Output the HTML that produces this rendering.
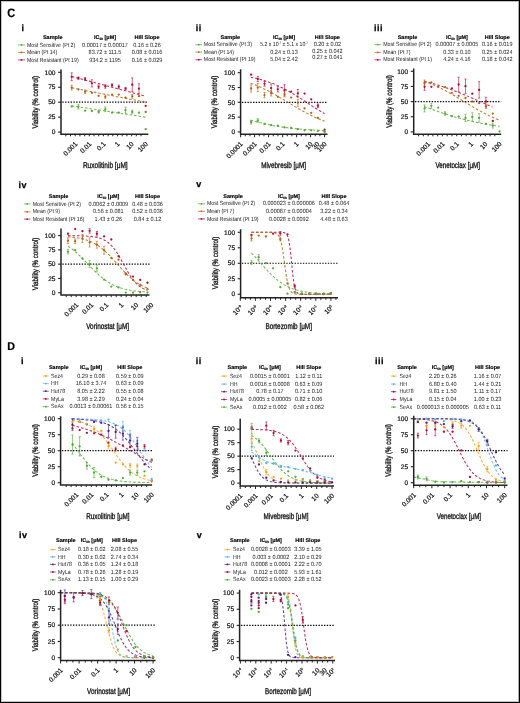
<!DOCTYPE html>
<html><head><meta charset="utf-8"><style>
html,body{margin:0;padding:0;background:#fff;}
svg{display:block;will-change:transform;}
text{font-family:"Liberation Sans",sans-serif;text-rendering:geometricPrecision;}
</style></head><body>
<svg width="520" height="703" viewBox="0 0 520 703">
<rect x="0" y="0" width="520" height="703" fill="#fff"/>
<text transform="translate(7.3,17) scale(0.9,1)" font-size="12.2" font-weight="bold" fill="#000" stroke="#000" stroke-width="0.2">C</text>
<text transform="translate(7.3,350.3) scale(0.95,1)" font-size="11.3" font-weight="bold" fill="#000" stroke="#000" stroke-width="0.2">D</text>
<text x="21.4" y="30.9" font-size="9" text-anchor="start" font-weight="bold" fill="#000" stroke="#000" stroke-width="0.25" letter-spacing="0.5">i</text>
<text x="52.7" y="39" font-size="5.5" text-anchor="middle" font-weight="bold" fill="#000" stroke="#000" stroke-width="0.15" >Sample</text>
<text x="105" y="39" font-size="5.5" text-anchor="middle" font-weight="bold" fill="#000" stroke="#000" stroke-width="0.15" textLength="22" lengthAdjust="spacingAndGlyphs">IC<tspan font-size="3.3" dy="1">50</tspan><tspan dy="-1"> [μM]</tspan></text>
<text x="147" y="39" font-size="5.5" text-anchor="middle" font-weight="bold" fill="#000" stroke="#000" stroke-width="0.15" >Hill Slope</text>
<line x1="18" y1="44.9" x2="25" y2="44.9" stroke="#58a636" stroke-width="0.7" />
<circle cx="21.5" cy="44.9" r="0.9" fill="#58a636"/>
<text x="27" y="46.5" font-size="6" text-anchor="start" textLength="48.2" lengthAdjust="spacingAndGlyphs" fill="#222" >Most Sensitive (Pt 2)</text>
<text x="105" y="46.5" font-size="6" text-anchor="middle" textLength="45.83" lengthAdjust="spacingAndGlyphs" fill="#222" >0.00017 ± 0.00017</text>
<text x="147" y="46.5" font-size="6" text-anchor="middle" textLength="27.48" lengthAdjust="spacingAndGlyphs" fill="#222" >0.16 ± 0.26</text>
<line x1="18" y1="52.4" x2="25" y2="52.4" stroke="#b06414" stroke-width="0.7" />
<circle cx="21.5" cy="52.4" r="0.9" fill="#b06414"/>
<text x="27" y="54" font-size="6" text-anchor="start" textLength="30.2" lengthAdjust="spacingAndGlyphs" fill="#222" >Mean (Pt 14)</text>
<text x="105" y="54" font-size="6" text-anchor="middle" textLength="32.78" lengthAdjust="spacingAndGlyphs" fill="#222" >83.72 ± 111.5</text>
<text x="147" y="54" font-size="6" text-anchor="middle" textLength="30.54" lengthAdjust="spacingAndGlyphs" fill="#222" >0.08 ± 0.016</text>
<line x1="18" y1="59.9" x2="25" y2="59.9" stroke="#ac0c3a" stroke-width="0.7" />
<circle cx="21.5" cy="59.9" r="0.9" fill="#ac0c3a"/>
<text x="27" y="61.5" font-size="6" text-anchor="start" textLength="51.68" lengthAdjust="spacingAndGlyphs" fill="#222" >Most Resistant (Pt 19)</text>
<text x="105" y="61.5" font-size="6" text-anchor="middle" textLength="31.66" lengthAdjust="spacingAndGlyphs" fill="#222" >934.2 ± 1195</text>
<text x="147" y="61.5" font-size="6" text-anchor="middle" textLength="30.54" lengthAdjust="spacingAndGlyphs" fill="#222" >0.16 ± 0.029</text>
<line x1="62.35" y1="102.2" x2="148.3" y2="102.2" stroke="#000" stroke-width="1.2" stroke-dasharray="1.35 1.42"/>
<polyline points="71.7,76.49 145.7,96.22" fill="none" stroke="#ac0c3a" stroke-width="1.05" stroke-dasharray="2.6 1.9" opacity="0.85"/>
<polyline points="71.7,87.85 145.7,102.2" fill="none" stroke="#b06414" stroke-width="1.05" stroke-dasharray="2.6 1.9" opacity="0.85"/>
<polyline points="71.7,105.79 145.7,117.15" fill="none" stroke="#58a636" stroke-width="1.05" stroke-dasharray="2.6 1.9" opacity="0.85"/>
<line x1="71.7" y1="72.9" x2="71.7" y2="80.67" stroke="#ac0c3a" stroke-width="0.6" />
<line x1="70.6" y1="72.9" x2="72.8" y2="72.9" stroke="#ac0c3a" stroke-width="0.6" />
<line x1="70.6" y1="80.67" x2="72.8" y2="80.67" stroke="#ac0c3a" stroke-width="0.6" />
<circle cx="71.7" cy="76.78" r="1.15" fill="#ac0c3a"/>
<line x1="78.43" y1="76.96" x2="78.43" y2="79.36" stroke="#ac0c3a" stroke-width="0.6" />
<line x1="77.33" y1="76.96" x2="79.53" y2="76.96" stroke="#ac0c3a" stroke-width="0.6" />
<line x1="77.33" y1="79.36" x2="79.53" y2="79.36" stroke="#ac0c3a" stroke-width="0.6" />
<circle cx="78.43" cy="78.16" r="1.15" fill="#ac0c3a"/>
<line x1="85.15" y1="77.56" x2="85.15" y2="80.55" stroke="#ac0c3a" stroke-width="0.6" />
<line x1="84.05" y1="77.56" x2="86.25" y2="77.56" stroke="#ac0c3a" stroke-width="0.6" />
<line x1="84.05" y1="80.55" x2="86.25" y2="80.55" stroke="#ac0c3a" stroke-width="0.6" />
<circle cx="85.15" cy="79.06" r="1.15" fill="#ac0c3a"/>
<line x1="91.88" y1="79.78" x2="91.88" y2="86.95" stroke="#ac0c3a" stroke-width="0.6" />
<line x1="90.78" y1="79.78" x2="92.98" y2="79.78" stroke="#ac0c3a" stroke-width="0.6" />
<line x1="90.78" y1="86.95" x2="92.98" y2="86.95" stroke="#ac0c3a" stroke-width="0.6" />
<circle cx="91.88" cy="83.36" r="1.15" fill="#ac0c3a"/>
<line x1="98.61" y1="85.04" x2="98.61" y2="88.63" stroke="#ac0c3a" stroke-width="0.6" />
<line x1="97.51" y1="85.04" x2="99.71" y2="85.04" stroke="#ac0c3a" stroke-width="0.6" />
<line x1="97.51" y1="88.63" x2="99.71" y2="88.63" stroke="#ac0c3a" stroke-width="0.6" />
<circle cx="98.61" cy="86.83" r="1.15" fill="#ac0c3a"/>
<line x1="105.34" y1="84.68" x2="105.34" y2="88.27" stroke="#ac0c3a" stroke-width="0.6" />
<line x1="104.24" y1="84.68" x2="106.44" y2="84.68" stroke="#ac0c3a" stroke-width="0.6" />
<line x1="104.24" y1="88.27" x2="106.44" y2="88.27" stroke="#ac0c3a" stroke-width="0.6" />
<circle cx="105.34" cy="86.47" r="1.15" fill="#ac0c3a"/>
<line x1="112.06" y1="83.9" x2="112.06" y2="86.29" stroke="#ac0c3a" stroke-width="0.6" />
<line x1="110.96" y1="83.9" x2="113.16" y2="83.9" stroke="#ac0c3a" stroke-width="0.6" />
<line x1="110.96" y1="86.29" x2="113.16" y2="86.29" stroke="#ac0c3a" stroke-width="0.6" />
<circle cx="112.06" cy="85.1" r="1.15" fill="#ac0c3a"/>
<line x1="118.79" y1="85.04" x2="118.79" y2="88.63" stroke="#ac0c3a" stroke-width="0.6" />
<line x1="117.69" y1="85.04" x2="119.89" y2="85.04" stroke="#ac0c3a" stroke-width="0.6" />
<line x1="117.69" y1="88.63" x2="119.89" y2="88.63" stroke="#ac0c3a" stroke-width="0.6" />
<circle cx="118.79" cy="86.83" r="1.15" fill="#ac0c3a"/>
<line x1="125.52" y1="87.37" x2="125.52" y2="89.76" stroke="#ac0c3a" stroke-width="0.6" />
<line x1="124.42" y1="87.37" x2="126.62" y2="87.37" stroke="#ac0c3a" stroke-width="0.6" />
<line x1="124.42" y1="89.76" x2="126.62" y2="89.76" stroke="#ac0c3a" stroke-width="0.6" />
<circle cx="125.52" cy="88.57" r="1.15" fill="#ac0c3a"/>
<line x1="132.25" y1="77.86" x2="132.25" y2="91.62" stroke="#ac0c3a" stroke-width="0.6" />
<line x1="131.15" y1="77.86" x2="133.35" y2="77.86" stroke="#ac0c3a" stroke-width="0.6" />
<line x1="131.15" y1="91.62" x2="133.35" y2="91.62" stroke="#ac0c3a" stroke-width="0.6" />
<circle cx="132.25" cy="84.74" r="1.15" fill="#ac0c3a"/>
<line x1="138.97" y1="83.78" x2="138.97" y2="93.35" stroke="#ac0c3a" stroke-width="0.6" />
<line x1="137.87" y1="83.78" x2="140.07" y2="83.78" stroke="#ac0c3a" stroke-width="0.6" />
<line x1="137.87" y1="93.35" x2="140.07" y2="93.35" stroke="#ac0c3a" stroke-width="0.6" />
<circle cx="138.97" cy="88.57" r="1.15" fill="#ac0c3a"/>
<circle cx="145.7" cy="105.85" r="1.15" fill="#ac0c3a"/>
<line x1="71.7" y1="85.28" x2="71.7" y2="90.06" stroke="#b06414" stroke-width="0.6" />
<line x1="70.6" y1="85.28" x2="72.8" y2="85.28" stroke="#b06414" stroke-width="0.6" />
<line x1="70.6" y1="90.06" x2="72.8" y2="90.06" stroke="#b06414" stroke-width="0.6" />
<circle cx="71.7" cy="87.67" r="1.15" fill="#b06414"/>
<circle cx="78.43" cy="89.4" r="1.15" fill="#b06414"/>
<line x1="85.15" y1="89.88" x2="85.15" y2="93.47" stroke="#b06414" stroke-width="0.6" />
<line x1="84.05" y1="89.88" x2="86.25" y2="89.88" stroke="#b06414" stroke-width="0.6" />
<line x1="84.05" y1="93.47" x2="86.25" y2="93.47" stroke="#b06414" stroke-width="0.6" />
<circle cx="85.15" cy="91.68" r="1.15" fill="#b06414"/>
<circle cx="91.88" cy="92.87" r="1.15" fill="#b06414"/>
<circle cx="98.61" cy="95.8" r="1.15" fill="#b06414"/>
<line x1="105.34" y1="95.02" x2="105.34" y2="98.61" stroke="#b06414" stroke-width="0.6" />
<line x1="104.24" y1="95.02" x2="106.44" y2="95.02" stroke="#b06414" stroke-width="0.6" />
<line x1="104.24" y1="98.61" x2="106.44" y2="98.61" stroke="#b06414" stroke-width="0.6" />
<circle cx="105.34" cy="96.82" r="1.15" fill="#b06414"/>
<circle cx="112.06" cy="94.61" r="1.15" fill="#b06414"/>
<circle cx="118.79" cy="94.61" r="1.15" fill="#b06414"/>
<circle cx="125.52" cy="97.54" r="1.15" fill="#b06414"/>
<line x1="132.25" y1="94.55" x2="132.25" y2="98.13" stroke="#b06414" stroke-width="0.6" />
<line x1="131.15" y1="94.55" x2="133.35" y2="94.55" stroke="#b06414" stroke-width="0.6" />
<line x1="131.15" y1="98.13" x2="133.35" y2="98.13" stroke="#b06414" stroke-width="0.6" />
<circle cx="132.25" cy="96.34" r="1.15" fill="#b06414"/>
<circle cx="138.97" cy="96.22" r="1.15" fill="#b06414"/>
<circle cx="145.7" cy="111.89" r="1.15" fill="#b06414"/>
<circle cx="71.7" cy="106.39" r="1.15" fill="#58a636"/>
<line x1="78.43" y1="104.29" x2="78.43" y2="109.08" stroke="#58a636" stroke-width="0.6" />
<line x1="77.33" y1="104.29" x2="79.53" y2="104.29" stroke="#58a636" stroke-width="0.6" />
<line x1="77.33" y1="109.08" x2="79.53" y2="109.08" stroke="#58a636" stroke-width="0.6" />
<circle cx="78.43" cy="106.69" r="1.15" fill="#58a636"/>
<circle cx="85.15" cy="110.69" r="1.15" fill="#58a636"/>
<circle cx="91.88" cy="110.99" r="1.15" fill="#58a636"/>
<line x1="98.61" y1="110.69" x2="98.61" y2="113.08" stroke="#58a636" stroke-width="0.6" />
<line x1="97.51" y1="110.69" x2="99.71" y2="110.69" stroke="#58a636" stroke-width="0.6" />
<line x1="97.51" y1="113.08" x2="99.71" y2="113.08" stroke="#58a636" stroke-width="0.6" />
<circle cx="98.61" cy="111.89" r="1.15" fill="#58a636"/>
<line x1="105.34" y1="106.86" x2="105.34" y2="111.65" stroke="#58a636" stroke-width="0.6" />
<line x1="104.24" y1="106.86" x2="106.44" y2="106.86" stroke="#58a636" stroke-width="0.6" />
<line x1="104.24" y1="111.65" x2="106.44" y2="111.65" stroke="#58a636" stroke-width="0.6" />
<circle cx="105.34" cy="109.26" r="1.15" fill="#58a636"/>
<circle cx="112.06" cy="112.72" r="1.15" fill="#58a636"/>
<circle cx="118.79" cy="112.72" r="1.15" fill="#58a636"/>
<line x1="125.52" y1="107.16" x2="125.52" y2="113.14" stroke="#58a636" stroke-width="0.6" />
<line x1="124.42" y1="107.16" x2="126.62" y2="107.16" stroke="#58a636" stroke-width="0.6" />
<line x1="124.42" y1="113.14" x2="126.62" y2="113.14" stroke="#58a636" stroke-width="0.6" />
<circle cx="125.52" cy="110.15" r="1.15" fill="#58a636"/>
<line x1="132.25" y1="110.09" x2="132.25" y2="113.68" stroke="#58a636" stroke-width="0.6" />
<line x1="131.15" y1="110.09" x2="133.35" y2="110.09" stroke="#58a636" stroke-width="0.6" />
<line x1="131.15" y1="113.68" x2="133.35" y2="113.68" stroke="#58a636" stroke-width="0.6" />
<circle cx="132.25" cy="111.89" r="1.15" fill="#58a636"/>
<circle cx="138.97" cy="112.72" r="1.15" fill="#58a636"/>
<circle cx="145.7" cy="129.17" r="1.15" fill="#58a636"/>
<path d="M61,69.5 V134.3 H148.3" fill="none" stroke="#222" stroke-width="1.5"/>
<line x1="58.1" y1="132.1" x2="61" y2="132.1" stroke="#222" stroke-width="1.1" />
<text x="55.5" y="134.3" font-size="6.6" text-anchor="end" fill="#111" stroke="#111" stroke-width="0.2" >0</text>
<line x1="58.1" y1="117.15" x2="61" y2="117.15" stroke="#222" stroke-width="1.1" />
<text x="55.5" y="119.35" font-size="6.6" text-anchor="end" fill="#111" stroke="#111" stroke-width="0.2" >25</text>
<line x1="58.1" y1="102.2" x2="61" y2="102.2" stroke="#222" stroke-width="1.1" />
<text x="55.5" y="104.4" font-size="6.6" text-anchor="end" fill="#111" stroke="#111" stroke-width="0.2" >50</text>
<line x1="58.1" y1="87.25" x2="61" y2="87.25" stroke="#222" stroke-width="1.1" />
<text x="55.5" y="89.45" font-size="6.6" text-anchor="end" fill="#111" stroke="#111" stroke-width="0.2" >75</text>
<line x1="58.1" y1="72.3" x2="61" y2="72.3" stroke="#222" stroke-width="1.1" />
<text x="55.5" y="74.5" font-size="6.6" text-anchor="end" fill="#111" stroke="#111" stroke-width="0.2" >100</text>
<line x1="65.81" y1="134.3" x2="65.81" y2="136.3" stroke="#222" stroke-width="1" />
<line x1="70.51" y1="134.3" x2="70.51" y2="136.3" stroke="#222" stroke-width="1" />
<line x1="75.21" y1="134.3" x2="75.21" y2="136.3" stroke="#222" stroke-width="1" />
<line x1="79.91" y1="134.3" x2="79.91" y2="136.3" stroke="#222" stroke-width="1" />
<line x1="84.61" y1="134.3" x2="84.61" y2="136.3" stroke="#222" stroke-width="1" />
<line x1="89.31" y1="134.3" x2="89.31" y2="136.3" stroke="#222" stroke-width="1" />
<line x1="94.01" y1="134.3" x2="94.01" y2="136.3" stroke="#222" stroke-width="1" />
<line x1="98.71" y1="134.3" x2="98.71" y2="136.3" stroke="#222" stroke-width="1" />
<line x1="103.41" y1="134.3" x2="103.41" y2="136.3" stroke="#222" stroke-width="1" />
<line x1="108.11" y1="134.3" x2="108.11" y2="136.3" stroke="#222" stroke-width="1" />
<line x1="112.81" y1="134.3" x2="112.81" y2="136.3" stroke="#222" stroke-width="1" />
<line x1="117.51" y1="134.3" x2="117.51" y2="136.3" stroke="#222" stroke-width="1" />
<line x1="122.21" y1="134.3" x2="122.21" y2="136.3" stroke="#222" stroke-width="1" />
<line x1="126.91" y1="134.3" x2="126.91" y2="136.3" stroke="#222" stroke-width="1" />
<line x1="131.61" y1="134.3" x2="131.61" y2="136.3" stroke="#222" stroke-width="1" />
<line x1="136.31" y1="134.3" x2="136.31" y2="136.3" stroke="#222" stroke-width="1" />
<line x1="141.01" y1="134.3" x2="141.01" y2="136.3" stroke="#222" stroke-width="1" />
<text transform="translate(77.8,144.5) rotate(-45)" font-size="6.6" text-anchor="end" fill="#111" stroke="#111" stroke-width="0.2">0.001</text>
<text transform="translate(91.9,144.5) rotate(-45)" font-size="6.6" text-anchor="end" fill="#111" stroke="#111" stroke-width="0.2">0.01</text>
<text transform="translate(106,144.5) rotate(-45)" font-size="6.6" text-anchor="end" fill="#111" stroke="#111" stroke-width="0.2">0.1</text>
<text transform="translate(120.1,144.5) rotate(-45)" font-size="6.6" text-anchor="end" fill="#111" stroke="#111" stroke-width="0.2">1</text>
<text transform="translate(134.2,144.5) rotate(-45)" font-size="6.6" text-anchor="end" fill="#111" stroke="#111" stroke-width="0.2">10</text>
<text transform="translate(148.3,144.5) rotate(-45)" font-size="6.6" text-anchor="end" fill="#111" stroke="#111" stroke-width="0.2">100</text>
<text x="105.3" y="168" font-size="8.3" text-anchor="middle" textLength="44.8" lengthAdjust="spacingAndGlyphs" fill="#111" stroke="#111" stroke-width="0.32" >Ruxolitinib [μM]</text>
<text transform="translate(37.9,102.3) rotate(-90)" font-size="8" text-anchor="middle" fill="#111" stroke="#111" stroke-width="0.32" textLength="52.6" lengthAdjust="spacingAndGlyphs">Viability (% control)</text>
<text x="195.7" y="30.9" font-size="9" text-anchor="start" font-weight="bold" fill="#000" stroke="#000" stroke-width="0.25" letter-spacing="0.5">ii</text>
<text x="230.4" y="38.6" font-size="5.5" text-anchor="middle" font-weight="bold" fill="#000" stroke="#000" stroke-width="0.15" >Sample</text>
<text x="284" y="38.6" font-size="5.5" text-anchor="middle" font-weight="bold" fill="#000" stroke="#000" stroke-width="0.15" textLength="22" lengthAdjust="spacingAndGlyphs">IC<tspan font-size="3.3" dy="1">50</tspan><tspan dy="-1"> [μM]</tspan></text>
<text x="327.4" y="38.6" font-size="5.5" text-anchor="middle" font-weight="bold" fill="#000" stroke="#000" stroke-width="0.15" >Hill Slope</text>
<line x1="195.4" y1="44.7" x2="202" y2="44.7" stroke="#58a636" stroke-width="0.7" />
<circle cx="198.7" cy="44.7" r="0.9" fill="#58a636"/>
<text x="203.8" y="46.3" font-size="6" text-anchor="start" textLength="48.2" lengthAdjust="spacingAndGlyphs" fill="#222" >Most Sensitive (Pt 3)</text>
<text x="284" y="46.3" font-size="6" text-anchor="middle" textLength="47.6" lengthAdjust="spacingAndGlyphs" fill="#222" >5.2 x 10<tspan font-size="3.3" dy="-2">-7</tspan><tspan dy="2"> ± 5.1 x 10</tspan><tspan font-size="3.3" dy="-2">-7</tspan></text>
<text x="327.4" y="45.9" font-size="6" text-anchor="middle" textLength="27.48" lengthAdjust="spacingAndGlyphs" fill="#222" >0.20 ± 0.02</text>
<line x1="195.4" y1="52.1" x2="202" y2="52.1" stroke="#b06414" stroke-width="0.7" />
<circle cx="198.7" cy="52.1" r="0.9" fill="#b06414"/>
<text x="203.8" y="53.7" font-size="6" text-anchor="start" textLength="30.2" lengthAdjust="spacingAndGlyphs" fill="#222" >Mean (Pt 14)</text>
<text x="284" y="53.7" font-size="6" text-anchor="middle" textLength="27.48" lengthAdjust="spacingAndGlyphs" fill="#222" >0.24 ± 0.13</text>
<text x="327.4" y="52.5" font-size="6" text-anchor="middle" textLength="30.54" lengthAdjust="spacingAndGlyphs" fill="#222" >0.25 ± 0.042</text>
<line x1="195.4" y1="59.7" x2="202" y2="59.7" stroke="#ac0c3a" stroke-width="0.7" />
<circle cx="198.7" cy="59.7" r="0.9" fill="#ac0c3a"/>
<text x="203.8" y="61.3" font-size="6" text-anchor="start" textLength="51.68" lengthAdjust="spacingAndGlyphs" fill="#222" >Most Resistant (Pt 19)</text>
<text x="284" y="61.3" font-size="6" text-anchor="middle" textLength="27.48" lengthAdjust="spacingAndGlyphs" fill="#222" >5.04 ± 2.42</text>
<text x="327.4" y="59" font-size="6" text-anchor="middle" textLength="30.54" lengthAdjust="spacingAndGlyphs" fill="#222" >0.27 ± 0.041</text>
<line x1="241.95" y1="102.3" x2="327.5" y2="102.3" stroke="#000" stroke-width="1.2" stroke-dasharray="1.35 1.42"/>
<polyline points="250.68,77.3 251.91,77.54 253.14,77.78 254.38,78.04 255.61,78.32 256.84,78.6 258.07,78.9 259.3,79.21 260.54,79.53 261.77,79.87 263,80.22 264.23,80.59 265.46,80.97 266.7,81.37 267.93,81.78 269.16,82.21 270.39,82.65 271.62,83.11 272.86,83.59 274.09,84.09 275.32,84.6 276.55,85.13 277.78,85.67 279.02,86.24 280.25,86.81 281.48,87.41 282.71,88.02 283.94,88.65 285.18,89.3 286.41,89.96 287.64,90.64 288.87,91.33 290.1,92.03 291.34,92.75 292.57,93.48 293.8,94.23 295.03,94.98 296.26,95.75 297.5,96.52 298.73,97.31 299.96,98.1 301.19,98.89 302.42,99.69 303.66,100.5 304.89,101.31 306.12,102.12 307.35,102.93 308.58,103.73 309.82,104.54 311.05,105.34 312.28,106.14 313.51,106.94 314.74,107.72 315.98,108.5 317.21,109.27 318.44,110.03 319.67,110.78 320.9,111.52 322.14,112.24 323.37,112.95 324.6,113.65" fill="none" stroke="#ac0c3a" stroke-width="1.05" stroke-dasharray="2.6 1.9" opacity="0.85"/>
<polyline points="250.68,83.23 251.91,83.67 253.14,84.13 254.38,84.61 255.61,85.1 256.84,85.6 258.07,86.12 259.3,86.65 260.54,87.2 261.77,87.76 263,88.34 264.23,88.93 265.46,89.53 266.7,90.15 267.93,90.78 269.16,91.42 270.39,92.07 271.62,92.74 272.86,93.42 274.09,94.1 275.32,94.8 276.55,95.51 277.78,96.22 279.02,96.94 280.25,97.67 281.48,98.4 282.71,99.14 283.94,99.89 285.18,100.63 286.41,101.38 287.64,102.13 288.87,102.88 290.1,103.63 291.34,104.38 292.57,105.12 293.8,105.86 295.03,106.6 296.26,107.33 297.5,108.05 298.73,108.77 299.96,109.48 301.19,110.18 302.42,110.87 303.66,111.56 304.89,112.23 306.12,112.89 307.35,113.53 308.58,114.17 309.82,114.79 311.05,115.4 312.28,116 313.51,116.58 314.74,117.15 315.98,117.7 317.21,118.24 318.44,118.77 319.67,119.28 320.9,119.77 322.14,120.25 323.37,120.72 324.6,121.17" fill="none" stroke="#b06414" stroke-width="1.05" stroke-dasharray="2.6 1.9" opacity="0.85"/>
<polyline points="250.68,120.02 251.91,120.4 253.14,120.77 254.38,121.13 255.61,121.48 256.84,121.82 258.07,122.16 259.3,122.48 260.54,122.8 261.77,123.11 263,123.41 264.23,123.7 265.46,123.98 266.7,124.25 267.93,124.52 269.16,124.78 270.39,125.03 271.62,125.27 272.86,125.5 274.09,125.73 275.32,125.95 276.55,126.17 277.78,126.37 279.02,126.57 280.25,126.77 281.48,126.95 282.71,127.13 283.94,127.31 285.18,127.48 286.41,127.64 287.64,127.8 288.87,127.95 290.1,128.1 291.34,128.24 292.57,128.37 293.8,128.51 295.03,128.63 296.26,128.76 297.5,128.87 298.73,128.99 299.96,129.1 301.19,129.21 302.42,129.31 303.66,129.41 304.89,129.5 306.12,129.59 307.35,129.68 308.58,129.77 309.82,129.85 311.05,129.93 312.28,130 313.51,130.08 314.74,130.15 315.98,130.21 317.21,130.28 318.44,130.34 319.67,130.4 320.9,130.46 322.14,130.52 323.37,130.57 324.6,130.62" fill="none" stroke="#58a636" stroke-width="1.05" stroke-dasharray="2.6 1.9" opacity="0.85"/>
<circle cx="251.12" cy="74.65" r="1.15" fill="#ac0c3a"/>
<line x1="257.8" y1="76.37" x2="257.8" y2="81.58" stroke="#ac0c3a" stroke-width="0.6" />
<line x1="256.7" y1="76.37" x2="258.9" y2="76.37" stroke="#ac0c3a" stroke-width="0.6" />
<line x1="256.7" y1="81.58" x2="258.9" y2="81.58" stroke="#ac0c3a" stroke-width="0.6" />
<circle cx="257.8" cy="78.98" r="1.15" fill="#ac0c3a"/>
<line x1="264.48" y1="81.46" x2="264.48" y2="86.2" stroke="#ac0c3a" stroke-width="0.6" />
<line x1="263.38" y1="81.46" x2="265.58" y2="81.46" stroke="#ac0c3a" stroke-width="0.6" />
<line x1="263.38" y1="86.2" x2="265.58" y2="86.2" stroke="#ac0c3a" stroke-width="0.6" />
<circle cx="264.48" cy="83.83" r="1.15" fill="#ac0c3a"/>
<line x1="271.16" y1="83.95" x2="271.16" y2="92.24" stroke="#ac0c3a" stroke-width="0.6" />
<line x1="270.06" y1="83.95" x2="272.26" y2="83.95" stroke="#ac0c3a" stroke-width="0.6" />
<line x1="270.06" y1="92.24" x2="272.26" y2="92.24" stroke="#ac0c3a" stroke-width="0.6" />
<circle cx="271.16" cy="88.09" r="1.15" fill="#ac0c3a"/>
<line x1="277.84" y1="86.73" x2="277.84" y2="91.94" stroke="#ac0c3a" stroke-width="0.6" />
<line x1="276.74" y1="86.73" x2="278.94" y2="86.73" stroke="#ac0c3a" stroke-width="0.6" />
<line x1="276.74" y1="91.94" x2="278.94" y2="91.94" stroke="#ac0c3a" stroke-width="0.6" />
<circle cx="277.84" cy="89.34" r="1.15" fill="#ac0c3a"/>
<line x1="284.52" y1="84.6" x2="284.52" y2="95.85" stroke="#ac0c3a" stroke-width="0.6" />
<line x1="283.42" y1="84.6" x2="285.62" y2="84.6" stroke="#ac0c3a" stroke-width="0.6" />
<line x1="283.42" y1="95.85" x2="285.62" y2="95.85" stroke="#ac0c3a" stroke-width="0.6" />
<circle cx="284.52" cy="90.22" r="1.15" fill="#ac0c3a"/>
<circle cx="291.2" cy="91.53" r="1.15" fill="#ac0c3a"/>
<line x1="297.88" y1="89.45" x2="297.88" y2="97.15" stroke="#ac0c3a" stroke-width="0.6" />
<line x1="296.78" y1="89.45" x2="298.98" y2="89.45" stroke="#ac0c3a" stroke-width="0.6" />
<line x1="296.78" y1="97.15" x2="298.98" y2="97.15" stroke="#ac0c3a" stroke-width="0.6" />
<circle cx="297.88" cy="93.3" r="1.15" fill="#ac0c3a"/>
<circle cx="304.56" cy="93.6" r="1.15" fill="#ac0c3a"/>
<circle cx="311.24" cy="99.34" r="1.15" fill="#ac0c3a"/>
<line x1="317.92" y1="103.96" x2="317.92" y2="107.51" stroke="#ac0c3a" stroke-width="0.6" />
<line x1="316.82" y1="103.96" x2="319.02" y2="103.96" stroke="#ac0c3a" stroke-width="0.6" />
<line x1="316.82" y1="107.51" x2="319.02" y2="107.51" stroke="#ac0c3a" stroke-width="0.6" />
<circle cx="317.92" cy="105.73" r="1.15" fill="#ac0c3a"/>
<circle cx="324.6" cy="129.65" r="1.15" fill="#ac0c3a"/>
<line x1="251.12" y1="84.95" x2="251.12" y2="92.06" stroke="#b06414" stroke-width="0.6" />
<line x1="250.02" y1="84.95" x2="252.22" y2="84.95" stroke="#b06414" stroke-width="0.6" />
<line x1="250.02" y1="92.06" x2="252.22" y2="92.06" stroke="#b06414" stroke-width="0.6" />
<circle cx="251.12" cy="88.51" r="1.15" fill="#b06414"/>
<line x1="257.8" y1="83.47" x2="257.8" y2="91.76" stroke="#b06414" stroke-width="0.6" />
<line x1="256.7" y1="83.47" x2="258.9" y2="83.47" stroke="#b06414" stroke-width="0.6" />
<line x1="256.7" y1="91.76" x2="258.9" y2="91.76" stroke="#b06414" stroke-width="0.6" />
<circle cx="257.8" cy="87.62" r="1.15" fill="#b06414"/>
<line x1="264.48" y1="92.41" x2="264.48" y2="97.74" stroke="#b06414" stroke-width="0.6" />
<line x1="263.38" y1="92.41" x2="265.58" y2="92.41" stroke="#b06414" stroke-width="0.6" />
<line x1="263.38" y1="97.74" x2="265.58" y2="97.74" stroke="#b06414" stroke-width="0.6" />
<circle cx="264.48" cy="95.08" r="1.15" fill="#b06414"/>
<line x1="271.16" y1="90.7" x2="271.16" y2="95.91" stroke="#b06414" stroke-width="0.6" />
<line x1="270.06" y1="90.7" x2="272.26" y2="90.7" stroke="#b06414" stroke-width="0.6" />
<line x1="270.06" y1="95.91" x2="272.26" y2="95.91" stroke="#b06414" stroke-width="0.6" />
<circle cx="271.16" cy="93.3" r="1.15" fill="#b06414"/>
<circle cx="277.84" cy="96.79" r="1.15" fill="#b06414"/>
<line x1="284.52" y1="91.64" x2="284.52" y2="96.85" stroke="#b06414" stroke-width="0.6" />
<line x1="283.42" y1="91.64" x2="285.62" y2="91.64" stroke="#b06414" stroke-width="0.6" />
<line x1="283.42" y1="96.85" x2="285.62" y2="96.85" stroke="#b06414" stroke-width="0.6" />
<circle cx="284.52" cy="94.25" r="1.15" fill="#b06414"/>
<circle cx="291.2" cy="97.56" r="1.15" fill="#b06414"/>
<line x1="297.88" y1="99.16" x2="297.88" y2="106.27" stroke="#b06414" stroke-width="0.6" />
<line x1="296.78" y1="99.16" x2="298.98" y2="99.16" stroke="#b06414" stroke-width="0.6" />
<line x1="296.78" y1="106.27" x2="298.98" y2="106.27" stroke="#b06414" stroke-width="0.6" />
<circle cx="297.88" cy="102.71" r="1.15" fill="#b06414"/>
<circle cx="304.56" cy="108.46" r="1.15" fill="#b06414"/>
<circle cx="311.24" cy="112.78" r="1.15" fill="#b06414"/>
<circle cx="317.92" cy="117.93" r="1.15" fill="#b06414"/>
<circle cx="324.6" cy="131.9" r="1.15" fill="#b06414"/>
<line x1="251.12" y1="120.47" x2="251.12" y2="124.03" stroke="#58a636" stroke-width="0.6" />
<line x1="250.02" y1="120.47" x2="252.22" y2="120.47" stroke="#58a636" stroke-width="0.6" />
<line x1="250.02" y1="124.03" x2="252.22" y2="124.03" stroke="#58a636" stroke-width="0.6" />
<circle cx="251.12" cy="122.25" r="1.15" fill="#58a636"/>
<line x1="257.8" y1="118.7" x2="257.8" y2="122.25" stroke="#58a636" stroke-width="0.6" />
<line x1="256.7" y1="118.7" x2="258.9" y2="118.7" stroke="#58a636" stroke-width="0.6" />
<line x1="256.7" y1="122.25" x2="258.9" y2="122.25" stroke="#58a636" stroke-width="0.6" />
<circle cx="257.8" cy="120.47" r="1.15" fill="#58a636"/>
<circle cx="264.48" cy="123.97" r="1.15" fill="#58a636"/>
<circle cx="271.16" cy="125.15" r="1.15" fill="#58a636"/>
<circle cx="277.84" cy="125.68" r="1.15" fill="#58a636"/>
<circle cx="284.52" cy="127.4" r="1.15" fill="#58a636"/>
<circle cx="291.2" cy="127.93" r="1.15" fill="#58a636"/>
<circle cx="297.88" cy="129.18" r="1.15" fill="#58a636"/>
<circle cx="304.56" cy="130.36" r="1.15" fill="#58a636"/>
<circle cx="311.24" cy="130.36" r="1.15" fill="#58a636"/>
<circle cx="317.92" cy="130.89" r="1.15" fill="#58a636"/>
<circle cx="324.6" cy="131.37" r="1.15" fill="#58a636"/>
<path d="M240.6,69.2 V134.3 H327.5" fill="none" stroke="#222" stroke-width="1.5"/>
<line x1="237.7" y1="131.9" x2="240.6" y2="131.9" stroke="#222" stroke-width="1.1" />
<text x="235.1" y="134.1" font-size="6.6" text-anchor="end" fill="#111" stroke="#111" stroke-width="0.2" >0</text>
<line x1="237.7" y1="117.1" x2="240.6" y2="117.1" stroke="#222" stroke-width="1.1" />
<text x="235.1" y="119.3" font-size="6.6" text-anchor="end" fill="#111" stroke="#111" stroke-width="0.2" >25</text>
<line x1="237.7" y1="102.3" x2="240.6" y2="102.3" stroke="#222" stroke-width="1.1" />
<text x="235.1" y="104.5" font-size="6.6" text-anchor="end" fill="#111" stroke="#111" stroke-width="0.2" >50</text>
<line x1="237.7" y1="87.5" x2="240.6" y2="87.5" stroke="#222" stroke-width="1.1" />
<text x="235.1" y="89.7" font-size="6.6" text-anchor="end" fill="#111" stroke="#111" stroke-width="0.2" >75</text>
<line x1="237.7" y1="72.7" x2="240.6" y2="72.7" stroke="#222" stroke-width="1.1" />
<text x="235.1" y="74.9" font-size="6.6" text-anchor="end" fill="#111" stroke="#111" stroke-width="0.2" >100</text>
<line x1="240.6" y1="134.3" x2="240.6" y2="137.3" stroke="#222" stroke-width="1" />
<line x1="245.27" y1="134.3" x2="245.27" y2="136.3" stroke="#222" stroke-width="1" />
<line x1="249.93" y1="134.3" x2="249.93" y2="136.3" stroke="#222" stroke-width="1" />
<line x1="254.6" y1="134.3" x2="254.6" y2="137.3" stroke="#222" stroke-width="1" />
<line x1="259.27" y1="134.3" x2="259.27" y2="136.3" stroke="#222" stroke-width="1" />
<line x1="263.93" y1="134.3" x2="263.93" y2="136.3" stroke="#222" stroke-width="1" />
<line x1="268.6" y1="134.3" x2="268.6" y2="137.3" stroke="#222" stroke-width="1" />
<line x1="273.27" y1="134.3" x2="273.27" y2="136.3" stroke="#222" stroke-width="1" />
<line x1="277.93" y1="134.3" x2="277.93" y2="136.3" stroke="#222" stroke-width="1" />
<line x1="282.6" y1="134.3" x2="282.6" y2="137.3" stroke="#222" stroke-width="1" />
<line x1="287.27" y1="134.3" x2="287.27" y2="136.3" stroke="#222" stroke-width="1" />
<line x1="291.93" y1="134.3" x2="291.93" y2="136.3" stroke="#222" stroke-width="1" />
<line x1="296.6" y1="134.3" x2="296.6" y2="137.3" stroke="#222" stroke-width="1" />
<line x1="301.27" y1="134.3" x2="301.27" y2="136.3" stroke="#222" stroke-width="1" />
<line x1="305.93" y1="134.3" x2="305.93" y2="136.3" stroke="#222" stroke-width="1" />
<line x1="310.6" y1="134.3" x2="310.6" y2="137.3" stroke="#222" stroke-width="1" />
<line x1="315.27" y1="134.3" x2="315.27" y2="136.3" stroke="#222" stroke-width="1" />
<line x1="319.93" y1="134.3" x2="319.93" y2="136.3" stroke="#222" stroke-width="1" />
<line x1="324.6" y1="134.3" x2="324.6" y2="137.3" stroke="#222" stroke-width="1" />
<text transform="translate(243.2,144.5) rotate(-45)" font-size="6.6" text-anchor="end" fill="#111" stroke="#111" stroke-width="0.2">0.0001</text>
<text transform="translate(257.2,144.5) rotate(-45)" font-size="6.6" text-anchor="end" fill="#111" stroke="#111" stroke-width="0.2">0.001</text>
<text transform="translate(271.2,144.5) rotate(-45)" font-size="6.6" text-anchor="end" fill="#111" stroke="#111" stroke-width="0.2">0.01</text>
<text transform="translate(285.2,144.5) rotate(-45)" font-size="6.6" text-anchor="end" fill="#111" stroke="#111" stroke-width="0.2">0.1</text>
<text transform="translate(299.2,144.5) rotate(-45)" font-size="6.6" text-anchor="end" fill="#111" stroke="#111" stroke-width="0.2">1</text>
<text transform="translate(313.2,144.5) rotate(-45)" font-size="6.6" text-anchor="end" fill="#111" stroke="#111" stroke-width="0.2">10</text>
<text transform="translate(319.88,144.5) rotate(-45)" font-size="6.6" text-anchor="end" fill="#111" stroke="#111" stroke-width="0.2">30</text>
<text transform="translate(327.2,144.5) rotate(-45)" font-size="6.6" text-anchor="end" fill="#111" stroke="#111" stroke-width="0.2">100</text>
<text x="283.6" y="168.2" font-size="8.3" text-anchor="middle" textLength="44.8" lengthAdjust="spacingAndGlyphs" fill="#111" stroke="#111" stroke-width="0.32" >Mivebresib [μM]</text>
<text transform="translate(217.4,102) rotate(-90)" font-size="8" text-anchor="middle" fill="#111" stroke="#111" stroke-width="0.32" textLength="52.6" lengthAdjust="spacingAndGlyphs">Viability (% control)</text>
<text x="374" y="31" font-size="9" text-anchor="start" font-weight="bold" fill="#000" stroke="#000" stroke-width="0.25" letter-spacing="0.5">iii</text>
<text x="407.5" y="38.8" font-size="5.5" text-anchor="middle" font-weight="bold" fill="#000" stroke="#000" stroke-width="0.15" >Sample</text>
<text x="456.9" y="38.8" font-size="5.5" text-anchor="middle" font-weight="bold" fill="#000" stroke="#000" stroke-width="0.15" textLength="22" lengthAdjust="spacingAndGlyphs">IC<tspan font-size="3.3" dy="1">50</tspan><tspan dy="-1"> [μM]</tspan></text>
<text x="497.2" y="38.8" font-size="5.5" text-anchor="middle" font-weight="bold" fill="#000" stroke="#000" stroke-width="0.15" >Hill Slope</text>
<line x1="374.5" y1="44.6" x2="380.9" y2="44.6" stroke="#58a636" stroke-width="0.7" />
<circle cx="377.7" cy="44.6" r="0.9" fill="#58a636"/>
<text x="383.2" y="46.2" font-size="6" text-anchor="start" textLength="48.2" lengthAdjust="spacingAndGlyphs" fill="#222" >Most Sensitive (Pt 2)</text>
<text x="456.9" y="46.2" font-size="6" text-anchor="middle" textLength="42.77" lengthAdjust="spacingAndGlyphs" fill="#222" >0.00007 ± 0.0005</text>
<text x="497.2" y="46.2" font-size="6" text-anchor="middle" textLength="30.54" lengthAdjust="spacingAndGlyphs" fill="#222" >0.16 ± 0.019</text>
<line x1="374.5" y1="52.4" x2="380.9" y2="52.4" stroke="#b06414" stroke-width="0.7" />
<circle cx="377.7" cy="52.4" r="0.9" fill="#b06414"/>
<text x="383.2" y="54" font-size="6" text-anchor="start" textLength="27.29" lengthAdjust="spacingAndGlyphs" fill="#222" >Mean (Pt 7)</text>
<text x="456.9" y="54" font-size="6" text-anchor="middle" textLength="27.48" lengthAdjust="spacingAndGlyphs" fill="#222" >0.33 ± 0.10</text>
<text x="497.2" y="54" font-size="6" text-anchor="middle" textLength="30.54" lengthAdjust="spacingAndGlyphs" fill="#222" >0.25 ± 0.024</text>
<line x1="374.5" y1="59.8" x2="380.9" y2="59.8" stroke="#ac0c3a" stroke-width="0.7" />
<circle cx="377.7" cy="59.8" r="0.9" fill="#ac0c3a"/>
<text x="383.2" y="61.4" font-size="6" text-anchor="start" textLength="48.78" lengthAdjust="spacingAndGlyphs" fill="#222" >Most Resistant (Pt 1)</text>
<text x="456.9" y="61.4" font-size="6" text-anchor="middle" textLength="27.48" lengthAdjust="spacingAndGlyphs" fill="#222" >4.24 ± 4.16</text>
<text x="497.2" y="61.4" font-size="6" text-anchor="middle" textLength="30.54" lengthAdjust="spacingAndGlyphs" fill="#222" >0.18 ± 0.042</text>
<line x1="415.05" y1="101.6" x2="501.2" y2="101.6" stroke="#000" stroke-width="1.2" stroke-dasharray="1.35 1.42"/>
<polyline points="424.24,81.34 425.38,81.62 426.51,81.91 427.65,82.2 428.79,82.49 429.92,82.8 431.06,83.11 432.2,83.43 433.33,83.75 434.47,84.08 435.61,84.41 436.74,84.75 437.88,85.1 439.02,85.46 440.15,85.82 441.29,86.18 442.43,86.56 443.57,86.94 444.7,87.32 445.84,87.71 446.98,88.11 448.11,88.51 449.25,88.92 450.39,89.34 451.52,89.76 452.66,90.18 453.8,90.61 454.93,91.05 456.07,91.49 457.21,91.94 458.34,92.39 459.48,92.84 460.62,93.3 461.76,93.77 462.89,94.23 464.03,94.71 465.17,95.18 466.3,95.66 467.44,96.14 468.58,96.63 469.71,97.11 470.85,97.6 471.99,98.09 473.12,98.59 474.26,99.08 475.4,99.58 476.53,100.08 477.67,100.57 478.81,101.07 479.94,101.57 481.08,102.07 482.22,102.57 483.36,103.07 484.49,103.57 485.63,104.06 486.77,104.56 487.9,105.05 489.04,105.54 490.18,106.03 491.31,106.52 492.45,107" fill="none" stroke="#ac0c3a" stroke-width="1.05" stroke-dasharray="2.6 1.9" opacity="0.85"/>
<polyline points="424.24,81.43 425.5,81.86 426.75,82.31 428.01,82.77 429.26,83.25 430.52,83.74 431.78,84.25 433.03,84.77 434.29,85.31 435.54,85.86 436.8,86.43 438.06,87.01 439.31,87.61 440.57,88.22 441.82,88.84 443.08,89.48 444.34,90.13 445.59,90.79 446.85,91.46 448.1,92.15 449.36,92.84 450.62,93.55 451.87,94.27 453.13,94.99 454.38,95.73 455.64,96.47 456.9,97.22 458.15,97.97 459.41,98.72 460.66,99.49 461.92,100.25 463.18,101.01 464.43,101.78 465.69,102.55 466.94,103.31 468.2,104.07 469.46,104.83 470.71,105.59 471.97,106.34 473.22,107.08 474.48,107.82 475.74,108.55 476.99,109.27 478.25,109.98 479.5,110.68 480.76,111.38 482.02,112.06 483.27,112.73 484.53,113.38 485.78,114.03 487.04,114.66 488.3,115.27 489.55,115.88 490.81,116.46 492.06,117.04 493.32,117.6 494.58,118.14 495.83,118.67 497.09,119.19 498.34,119.69 499.6,120.18" fill="none" stroke="#b06414" stroke-width="1.05" stroke-dasharray="2.6 1.9" opacity="0.85"/>
<polyline points="424.24,106.47 425.5,106.95 426.75,107.42 428.01,107.89 429.26,108.36 430.52,108.82 431.78,109.28 433.03,109.74 434.29,110.19 435.54,110.64 436.8,111.08 438.06,111.52 439.31,111.96 440.57,112.39 441.82,112.82 443.08,113.24 444.34,113.65 445.59,114.06 446.85,114.47 448.1,114.87 449.36,115.26 450.62,115.65 451.87,116.03 453.13,116.4 454.38,116.78 455.64,117.14 456.9,117.5 458.15,117.85 459.41,118.2 460.66,118.54 461.92,118.87 463.18,119.2 464.43,119.52 465.69,119.84 466.94,120.15 468.2,120.45 469.46,120.75 470.71,121.04 471.97,121.32 473.22,121.6 474.48,121.88 475.74,122.14 476.99,122.41 478.25,122.66 479.5,122.91 480.76,123.16 482.02,123.4 483.27,123.63 484.53,123.86 485.78,124.08 487.04,124.3 488.3,124.51 489.55,124.72 490.81,124.92 492.06,125.12 493.32,125.31 494.58,125.5 495.83,125.68 497.09,125.86 498.34,126.03 499.6,126.2" fill="none" stroke="#58a636" stroke-width="1.05" stroke-dasharray="2.6 1.9" opacity="0.85"/>
<line x1="424.55" y1="83.36" x2="424.55" y2="90.27" stroke="#ac0c3a" stroke-width="0.6" />
<line x1="423.45" y1="83.36" x2="425.65" y2="83.36" stroke="#ac0c3a" stroke-width="0.6" />
<line x1="423.45" y1="90.27" x2="425.65" y2="90.27" stroke="#ac0c3a" stroke-width="0.6" />
<circle cx="424.55" cy="86.81" r="1.15" fill="#ac0c3a"/>
<circle cx="431.37" cy="86.81" r="1.15" fill="#ac0c3a"/>
<circle cx="451.84" cy="88.33" r="1.15" fill="#ac0c3a"/>
<line x1="458.66" y1="77.24" x2="458.66" y2="91.78" stroke="#ac0c3a" stroke-width="0.6" />
<line x1="457.56" y1="77.24" x2="459.76" y2="77.24" stroke="#ac0c3a" stroke-width="0.6" />
<line x1="457.56" y1="91.78" x2="459.76" y2="91.78" stroke="#ac0c3a" stroke-width="0.6" />
<circle cx="458.66" cy="84.51" r="1.15" fill="#ac0c3a"/>
<line x1="465.49" y1="79" x2="465.49" y2="93.54" stroke="#ac0c3a" stroke-width="0.6" />
<line x1="464.39" y1="79" x2="466.59" y2="79" stroke="#ac0c3a" stroke-width="0.6" />
<line x1="464.39" y1="93.54" x2="466.59" y2="93.54" stroke="#ac0c3a" stroke-width="0.6" />
<circle cx="465.49" cy="86.27" r="1.15" fill="#ac0c3a"/>
<circle cx="472.31" cy="93.66" r="1.15" fill="#ac0c3a"/>
<line x1="479.13" y1="81.66" x2="479.13" y2="98.15" stroke="#ac0c3a" stroke-width="0.6" />
<line x1="478.03" y1="81.66" x2="480.23" y2="81.66" stroke="#ac0c3a" stroke-width="0.6" />
<line x1="478.03" y1="98.15" x2="480.23" y2="98.15" stroke="#ac0c3a" stroke-width="0.6" />
<circle cx="479.13" cy="89.9" r="1.15" fill="#ac0c3a"/>
<line x1="485.95" y1="97.24" x2="485.95" y2="105.72" stroke="#ac0c3a" stroke-width="0.6" />
<line x1="484.85" y1="97.24" x2="487.05" y2="97.24" stroke="#ac0c3a" stroke-width="0.6" />
<line x1="484.85" y1="105.72" x2="487.05" y2="105.72" stroke="#ac0c3a" stroke-width="0.6" />
<circle cx="485.95" cy="101.48" r="1.15" fill="#ac0c3a"/>
<circle cx="492.78" cy="120.99" r="1.15" fill="#ac0c3a"/>
<line x1="424.55" y1="80.03" x2="424.55" y2="84.87" stroke="#b06414" stroke-width="0.6" />
<line x1="423.45" y1="80.03" x2="425.65" y2="80.03" stroke="#b06414" stroke-width="0.6" />
<line x1="423.45" y1="84.87" x2="425.65" y2="84.87" stroke="#b06414" stroke-width="0.6" />
<circle cx="424.55" cy="82.45" r="1.15" fill="#b06414"/>
<circle cx="431.37" cy="82.45" r="1.15" fill="#b06414"/>
<circle cx="438.19" cy="86.81" r="1.15" fill="#b06414"/>
<circle cx="445.02" cy="87.12" r="1.15" fill="#b06414"/>
<circle cx="451.84" cy="92.81" r="1.15" fill="#b06414"/>
<circle cx="458.66" cy="95.78" r="1.15" fill="#b06414"/>
<circle cx="465.49" cy="98.02" r="1.15" fill="#b06414"/>
<circle cx="472.31" cy="101.48" r="1.15" fill="#b06414"/>
<circle cx="479.13" cy="103.18" r="1.15" fill="#b06414"/>
<line x1="485.95" y1="104.81" x2="485.95" y2="108.45" stroke="#b06414" stroke-width="0.6" />
<line x1="484.85" y1="104.81" x2="487.05" y2="104.81" stroke="#b06414" stroke-width="0.6" />
<line x1="484.85" y1="108.45" x2="487.05" y2="108.45" stroke="#b06414" stroke-width="0.6" />
<circle cx="485.95" cy="106.63" r="1.15" fill="#b06414"/>
<circle cx="492.78" cy="113.54" r="1.15" fill="#b06414"/>
<line x1="424.55" y1="104.99" x2="424.55" y2="111.9" stroke="#58a636" stroke-width="0.6" />
<line x1="423.45" y1="104.99" x2="425.65" y2="104.99" stroke="#58a636" stroke-width="0.6" />
<line x1="423.45" y1="111.9" x2="425.65" y2="111.9" stroke="#58a636" stroke-width="0.6" />
<circle cx="424.55" cy="108.45" r="1.15" fill="#58a636"/>
<line x1="431.37" y1="103.42" x2="431.37" y2="108.27" stroke="#58a636" stroke-width="0.6" />
<line x1="430.27" y1="103.42" x2="432.47" y2="103.42" stroke="#58a636" stroke-width="0.6" />
<line x1="430.27" y1="108.27" x2="432.47" y2="108.27" stroke="#58a636" stroke-width="0.6" />
<circle cx="431.37" cy="105.84" r="1.15" fill="#58a636"/>
<circle cx="438.19" cy="107.54" r="1.15" fill="#58a636"/>
<line x1="445.02" y1="111.72" x2="445.02" y2="115.36" stroke="#58a636" stroke-width="0.6" />
<line x1="443.92" y1="111.72" x2="446.12" y2="111.72" stroke="#58a636" stroke-width="0.6" />
<line x1="443.92" y1="115.36" x2="446.12" y2="115.36" stroke="#58a636" stroke-width="0.6" />
<circle cx="445.02" cy="113.54" r="1.15" fill="#58a636"/>
<circle cx="451.84" cy="116.14" r="1.15" fill="#58a636"/>
<circle cx="458.66" cy="116.51" r="1.15" fill="#58a636"/>
<line x1="465.49" y1="114.27" x2="465.49" y2="121.54" stroke="#58a636" stroke-width="0.6" />
<line x1="464.39" y1="114.27" x2="466.59" y2="114.27" stroke="#58a636" stroke-width="0.6" />
<line x1="464.39" y1="121.54" x2="466.59" y2="121.54" stroke="#58a636" stroke-width="0.6" />
<circle cx="465.49" cy="117.9" r="1.15" fill="#58a636"/>
<line x1="472.31" y1="112.75" x2="472.31" y2="121.23" stroke="#58a636" stroke-width="0.6" />
<line x1="471.21" y1="112.75" x2="473.41" y2="112.75" stroke="#58a636" stroke-width="0.6" />
<line x1="471.21" y1="121.23" x2="473.41" y2="121.23" stroke="#58a636" stroke-width="0.6" />
<circle cx="472.31" cy="116.99" r="1.15" fill="#58a636"/>
<line x1="479.13" y1="113.66" x2="479.13" y2="122.14" stroke="#58a636" stroke-width="0.6" />
<line x1="478.03" y1="113.66" x2="480.23" y2="113.66" stroke="#58a636" stroke-width="0.6" />
<line x1="478.03" y1="122.14" x2="480.23" y2="122.14" stroke="#58a636" stroke-width="0.6" />
<circle cx="479.13" cy="117.9" r="1.15" fill="#58a636"/>
<circle cx="485.95" cy="123.96" r="1.15" fill="#58a636"/>
<line x1="492.78" y1="123.23" x2="492.78" y2="128.08" stroke="#58a636" stroke-width="0.6" />
<line x1="491.68" y1="123.23" x2="493.88" y2="123.23" stroke="#58a636" stroke-width="0.6" />
<line x1="491.68" y1="128.08" x2="493.88" y2="128.08" stroke="#58a636" stroke-width="0.6" />
<circle cx="492.78" cy="125.66" r="1.15" fill="#58a636"/>
<circle cx="499.6" cy="131.42" r="1.15" fill="#58a636"/>
<path d="M413.7,68.5 V134.3 H501.2" fill="none" stroke="#222" stroke-width="1.5"/>
<line x1="410.8" y1="131.9" x2="413.7" y2="131.9" stroke="#222" stroke-width="1.1" />
<text x="408.2" y="134.1" font-size="6.6" text-anchor="end" fill="#111" stroke="#111" stroke-width="0.2" >0</text>
<line x1="410.8" y1="116.75" x2="413.7" y2="116.75" stroke="#222" stroke-width="1.1" />
<text x="408.2" y="118.95" font-size="6.6" text-anchor="end" fill="#111" stroke="#111" stroke-width="0.2" >25</text>
<line x1="410.8" y1="101.6" x2="413.7" y2="101.6" stroke="#222" stroke-width="1.1" />
<text x="408.2" y="103.8" font-size="6.6" text-anchor="end" fill="#111" stroke="#111" stroke-width="0.2" >50</text>
<line x1="410.8" y1="86.45" x2="413.7" y2="86.45" stroke="#222" stroke-width="1.1" />
<text x="408.2" y="88.65" font-size="6.6" text-anchor="end" fill="#111" stroke="#111" stroke-width="0.2" >75</text>
<line x1="410.8" y1="71.3" x2="413.7" y2="71.3" stroke="#222" stroke-width="1.1" />
<text x="408.2" y="73.5" font-size="6.6" text-anchor="end" fill="#111" stroke="#111" stroke-width="0.2" >100</text>
<line x1="418.58" y1="134.3" x2="418.58" y2="136.3" stroke="#222" stroke-width="1" />
<line x1="423.34" y1="134.3" x2="423.34" y2="136.3" stroke="#222" stroke-width="1" />
<line x1="428.11" y1="134.3" x2="428.11" y2="136.3" stroke="#222" stroke-width="1" />
<line x1="432.88" y1="134.3" x2="432.88" y2="136.3" stroke="#222" stroke-width="1" />
<line x1="437.64" y1="134.3" x2="437.64" y2="136.3" stroke="#222" stroke-width="1" />
<line x1="442.41" y1="134.3" x2="442.41" y2="136.3" stroke="#222" stroke-width="1" />
<line x1="447.18" y1="134.3" x2="447.18" y2="136.3" stroke="#222" stroke-width="1" />
<line x1="451.94" y1="134.3" x2="451.94" y2="136.3" stroke="#222" stroke-width="1" />
<line x1="456.71" y1="134.3" x2="456.71" y2="136.3" stroke="#222" stroke-width="1" />
<line x1="461.48" y1="134.3" x2="461.48" y2="136.3" stroke="#222" stroke-width="1" />
<line x1="466.24" y1="134.3" x2="466.24" y2="136.3" stroke="#222" stroke-width="1" />
<line x1="471.01" y1="134.3" x2="471.01" y2="136.3" stroke="#222" stroke-width="1" />
<line x1="475.78" y1="134.3" x2="475.78" y2="136.3" stroke="#222" stroke-width="1" />
<line x1="480.54" y1="134.3" x2="480.54" y2="136.3" stroke="#222" stroke-width="1" />
<line x1="485.31" y1="134.3" x2="485.31" y2="136.3" stroke="#222" stroke-width="1" />
<line x1="490.08" y1="134.3" x2="490.08" y2="136.3" stroke="#222" stroke-width="1" />
<line x1="494.84" y1="134.3" x2="494.84" y2="136.3" stroke="#222" stroke-width="1" />
<text transform="translate(430.7,144.5) rotate(-45)" font-size="6.6" text-anchor="end" fill="#111" stroke="#111" stroke-width="0.2">0.001</text>
<text transform="translate(445,144.5) rotate(-45)" font-size="6.6" text-anchor="end" fill="#111" stroke="#111" stroke-width="0.2">0.01</text>
<text transform="translate(459.3,144.5) rotate(-45)" font-size="6.6" text-anchor="end" fill="#111" stroke="#111" stroke-width="0.2">0.1</text>
<text transform="translate(473.6,144.5) rotate(-45)" font-size="6.6" text-anchor="end" fill="#111" stroke="#111" stroke-width="0.2">1</text>
<text transform="translate(487.9,144.5) rotate(-45)" font-size="6.6" text-anchor="end" fill="#111" stroke="#111" stroke-width="0.2">10</text>
<text transform="translate(502.2,144.5) rotate(-45)" font-size="6.6" text-anchor="end" fill="#111" stroke="#111" stroke-width="0.2">100</text>
<text x="457.7" y="168.2" font-size="8.3" text-anchor="middle" textLength="44.6" lengthAdjust="spacingAndGlyphs" fill="#111" stroke="#111" stroke-width="0.32" >Venetoclax [μM]</text>
<text transform="translate(391.5,101.5) rotate(-90)" font-size="8" text-anchor="middle" fill="#111" stroke="#111" stroke-width="0.32" textLength="52.6" lengthAdjust="spacingAndGlyphs">Viability (% control)</text>
<text x="18.6" y="187.6" font-size="9" text-anchor="start" font-weight="bold" fill="#000" stroke="#000" stroke-width="0.25" letter-spacing="0.5">iv</text>
<text x="58.6" y="197.7" font-size="5.5" text-anchor="middle" font-weight="bold" fill="#000" stroke="#000" stroke-width="0.15" >Sample</text>
<text x="108.3" y="197.7" font-size="5.5" text-anchor="middle" font-weight="bold" fill="#000" stroke="#000" stroke-width="0.15" textLength="22" lengthAdjust="spacingAndGlyphs">IC<tspan font-size="3.3" dy="1">50</tspan><tspan dy="-1"> [μM]</tspan></text>
<text x="147.5" y="197.7" font-size="5.5" text-anchor="middle" font-weight="bold" fill="#000" stroke="#000" stroke-width="0.15" >Hill Slope</text>
<line x1="23.9" y1="203.9" x2="30.4" y2="203.9" stroke="#58a636" stroke-width="0.7" />
<circle cx="27.15" cy="203.9" r="0.9" fill="#58a636"/>
<text x="32.7" y="205.5" font-size="6" text-anchor="start" textLength="48.2" lengthAdjust="spacingAndGlyphs" fill="#222" >Most Sensitive (Pt 2)</text>
<text x="108.3" y="205.5" font-size="6" text-anchor="middle" textLength="39.72" lengthAdjust="spacingAndGlyphs" fill="#222" >0.0062 ± 0.0009</text>
<text x="147.5" y="205.5" font-size="6" text-anchor="middle" textLength="30.54" lengthAdjust="spacingAndGlyphs" fill="#222" >0.48 ± 0.036</text>
<line x1="23.9" y1="211.8" x2="30.4" y2="211.8" stroke="#b06414" stroke-width="0.7" />
<circle cx="27.15" cy="211.8" r="0.9" fill="#b06414"/>
<text x="32.7" y="213.4" font-size="6" text-anchor="start" textLength="27.29" lengthAdjust="spacingAndGlyphs" fill="#222" >Mean (Pt 9)</text>
<text x="108.3" y="213.4" font-size="6" text-anchor="middle" textLength="30.54" lengthAdjust="spacingAndGlyphs" fill="#222" >0.56 ± 0.081</text>
<text x="147.5" y="213.4" font-size="6" text-anchor="middle" textLength="30.54" lengthAdjust="spacingAndGlyphs" fill="#222" >0.52 ± 0.036</text>
<line x1="23.9" y1="219.1" x2="30.4" y2="219.1" stroke="#ac0c3a" stroke-width="0.7" />
<circle cx="27.15" cy="219.1" r="0.9" fill="#ac0c3a"/>
<text x="32.7" y="220.7" font-size="6" text-anchor="start" textLength="51.68" lengthAdjust="spacingAndGlyphs" fill="#222" >Most Resistant (Pt 16)</text>
<text x="108.3" y="220.7" font-size="6" text-anchor="middle" textLength="27.48" lengthAdjust="spacingAndGlyphs" fill="#222" >1.43 ± 0.26</text>
<text x="147.5" y="220.7" font-size="6" text-anchor="middle" textLength="27.48" lengthAdjust="spacingAndGlyphs" fill="#222" >0.84 ± 0.12</text>
<line x1="62.35" y1="264.15" x2="149.5" y2="264.15" stroke="#000" stroke-width="1.2" stroke-dasharray="1.35 1.42"/>
<polyline points="67.95,235.64 69.28,235.65 70.6,235.66 71.93,235.67 73.25,235.69 74.58,235.7 75.9,235.72 77.23,235.75 78.55,235.77 79.88,235.8 81.2,235.84 82.53,235.89 83.85,235.94 85.18,236 86.5,236.08 87.83,236.17 89.15,236.27 90.48,236.39 91.8,236.54 93.12,236.71 94.45,236.91 95.78,237.15 97.1,237.43 98.43,237.76 99.75,238.14 101.08,238.59 102.4,239.12 103.72,239.72 105.05,240.43 106.38,241.24 107.7,242.17 109.03,243.23 110.35,244.43 111.68,245.78 113,247.29 114.33,248.96 115.65,250.78 116.97,252.76 118.3,254.88 119.62,257.12 120.95,259.45 122.28,261.85 123.6,264.29 124.93,266.72 126.25,269.11 127.58,271.44 128.9,273.67 130.22,275.77 131.55,277.73 132.88,279.54 134.2,281.19 135.53,282.68 136.85,284.01 138.18,285.2 139.5,286.24 140.82,287.16 142.15,287.96 143.47,288.65 144.8,289.25 146.12,289.76 147.45,290.2" fill="none" stroke="#ac0c3a" stroke-width="1.05" stroke-dasharray="2.6 1.9" opacity="0.85"/>
<polyline points="67.95,236.68 69.28,236.8 70.6,236.93 71.93,237.07 73.25,237.23 74.58,237.4 75.9,237.6 77.23,237.81 78.55,238.05 79.88,238.31 81.2,238.6 82.53,238.91 83.85,239.26 85.18,239.64 86.5,240.05 87.83,240.5 89.15,241 90.48,241.54 91.8,242.13 93.12,242.76 94.45,243.45 95.78,244.2 97.1,245 98.43,245.86 99.75,246.78 101.08,247.76 102.4,248.8 103.72,249.91 105.05,251.07 106.38,252.29 107.7,253.57 109.03,254.9 110.35,256.27 111.68,257.68 113,259.13 114.33,260.61 115.65,262.1 116.97,263.61 118.3,265.12 119.62,266.62 120.95,268.11 122.28,269.58 123.6,271.02 124.93,272.42 126.25,273.78 127.58,275.1 128.9,276.36 130.22,277.56 131.55,278.71 132.88,279.8 134.2,280.82 135.53,281.79 136.85,282.69 138.18,283.53 139.5,284.32 140.82,285.05 142.15,285.72 143.47,286.34 144.8,286.92 146.12,287.44 147.45,287.93" fill="none" stroke="#b06414" stroke-width="1.05" stroke-dasharray="2.6 1.9" opacity="0.85"/>
<polyline points="67.95,246.18 69.28,247.05 70.6,247.97 71.93,248.94 73.25,249.96 74.58,251.04 75.9,252.16 77.23,253.33 78.55,254.55 79.88,255.8 81.2,257.09 82.53,258.42 83.85,259.77 85.18,261.14 86.5,262.52 87.83,263.91 89.15,265.31 90.48,266.69 91.8,268.07 93.12,269.43 94.45,270.76 95.78,272.06 97.1,273.33 98.43,274.56 99.75,275.75 101.08,276.89 102.4,277.98 103.72,279.02 105.05,280.01 106.38,280.95 107.7,281.83 109.03,282.67 110.35,283.45 111.68,284.18 113,284.86 114.33,285.5 115.65,286.09 116.97,286.64 118.3,287.15 119.62,287.62 120.95,288.05 122.28,288.45 123.6,288.82 124.93,289.16 126.25,289.47 127.58,289.76 128.9,290.02 130.22,290.26 131.55,290.47 132.88,290.67 134.2,290.86 135.53,291.02 136.85,291.17 138.18,291.31 139.5,291.44 140.82,291.55 142.15,291.66 143.47,291.75 144.8,291.84 146.12,291.92 147.45,291.99" fill="none" stroke="#58a636" stroke-width="1.05" stroke-dasharray="2.6 1.9" opacity="0.85"/>
<circle cx="67.95" cy="233.77" r="1.15" fill="#ac0c3a"/>
<circle cx="75.18" cy="229.09" r="1.15" fill="#ac0c3a"/>
<circle cx="82.4" cy="231.2" r="1.15" fill="#ac0c3a"/>
<line x1="89.63" y1="228.58" x2="89.63" y2="233.14" stroke="#ac0c3a" stroke-width="0.6" />
<line x1="88.53" y1="228.58" x2="90.73" y2="228.58" stroke="#ac0c3a" stroke-width="0.6" />
<line x1="88.53" y1="233.14" x2="90.73" y2="233.14" stroke="#ac0c3a" stroke-width="0.6" />
<circle cx="89.63" cy="230.86" r="1.15" fill="#ac0c3a"/>
<line x1="96.86" y1="231.49" x2="96.86" y2="236.06" stroke="#ac0c3a" stroke-width="0.6" />
<line x1="95.76" y1="231.49" x2="97.96" y2="231.49" stroke="#ac0c3a" stroke-width="0.6" />
<line x1="95.76" y1="236.06" x2="97.96" y2="236.06" stroke="#ac0c3a" stroke-width="0.6" />
<circle cx="96.86" cy="233.77" r="1.15" fill="#ac0c3a"/>
<circle cx="104.09" cy="236.4" r="1.15" fill="#ac0c3a"/>
<circle cx="111.31" cy="239.48" r="1.15" fill="#ac0c3a"/>
<circle cx="118.54" cy="256.27" r="1.15" fill="#ac0c3a"/>
<circle cx="125.77" cy="273.57" r="1.15" fill="#ac0c3a"/>
<circle cx="133" cy="276.54" r="1.15" fill="#ac0c3a"/>
<circle cx="140.22" cy="279.97" r="1.15" fill="#ac0c3a"/>
<circle cx="147.45" cy="282.76" r="1.15" fill="#ac0c3a"/>
<line x1="67.95" y1="237.83" x2="67.95" y2="243.54" stroke="#b06414" stroke-width="0.6" />
<line x1="66.85" y1="237.83" x2="69.05" y2="237.83" stroke="#b06414" stroke-width="0.6" />
<line x1="66.85" y1="243.54" x2="69.05" y2="243.54" stroke="#b06414" stroke-width="0.6" />
<circle cx="67.95" cy="240.68" r="1.15" fill="#b06414"/>
<line x1="75.18" y1="238.91" x2="75.18" y2="243.48" stroke="#b06414" stroke-width="0.6" />
<line x1="74.08" y1="238.91" x2="76.28" y2="238.91" stroke="#b06414" stroke-width="0.6" />
<line x1="74.08" y1="243.48" x2="76.28" y2="243.48" stroke="#b06414" stroke-width="0.6" />
<circle cx="75.18" cy="241.2" r="1.15" fill="#b06414"/>
<line x1="82.4" y1="234.46" x2="82.4" y2="242.45" stroke="#b06414" stroke-width="0.6" />
<line x1="81.3" y1="234.46" x2="83.5" y2="234.46" stroke="#b06414" stroke-width="0.6" />
<line x1="81.3" y1="242.45" x2="83.5" y2="242.45" stroke="#b06414" stroke-width="0.6" />
<circle cx="82.4" cy="238.45" r="1.15" fill="#b06414"/>
<line x1="89.63" y1="237.88" x2="89.63" y2="247.02" stroke="#b06414" stroke-width="0.6" />
<line x1="88.53" y1="237.88" x2="90.73" y2="237.88" stroke="#b06414" stroke-width="0.6" />
<line x1="88.53" y1="247.02" x2="90.73" y2="247.02" stroke="#b06414" stroke-width="0.6" />
<circle cx="89.63" cy="242.45" r="1.15" fill="#b06414"/>
<line x1="96.86" y1="241.31" x2="96.86" y2="248.16" stroke="#b06414" stroke-width="0.6" />
<line x1="95.76" y1="241.31" x2="97.96" y2="241.31" stroke="#b06414" stroke-width="0.6" />
<line x1="95.76" y1="248.16" x2="97.96" y2="248.16" stroke="#b06414" stroke-width="0.6" />
<circle cx="96.86" cy="244.74" r="1.15" fill="#b06414"/>
<line x1="104.09" y1="246.22" x2="104.09" y2="254.21" stroke="#b06414" stroke-width="0.6" />
<line x1="102.99" y1="246.22" x2="105.19" y2="246.22" stroke="#b06414" stroke-width="0.6" />
<line x1="102.99" y1="254.21" x2="105.19" y2="254.21" stroke="#b06414" stroke-width="0.6" />
<circle cx="104.09" cy="250.22" r="1.15" fill="#b06414"/>
<circle cx="111.31" cy="257.98" r="1.15" fill="#b06414"/>
<circle cx="118.54" cy="259.7" r="1.15" fill="#b06414"/>
<circle cx="125.77" cy="274.43" r="1.15" fill="#b06414"/>
<circle cx="133" cy="279.97" r="1.15" fill="#b06414"/>
<circle cx="140.22" cy="284.82" r="1.15" fill="#b06414"/>
<circle cx="147.45" cy="289.16" r="1.15" fill="#b06414"/>
<line x1="67.95" y1="249.36" x2="67.95" y2="253.93" stroke="#58a636" stroke-width="0.6" />
<line x1="66.85" y1="249.36" x2="69.05" y2="249.36" stroke="#58a636" stroke-width="0.6" />
<line x1="66.85" y1="253.93" x2="69.05" y2="253.93" stroke="#58a636" stroke-width="0.6" />
<circle cx="67.95" cy="251.65" r="1.15" fill="#58a636"/>
<circle cx="75.18" cy="250.22" r="1.15" fill="#58a636"/>
<circle cx="82.4" cy="258.5" r="1.15" fill="#58a636"/>
<line x1="89.63" y1="260.61" x2="89.63" y2="267.46" stroke="#58a636" stroke-width="0.6" />
<line x1="88.53" y1="260.61" x2="90.73" y2="260.61" stroke="#58a636" stroke-width="0.6" />
<line x1="88.53" y1="267.46" x2="90.73" y2="267.46" stroke="#58a636" stroke-width="0.6" />
<circle cx="89.63" cy="264.04" r="1.15" fill="#58a636"/>
<line x1="96.86" y1="264.95" x2="96.86" y2="271.8" stroke="#58a636" stroke-width="0.6" />
<line x1="95.76" y1="264.95" x2="97.96" y2="264.95" stroke="#58a636" stroke-width="0.6" />
<line x1="95.76" y1="271.8" x2="97.96" y2="271.8" stroke="#58a636" stroke-width="0.6" />
<circle cx="96.86" cy="268.38" r="1.15" fill="#58a636"/>
<circle cx="104.09" cy="279.62" r="1.15" fill="#58a636"/>
<circle cx="111.31" cy="286.53" r="1.15" fill="#58a636"/>
<circle cx="118.54" cy="287.45" r="1.15" fill="#58a636"/>
<circle cx="125.77" cy="292.59" r="1.15" fill="#58a636"/>
<circle cx="133" cy="292.59" r="1.15" fill="#58a636"/>
<circle cx="140.22" cy="292.24" r="1.15" fill="#58a636"/>
<circle cx="147.45" cy="292.59" r="1.15" fill="#58a636"/>
<path d="M61,228.5 V295.1 H149.5" fill="none" stroke="#222" stroke-width="1.5"/>
<line x1="58.1" y1="292.7" x2="61" y2="292.7" stroke="#222" stroke-width="1.1" />
<text x="55.5" y="294.9" font-size="6.6" text-anchor="end" fill="#111" stroke="#111" stroke-width="0.2" >0</text>
<line x1="58.1" y1="278.43" x2="61" y2="278.43" stroke="#222" stroke-width="1.1" />
<text x="55.5" y="280.62" font-size="6.6" text-anchor="end" fill="#111" stroke="#111" stroke-width="0.2" >25</text>
<line x1="58.1" y1="264.15" x2="61" y2="264.15" stroke="#222" stroke-width="1.1" />
<text x="55.5" y="266.35" font-size="6.6" text-anchor="end" fill="#111" stroke="#111" stroke-width="0.2" >50</text>
<line x1="58.1" y1="249.88" x2="61" y2="249.88" stroke="#222" stroke-width="1.1" />
<text x="55.5" y="252.07" font-size="6.6" text-anchor="end" fill="#111" stroke="#111" stroke-width="0.2" >75</text>
<line x1="58.1" y1="235.6" x2="61" y2="235.6" stroke="#222" stroke-width="1.1" />
<text x="55.5" y="237.8" font-size="6.6" text-anchor="end" fill="#111" stroke="#111" stroke-width="0.2" >100</text>
<line x1="66.21" y1="295.1" x2="66.21" y2="297.1" stroke="#222" stroke-width="1" />
<line x1="71.21" y1="295.1" x2="71.21" y2="297.1" stroke="#222" stroke-width="1" />
<line x1="76.21" y1="295.1" x2="76.21" y2="297.1" stroke="#222" stroke-width="1" />
<line x1="81.21" y1="295.1" x2="81.21" y2="297.1" stroke="#222" stroke-width="1" />
<line x1="86.21" y1="295.1" x2="86.21" y2="297.1" stroke="#222" stroke-width="1" />
<line x1="91.21" y1="295.1" x2="91.21" y2="297.1" stroke="#222" stroke-width="1" />
<line x1="96.21" y1="295.1" x2="96.21" y2="297.1" stroke="#222" stroke-width="1" />
<line x1="101.21" y1="295.1" x2="101.21" y2="297.1" stroke="#222" stroke-width="1" />
<line x1="106.21" y1="295.1" x2="106.21" y2="297.1" stroke="#222" stroke-width="1" />
<line x1="111.21" y1="295.1" x2="111.21" y2="297.1" stroke="#222" stroke-width="1" />
<line x1="116.21" y1="295.1" x2="116.21" y2="297.1" stroke="#222" stroke-width="1" />
<line x1="121.21" y1="295.1" x2="121.21" y2="297.1" stroke="#222" stroke-width="1" />
<line x1="126.21" y1="295.1" x2="126.21" y2="297.1" stroke="#222" stroke-width="1" />
<line x1="131.21" y1="295.1" x2="131.21" y2="297.1" stroke="#222" stroke-width="1" />
<line x1="136.21" y1="295.1" x2="136.21" y2="297.1" stroke="#222" stroke-width="1" />
<line x1="141.21" y1="295.1" x2="141.21" y2="297.1" stroke="#222" stroke-width="1" />
<line x1="146.21" y1="295.1" x2="146.21" y2="297.1" stroke="#222" stroke-width="1" />
<text transform="translate(78.8,305.3) rotate(-45)" font-size="6.6" text-anchor="end" fill="#111" stroke="#111" stroke-width="0.2">0.001</text>
<text transform="translate(93.8,305.3) rotate(-45)" font-size="6.6" text-anchor="end" fill="#111" stroke="#111" stroke-width="0.2">0.01</text>
<text transform="translate(108.8,305.3) rotate(-45)" font-size="6.6" text-anchor="end" fill="#111" stroke="#111" stroke-width="0.2">0.1</text>
<text transform="translate(123.8,305.3) rotate(-45)" font-size="6.6" text-anchor="end" fill="#111" stroke="#111" stroke-width="0.2">1</text>
<text transform="translate(138.8,305.3) rotate(-45)" font-size="6.6" text-anchor="end" fill="#111" stroke="#111" stroke-width="0.2">10</text>
<text transform="translate(153.8,305.3) rotate(-45)" font-size="6.6" text-anchor="end" fill="#111" stroke="#111" stroke-width="0.2">100</text>
<text x="107.6" y="328.8" font-size="8.3" text-anchor="middle" textLength="42.8" lengthAdjust="spacingAndGlyphs" fill="#111" stroke="#111" stroke-width="0.32" >Vorinostat [μM]</text>
<text transform="translate(38.2,264) rotate(-90)" font-size="8" text-anchor="middle" fill="#111" stroke="#111" stroke-width="0.32" textLength="52.6" lengthAdjust="spacingAndGlyphs">Viability (% control)</text>
<text x="196.2" y="186.9" font-size="9" text-anchor="start" font-weight="bold" fill="#000" stroke="#000" stroke-width="0.25" letter-spacing="0.5">v</text>
<text x="233.1" y="197.6" font-size="5.5" text-anchor="middle" font-weight="bold" fill="#000" stroke="#000" stroke-width="0.15" >Sample</text>
<text x="288.9" y="197.6" font-size="5.5" text-anchor="middle" font-weight="bold" fill="#000" stroke="#000" stroke-width="0.15" textLength="22" lengthAdjust="spacingAndGlyphs">IC<tspan font-size="3.3" dy="1">50</tspan><tspan dy="-1"> [μM]</tspan></text>
<text x="334" y="197.6" font-size="5.5" text-anchor="middle" font-weight="bold" fill="#000" stroke="#000" stroke-width="0.15" >Hill Slope</text>
<line x1="198" y1="203.8" x2="205" y2="203.8" stroke="#58a636" stroke-width="0.7" />
<circle cx="201.5" cy="203.8" r="0.9" fill="#58a636"/>
<text x="206.9" y="205.4" font-size="6" text-anchor="start" textLength="48.2" lengthAdjust="spacingAndGlyphs" fill="#222" >Most Sensitive (Pt 2)</text>
<text x="288.9" y="205.4" font-size="6" text-anchor="middle" textLength="51.95" lengthAdjust="spacingAndGlyphs" fill="#222" >0.000023 ± 0.000006</text>
<text x="334" y="205.4" font-size="6" text-anchor="middle" textLength="30.54" lengthAdjust="spacingAndGlyphs" fill="#222" >0.48 ± 0.064</text>
<line x1="198" y1="211.3" x2="205" y2="211.3" stroke="#b06414" stroke-width="0.7" />
<circle cx="201.5" cy="211.3" r="0.9" fill="#b06414"/>
<text x="206.9" y="212.9" font-size="6" text-anchor="start" textLength="27.29" lengthAdjust="spacingAndGlyphs" fill="#222" >Mean (Pt 7)</text>
<text x="288.9" y="212.9" font-size="6" text-anchor="middle" textLength="45.83" lengthAdjust="spacingAndGlyphs" fill="#222" >0.00087 ± 0.00004</text>
<text x="334" y="212.9" font-size="6" text-anchor="middle" textLength="27.48" lengthAdjust="spacingAndGlyphs" fill="#222" >3.22 ± 0.34</text>
<line x1="198" y1="218.9" x2="205" y2="218.9" stroke="#ac0c3a" stroke-width="0.7" />
<circle cx="201.5" cy="218.9" r="0.9" fill="#ac0c3a"/>
<text x="206.9" y="220.5" font-size="6" text-anchor="start" textLength="51.68" lengthAdjust="spacingAndGlyphs" fill="#222" >Most Resistant (Pt 19)</text>
<text x="288.9" y="220.5" font-size="6" text-anchor="middle" textLength="39.72" lengthAdjust="spacingAndGlyphs" fill="#222" >0.0028 ± 0.0092</text>
<text x="334" y="220.5" font-size="6" text-anchor="middle" textLength="27.48" lengthAdjust="spacingAndGlyphs" fill="#222" >4.48 ± 0.63</text>
<line x1="241.95" y1="263.25" x2="338" y2="263.25" stroke="#000" stroke-width="1.2" stroke-dasharray="1.35 1.42"/>
<polyline points="251.47,232.3 252.8,232.3 254.12,232.3 255.45,232.3 256.77,232.3 258.09,232.3 259.42,232.3 260.74,232.3 262.06,232.3 263.39,232.3 264.71,232.3 266.04,232.3 267.36,232.3 268.68,232.3 270.01,232.3 271.33,232.3 272.65,232.3 273.98,232.3 275.3,232.3 276.63,232.3 277.95,232.31 279.27,232.31 280.6,232.33 281.92,232.38 283.24,232.5 284.57,232.79 285.89,233.5 287.22,235.17 288.54,238.94 289.86,246.48 291.19,258.5 292.51,272.19 293.83,282.9 295.16,289.07 296.48,292.01 297.81,293.3 299.13,293.83 300.45,294.05 301.78,294.14 303.1,294.18 304.42,294.19 305.75,294.2 307.07,294.2 308.4,294.2 309.72,294.2 311.04,294.2 312.37,294.2 313.69,294.2 315.01,294.2 316.34,294.2 317.66,294.2 318.99,294.2 320.31,294.2 321.63,294.2 322.96,294.2 324.28,294.2 325.6,294.2 326.93,294.2 328.25,294.2 329.58,294.2 330.9,294.2" fill="none" stroke="#ac0c3a" stroke-width="1.05" stroke-dasharray="2.6 1.9" opacity="0.85"/>
<polyline points="251.47,232.3 252.8,232.3 254.12,232.3 255.45,232.3 256.77,232.3 258.09,232.3 259.42,232.3 260.74,232.3 262.06,232.3 263.39,232.3 264.71,232.3 266.04,232.31 267.36,232.31 268.68,232.33 270.01,232.35 271.33,232.39 272.65,232.48 273.98,232.64 275.3,232.96 276.63,233.54 277.95,234.64 279.27,236.63 280.6,240.09 281.92,245.69 283.24,253.7 284.57,263.44 285.89,273.14 287.22,281.07 288.54,286.57 289.86,289.97 291.19,291.92 292.51,292.99 293.83,293.56 295.16,293.86 296.48,294.02 297.81,294.11 299.13,294.15 300.45,294.17 301.78,294.19 303.1,294.19 304.42,294.2 305.75,294.2 307.07,294.2 308.4,294.2 309.72,294.2 311.04,294.2 312.37,294.2 313.69,294.2 315.01,294.2 316.34,294.2 317.66,294.2 318.99,294.2 320.31,294.2 321.63,294.2 322.96,294.2 324.28,294.2 325.6,294.2 326.93,294.2 328.25,294.2 329.58,294.2 330.9,294.2" fill="none" stroke="#b06414" stroke-width="1.05" stroke-dasharray="2.6 1.9" opacity="0.85"/>
<polyline points="251.47,253.04 252.8,254.4 254.12,255.79 255.45,257.22 256.77,258.68 258.09,260.15 259.42,261.64 260.74,263.14 262.06,264.64 263.39,266.13 264.71,267.61 266.04,269.07 267.36,270.5 268.68,271.9 270.01,273.26 271.33,274.59 272.65,275.86 273.98,277.09 275.3,278.26 276.63,279.38 277.95,280.44 279.27,281.45 280.6,282.4 281.92,283.3 283.24,284.14 284.57,284.93 285.89,285.67 287.22,286.36 288.54,287 289.86,287.59 291.19,288.14 292.51,288.65 293.83,289.12 295.16,289.56 296.48,289.96 297.81,290.32 299.13,290.66 300.45,290.97 301.78,291.26 303.1,291.52 304.42,291.75 305.75,291.97 307.07,292.17 308.4,292.35 309.72,292.52 311.04,292.67 312.37,292.81 313.69,292.93 315.01,293.05 316.34,293.15 317.66,293.25 318.99,293.33 320.31,293.41 321.63,293.49 322.96,293.55 324.28,293.61 325.6,293.66 326.93,293.71 328.25,293.76 329.58,293.8 330.9,293.84" fill="none" stroke="#58a636" stroke-width="1.05" stroke-dasharray="2.6 1.9" opacity="0.85"/>
<circle cx="251.5" cy="234.9" r="1.15" fill="#ac0c3a"/>
<circle cx="273.11" cy="233.72" r="1.15" fill="#ac0c3a"/>
<line x1="280.32" y1="231.5" x2="280.32" y2="235.21" stroke="#ac0c3a" stroke-width="0.6" />
<line x1="279.22" y1="231.5" x2="281.42" y2="231.5" stroke="#ac0c3a" stroke-width="0.6" />
<line x1="279.22" y1="235.21" x2="281.42" y2="235.21" stroke="#ac0c3a" stroke-width="0.6" />
<circle cx="280.32" cy="233.35" r="1.15" fill="#ac0c3a"/>
<circle cx="287.52" cy="234.34" r="1.15" fill="#ac0c3a"/>
<line x1="294.73" y1="284.85" x2="294.73" y2="287.33" stroke="#ac0c3a" stroke-width="0.6" />
<line x1="293.63" y1="284.85" x2="295.83" y2="284.85" stroke="#ac0c3a" stroke-width="0.6" />
<line x1="293.63" y1="287.33" x2="295.83" y2="287.33" stroke="#ac0c3a" stroke-width="0.6" />
<circle cx="294.73" cy="286.09" r="1.15" fill="#ac0c3a"/>
<circle cx="301.93" cy="293.89" r="1.15" fill="#ac0c3a"/>
<circle cx="309.14" cy="293.89" r="1.15" fill="#ac0c3a"/>
<circle cx="316.34" cy="293.89" r="1.15" fill="#ac0c3a"/>
<circle cx="323.54" cy="293.89" r="1.15" fill="#ac0c3a"/>
<circle cx="330.75" cy="293.58" r="1.15" fill="#ac0c3a"/>
<line x1="251.5" y1="235.95" x2="251.5" y2="240.9" stroke="#b06414" stroke-width="0.6" />
<line x1="250.4" y1="235.95" x2="252.6" y2="235.95" stroke="#b06414" stroke-width="0.6" />
<line x1="250.4" y1="240.9" x2="252.6" y2="240.9" stroke="#b06414" stroke-width="0.6" />
<circle cx="251.5" cy="238.43" r="1.15" fill="#b06414"/>
<circle cx="258.7" cy="235.58" r="1.15" fill="#b06414"/>
<circle cx="265.91" cy="236.51" r="1.15" fill="#b06414"/>
<line x1="280.32" y1="237.19" x2="280.32" y2="240.9" stroke="#b06414" stroke-width="0.6" />
<line x1="279.22" y1="237.19" x2="281.42" y2="237.19" stroke="#b06414" stroke-width="0.6" />
<line x1="279.22" y1="240.9" x2="281.42" y2="240.9" stroke="#b06414" stroke-width="0.6" />
<circle cx="280.32" cy="239.05" r="1.15" fill="#b06414"/>
<circle cx="287.52" cy="283.31" r="1.15" fill="#b06414"/>
<circle cx="294.73" cy="292.34" r="1.15" fill="#b06414"/>
<circle cx="301.93" cy="293.7" r="1.15" fill="#b06414"/>
<circle cx="309.14" cy="293.7" r="1.15" fill="#b06414"/>
<circle cx="316.34" cy="293.7" r="1.15" fill="#b06414"/>
<circle cx="323.54" cy="293.7" r="1.15" fill="#b06414"/>
<circle cx="330.75" cy="293.7" r="1.15" fill="#b06414"/>
<line x1="251.5" y1="260.71" x2="251.5" y2="264.43" stroke="#58a636" stroke-width="0.6" />
<line x1="250.4" y1="260.71" x2="252.6" y2="260.71" stroke="#58a636" stroke-width="0.6" />
<line x1="250.4" y1="264.43" x2="252.6" y2="264.43" stroke="#58a636" stroke-width="0.6" />
<circle cx="251.5" cy="262.57" r="1.15" fill="#58a636"/>
<line x1="258.7" y1="254.71" x2="258.7" y2="259.66" stroke="#58a636" stroke-width="0.6" />
<line x1="257.6" y1="254.71" x2="259.8" y2="254.71" stroke="#58a636" stroke-width="0.6" />
<line x1="257.6" y1="259.66" x2="259.8" y2="259.66" stroke="#58a636" stroke-width="0.6" />
<circle cx="258.7" cy="257.18" r="1.15" fill="#58a636"/>
<circle cx="265.91" cy="263.13" r="1.15" fill="#58a636"/>
<circle cx="273.11" cy="268.33" r="1.15" fill="#58a636"/>
<circle cx="280.32" cy="287.14" r="1.15" fill="#58a636"/>
<circle cx="287.52" cy="293.7" r="1.15" fill="#58a636"/>
<circle cx="294.73" cy="291.79" r="1.15" fill="#58a636"/>
<circle cx="301.93" cy="293.7" r="1.15" fill="#58a636"/>
<circle cx="309.14" cy="294.2" r="1.15" fill="#58a636"/>
<circle cx="316.34" cy="294.2" r="1.15" fill="#58a636"/>
<circle cx="323.54" cy="294.2" r="1.15" fill="#58a636"/>
<circle cx="330.75" cy="292.96" r="1.15" fill="#58a636"/>
<path d="M240.6,229.2 V297.8 H338" fill="none" stroke="#222" stroke-width="1.5"/>
<line x1="237.7" y1="294.2" x2="240.6" y2="294.2" stroke="#222" stroke-width="1.1" />
<text x="235.1" y="296.4" font-size="6.6" text-anchor="end" fill="#111" stroke="#111" stroke-width="0.2" >0</text>
<line x1="237.7" y1="278.73" x2="240.6" y2="278.73" stroke="#222" stroke-width="1.1" />
<text x="235.1" y="280.93" font-size="6.6" text-anchor="end" fill="#111" stroke="#111" stroke-width="0.2" >25</text>
<line x1="237.7" y1="263.25" x2="240.6" y2="263.25" stroke="#222" stroke-width="1.1" />
<text x="235.1" y="265.45" font-size="6.6" text-anchor="end" fill="#111" stroke="#111" stroke-width="0.2" >50</text>
<line x1="237.7" y1="247.78" x2="240.6" y2="247.78" stroke="#222" stroke-width="1.1" />
<text x="235.1" y="249.97" font-size="6.6" text-anchor="end" fill="#111" stroke="#111" stroke-width="0.2" >75</text>
<line x1="237.7" y1="232.3" x2="240.6" y2="232.3" stroke="#222" stroke-width="1.1" />
<text x="235.1" y="234.5" font-size="6.6" text-anchor="end" fill="#111" stroke="#111" stroke-width="0.2" >100</text>
<line x1="240.3" y1="297.8" x2="240.3" y2="300.8" stroke="#222" stroke-width="1" />
<line x1="245.33" y1="297.8" x2="245.33" y2="299.8" stroke="#222" stroke-width="1" />
<line x1="250.37" y1="297.8" x2="250.37" y2="299.8" stroke="#222" stroke-width="1" />
<line x1="255.4" y1="297.8" x2="255.4" y2="300.8" stroke="#222" stroke-width="1" />
<line x1="260.43" y1="297.8" x2="260.43" y2="299.8" stroke="#222" stroke-width="1" />
<line x1="265.47" y1="297.8" x2="265.47" y2="299.8" stroke="#222" stroke-width="1" />
<line x1="270.5" y1="297.8" x2="270.5" y2="300.8" stroke="#222" stroke-width="1" />
<line x1="275.53" y1="297.8" x2="275.53" y2="299.8" stroke="#222" stroke-width="1" />
<line x1="280.57" y1="297.8" x2="280.57" y2="299.8" stroke="#222" stroke-width="1" />
<line x1="285.6" y1="297.8" x2="285.6" y2="300.8" stroke="#222" stroke-width="1" />
<line x1="290.63" y1="297.8" x2="290.63" y2="299.8" stroke="#222" stroke-width="1" />
<line x1="295.67" y1="297.8" x2="295.67" y2="299.8" stroke="#222" stroke-width="1" />
<line x1="300.7" y1="297.8" x2="300.7" y2="300.8" stroke="#222" stroke-width="1" />
<line x1="305.73" y1="297.8" x2="305.73" y2="299.8" stroke="#222" stroke-width="1" />
<line x1="310.77" y1="297.8" x2="310.77" y2="299.8" stroke="#222" stroke-width="1" />
<line x1="315.8" y1="297.8" x2="315.8" y2="300.8" stroke="#222" stroke-width="1" />
<line x1="320.83" y1="297.8" x2="320.83" y2="299.8" stroke="#222" stroke-width="1" />
<line x1="325.87" y1="297.8" x2="325.87" y2="299.8" stroke="#222" stroke-width="1" />
<line x1="330.9" y1="297.8" x2="330.9" y2="300.8" stroke="#222" stroke-width="1" />
<line x1="335.93" y1="297.8" x2="335.93" y2="299.8" stroke="#222" stroke-width="1" />
<text transform="translate(242.9,308) rotate(-45)" font-size="6.6" text-anchor="end" fill="#111" stroke="#111" stroke-width="0.2">10<tspan font-size="3.6" dy="-2.2">-6</tspan></text>
<text transform="translate(258,308) rotate(-45)" font-size="6.6" text-anchor="end" fill="#111" stroke="#111" stroke-width="0.2">10<tspan font-size="3.6" dy="-2.2">-5</tspan></text>
<text transform="translate(273.1,308) rotate(-45)" font-size="6.6" text-anchor="end" fill="#111" stroke="#111" stroke-width="0.2">10<tspan font-size="3.6" dy="-2.2">-4</tspan></text>
<text transform="translate(288.2,308) rotate(-45)" font-size="6.6" text-anchor="end" fill="#111" stroke="#111" stroke-width="0.2">10<tspan font-size="3.6" dy="-2.2">-3</tspan></text>
<text transform="translate(303.3,308) rotate(-45)" font-size="6.6" text-anchor="end" fill="#111" stroke="#111" stroke-width="0.2">10<tspan font-size="3.6" dy="-2.2">-2</tspan></text>
<text transform="translate(318.4,308) rotate(-45)" font-size="6.6" text-anchor="end" fill="#111" stroke="#111" stroke-width="0.2">10<tspan font-size="3.6" dy="-2.2">-1</tspan></text>
<text transform="translate(333.5,308) rotate(-45)" font-size="6.6" text-anchor="end" fill="#111" stroke="#111" stroke-width="0.2">10<tspan font-size="3.6" dy="-2.2">0</tspan></text>
<text x="288.7" y="328.9" font-size="8.3" text-anchor="middle" textLength="46.5" lengthAdjust="spacingAndGlyphs" fill="#111" stroke="#111" stroke-width="0.32" >Bortezomib [μM]</text>
<text transform="translate(217.6,263) rotate(-90)" font-size="8" text-anchor="middle" fill="#111" stroke="#111" stroke-width="0.32" textLength="52.6" lengthAdjust="spacingAndGlyphs">Viability (% control)</text>
<text x="21" y="363.8" font-size="9" text-anchor="start" font-weight="bold" fill="#000" stroke="#000" stroke-width="0.25" letter-spacing="0.5">i</text>
<text x="58.7" y="368.5" font-size="5.5" text-anchor="middle" font-weight="bold" fill="#000" stroke="#000" stroke-width="0.15" >Sample</text>
<text x="91" y="368.5" font-size="5.5" text-anchor="middle" font-weight="bold" fill="#000" stroke="#000" stroke-width="0.15" textLength="22" lengthAdjust="spacingAndGlyphs">IC<tspan font-size="3.3" dy="1">50</tspan><tspan dy="-1"> [μM]</tspan></text>
<text x="129.8" y="368.5" font-size="5.5" text-anchor="middle" font-weight="bold" fill="#000" stroke="#000" stroke-width="0.15" >Hill Slope</text>
<line x1="42.8" y1="376" x2="48.8" y2="376" stroke="#f0a020" stroke-width="0.7" />
<circle cx="45.8" cy="376" r="0.9" fill="#f0a020"/>
<text x="51.1" y="377.6" font-size="6" text-anchor="start" textLength="11.91" lengthAdjust="spacingAndGlyphs" fill="#222" >Sez4</text>
<text x="91" y="377.6" font-size="6" text-anchor="middle" textLength="27.48" lengthAdjust="spacingAndGlyphs" fill="#222" >0.29 ± 0.08</text>
<text x="129.8" y="377.6" font-size="6" text-anchor="middle" textLength="27.48" lengthAdjust="spacingAndGlyphs" fill="#222" >0.59 ± 0.09</text>
<line x1="42.8" y1="383.6" x2="48.8" y2="383.6" stroke="#5ab0f0" stroke-width="0.7" />
<circle cx="45.8" cy="383.6" r="0.9" fill="#5ab0f0"/>
<text x="51.1" y="385.2" font-size="6" text-anchor="start" textLength="7.55" lengthAdjust="spacingAndGlyphs" fill="#222" >HH</text>
<text x="91" y="385.2" font-size="6" text-anchor="middle" textLength="30.54" lengthAdjust="spacingAndGlyphs" fill="#222" >16.10 ± 3.74</text>
<text x="129.8" y="385.2" font-size="6" text-anchor="middle" textLength="27.48" lengthAdjust="spacingAndGlyphs" fill="#222" >0.63 ± 0.09</text>
<line x1="42.8" y1="391.2" x2="48.8" y2="391.2" stroke="#4a1a80" stroke-width="0.7" />
<circle cx="45.8" cy="391.2" r="0.9" fill="#4a1a80"/>
<text x="51.1" y="392.8" font-size="6" text-anchor="start" textLength="13.94" lengthAdjust="spacingAndGlyphs" fill="#222" >Hut78</text>
<text x="91" y="392.8" font-size="6" text-anchor="middle" textLength="27.48" lengthAdjust="spacingAndGlyphs" fill="#222" >8.05 ± 2.22</text>
<text x="129.8" y="392.8" font-size="6" text-anchor="middle" textLength="27.48" lengthAdjust="spacingAndGlyphs" fill="#222" >0.55 ± 0.08</text>
<line x1="42.8" y1="398.9" x2="48.8" y2="398.9" stroke="#a80d3a" stroke-width="0.7" />
<circle cx="45.8" cy="398.9" r="0.9" fill="#a80d3a"/>
<text x="51.1" y="400.5" font-size="6" text-anchor="start" textLength="12.78" lengthAdjust="spacingAndGlyphs" fill="#222" >MyLa</text>
<text x="91" y="400.5" font-size="6" text-anchor="middle" textLength="27.48" lengthAdjust="spacingAndGlyphs" fill="#222" >3.98 ± 2.29</text>
<text x="129.8" y="400.5" font-size="6" text-anchor="middle" textLength="27.48" lengthAdjust="spacingAndGlyphs" fill="#222" >0.24 ± 0.04</text>
<line x1="42.8" y1="406.7" x2="48.8" y2="406.7" stroke="#4aa830" stroke-width="0.7" />
<circle cx="45.8" cy="406.7" r="0.9" fill="#4aa830"/>
<text x="51.1" y="408.3" font-size="6" text-anchor="start" textLength="12.49" lengthAdjust="spacingAndGlyphs" fill="#222" >SeAx</text>
<text x="91" y="408.3" font-size="6" text-anchor="middle" textLength="42.77" lengthAdjust="spacingAndGlyphs" fill="#222" >0.0013 ± 0.00061</text>
<text x="129.8" y="408.3" font-size="6" text-anchor="middle" textLength="27.48" lengthAdjust="spacingAndGlyphs" fill="#222" >0.56 ± 0.15</text>
<line x1="61.95" y1="450.7" x2="152.1" y2="450.7" stroke="#000" stroke-width="1.2" stroke-dasharray="1.35 1.42"/>
<polyline points="72.27,418.8 73.6,418.81 74.93,418.83 76.25,418.84 77.58,418.86 78.91,418.88 80.23,418.91 81.56,418.94 82.88,418.97 84.21,419.01 85.54,419.05 86.86,419.09 88.19,419.15 89.52,419.21 90.84,419.28 92.17,419.35 93.49,419.44 94.82,419.54 96.15,419.65 97.47,419.78 98.8,419.93 100.13,420.09 101.45,420.27 102.78,420.48 104.1,420.71 105.43,420.98 106.76,421.28 108.08,421.61 109.41,421.99 110.74,422.41 112.06,422.88 113.39,423.4 114.72,423.99 116.04,424.64 117.37,425.36 118.69,426.16 120.02,427.05 121.35,428.01 122.67,429.08 124,430.23 125.33,431.48 126.65,432.84 127.98,434.29 129.3,435.84 130.63,437.49 131.96,439.22 133.28,441.04 134.61,442.92 135.94,444.87 137.26,446.86 138.59,448.88 139.91,450.92 141.24,452.96 142.57,454.97 143.89,456.95 145.22,458.89 146.55,460.76 147.87,462.56 149.2,464.28 150.52,465.9 151.85,467.43" fill="none" stroke="#5ab0f0" stroke-width="1.05" stroke-dasharray="2.6 1.9" opacity="0.85"/>
<polyline points="72.27,419.02 73.6,419.06 74.93,419.1 76.25,419.15 77.58,419.2 78.91,419.26 80.23,419.33 81.56,419.4 82.88,419.48 84.21,419.57 85.54,419.68 86.86,419.79 88.19,419.91 89.52,420.05 90.84,420.21 92.17,420.38 93.49,420.57 94.82,420.79 96.15,421.02 97.47,421.29 98.8,421.58 100.13,421.9 101.45,422.25 102.78,422.65 104.1,423.08 105.43,423.55 106.76,424.08 108.08,424.65 109.41,425.28 110.74,425.97 112.06,426.71 113.39,427.53 114.72,428.41 116.04,429.36 117.37,430.38 118.69,431.48 120.02,432.66 121.35,433.91 122.67,435.24 124,436.64 125.33,438.11 126.65,439.65 127.98,441.24 129.3,442.89 130.63,444.59 131.96,446.32 133.28,448.08 134.61,449.85 135.94,451.63 137.26,453.41 138.59,455.16 139.91,456.89 141.24,458.59 142.57,460.23 143.89,461.83 145.22,463.36 146.55,464.83 147.87,466.22 149.2,467.55 150.52,468.8 151.85,469.97" fill="none" stroke="#4a1a80" stroke-width="1.05" stroke-dasharray="2.6 1.9" opacity="0.85"/>
<polyline points="72.27,425.48 73.6,425.78 74.93,426.09 76.25,426.41 77.58,426.75 78.91,427.1 80.23,427.46 81.56,427.83 82.88,428.22 84.21,428.62 85.54,429.03 86.86,429.46 88.19,429.9 89.52,430.36 90.84,430.82 92.17,431.31 93.49,431.81 94.82,432.32 96.15,432.85 97.47,433.39 98.8,433.95 100.13,434.52 101.45,435.1 102.78,435.7 104.1,436.32 105.43,436.94 106.76,437.58 108.08,438.23 109.41,438.9 110.74,439.58 112.06,440.26 113.39,440.96 114.72,441.67 116.04,442.39 117.37,443.12 118.69,443.86 120.02,444.6 121.35,445.36 122.67,446.11 124,446.88 125.33,447.64 126.65,448.42 127.98,449.19 129.3,449.96 130.63,450.74 131.96,451.52 133.28,452.29 134.61,453.07 135.94,453.84 137.26,454.6 138.59,455.37 139.91,456.12 141.24,456.88 142.57,457.62 143.89,458.36 145.22,459.08 146.55,459.8 147.87,460.51 149.2,461.21 150.52,461.9 151.85,462.57" fill="none" stroke="#a80d3a" stroke-width="1.05" stroke-dasharray="2.6 1.9" opacity="0.85"/>
<polyline points="72.27,420.25 73.6,420.44 74.93,420.66 76.25,420.9 77.58,421.16 78.91,421.46 80.23,421.8 81.56,422.17 82.88,422.58 84.21,423.04 85.54,423.55 86.86,424.11 88.19,424.73 89.52,425.41 90.84,426.16 92.17,426.99 93.49,427.89 94.82,428.87 96.15,429.93 97.47,431.08 98.8,432.31 100.13,433.64 101.45,435.05 102.78,436.54 104.1,438.11 105.43,439.76 106.76,441.48 108.08,443.26 109.41,445.09 110.74,446.96 112.06,448.85 113.39,450.76 114.72,452.67 116.04,454.56 117.37,456.43 118.69,458.25 120.02,460.03 121.35,461.74 122.67,463.39 124,464.96 125.33,466.45 126.65,467.85 127.98,469.17 129.3,470.4 130.63,471.54 131.96,472.6 133.28,473.57 134.61,474.47 135.94,475.29 137.26,476.03 138.59,476.71 139.91,477.33 141.24,477.89 142.57,478.39 143.89,478.85 145.22,479.26 146.55,479.63 147.87,479.96 149.2,480.25 150.52,480.52 151.85,480.76" fill="none" stroke="#f0a020" stroke-width="1.05" stroke-dasharray="2.6 1.9" opacity="0.85"/>
<polyline points="72.27,443.21 73.6,444.94 74.93,446.71 76.25,448.51 77.58,450.31 78.91,452.13 80.23,453.93 81.56,455.71 82.88,457.46 84.21,459.17 85.54,460.83 86.86,462.43 88.19,463.96 89.52,465.43 90.84,466.82 92.17,468.13 93.49,469.37 94.82,470.52 96.15,471.6 97.47,472.6 98.8,473.53 100.13,474.38 101.45,475.17 102.78,475.89 104.1,476.55 105.43,477.15 106.76,477.7 108.08,478.2 109.41,478.65 110.74,479.06 112.06,479.43 113.39,479.76 114.72,480.06 116.04,480.33 117.37,480.58 118.69,480.8 120.02,481 121.35,481.18 122.67,481.34 124,481.48 125.33,481.61 126.65,481.72 127.98,481.83 129.3,481.92 130.63,482 131.96,482.08 133.28,482.14 134.61,482.2 135.94,482.25 137.26,482.3 138.59,482.34 139.91,482.38 141.24,482.42 142.57,482.45 143.89,482.47 145.22,482.5 146.55,482.52 147.87,482.54 149.2,482.56 150.52,482.57 151.85,482.58" fill="none" stroke="#4aa830" stroke-width="1.05" stroke-dasharray="2.6 1.9" opacity="0.85"/>
<circle cx="72.45" cy="419.21" r="1.15" fill="#5ab0f0"/>
<circle cx="79.65" cy="419.6" r="1.15" fill="#5ab0f0"/>
<circle cx="86.86" cy="420.17" r="1.15" fill="#5ab0f0"/>
<circle cx="94.06" cy="420.68" r="1.15" fill="#5ab0f0"/>
<circle cx="101.27" cy="420.68" r="1.15" fill="#5ab0f0"/>
<circle cx="108.47" cy="419.6" r="1.15" fill="#5ab0f0"/>
<circle cx="115.68" cy="425.04" r="1.15" fill="#5ab0f0"/>
<line x1="122.88" y1="421.32" x2="122.88" y2="431.56" stroke="#5ab0f0" stroke-width="0.6" />
<line x1="121.78" y1="421.32" x2="123.98" y2="421.32" stroke="#5ab0f0" stroke-width="0.6" />
<line x1="121.78" y1="431.56" x2="123.98" y2="431.56" stroke="#5ab0f0" stroke-width="0.6" />
<circle cx="122.88" cy="426.44" r="1.15" fill="#5ab0f0"/>
<line x1="130.09" y1="430.41" x2="130.09" y2="440.65" stroke="#5ab0f0" stroke-width="0.6" />
<line x1="128.99" y1="430.41" x2="131.19" y2="430.41" stroke="#5ab0f0" stroke-width="0.6" />
<line x1="128.99" y1="440.65" x2="131.19" y2="440.65" stroke="#5ab0f0" stroke-width="0.6" />
<circle cx="130.09" cy="435.53" r="1.15" fill="#5ab0f0"/>
<circle cx="137.29" cy="440.91" r="1.15" fill="#5ab0f0"/>
<circle cx="144.5" cy="450.32" r="1.15" fill="#5ab0f0"/>
<circle cx="151.7" cy="478.92" r="1.15" fill="#5ab0f0"/>
<line x1="72.45" y1="418.89" x2="72.45" y2="430.41" stroke="#4a1a80" stroke-width="0.6" />
<line x1="71.35" y1="418.89" x2="73.55" y2="418.89" stroke="#4a1a80" stroke-width="0.6" />
<line x1="71.35" y1="430.41" x2="73.55" y2="430.41" stroke="#4a1a80" stroke-width="0.6" />
<circle cx="72.45" cy="424.65" r="1.15" fill="#4a1a80"/>
<circle cx="79.65" cy="421.9" r="1.15" fill="#4a1a80"/>
<circle cx="86.86" cy="424.33" r="1.15" fill="#4a1a80"/>
<circle cx="94.06" cy="421.9" r="1.15" fill="#4a1a80"/>
<circle cx="101.27" cy="422.86" r="1.15" fill="#4a1a80"/>
<line x1="108.47" y1="424.59" x2="108.47" y2="437.39" stroke="#4a1a80" stroke-width="0.6" />
<line x1="107.37" y1="424.59" x2="109.57" y2="424.59" stroke="#4a1a80" stroke-width="0.6" />
<line x1="107.37" y1="437.39" x2="109.57" y2="437.39" stroke="#4a1a80" stroke-width="0.6" />
<circle cx="108.47" cy="430.99" r="1.15" fill="#4a1a80"/>
<line x1="115.68" y1="425.48" x2="115.68" y2="438.28" stroke="#4a1a80" stroke-width="0.6" />
<line x1="114.58" y1="425.48" x2="116.78" y2="425.48" stroke="#4a1a80" stroke-width="0.6" />
<line x1="114.58" y1="438.28" x2="116.78" y2="438.28" stroke="#4a1a80" stroke-width="0.6" />
<circle cx="115.68" cy="431.88" r="1.15" fill="#4a1a80"/>
<line x1="122.88" y1="427.28" x2="122.88" y2="440.08" stroke="#4a1a80" stroke-width="0.6" />
<line x1="121.78" y1="427.28" x2="123.98" y2="427.28" stroke="#4a1a80" stroke-width="0.6" />
<line x1="121.78" y1="440.08" x2="123.98" y2="440.08" stroke="#4a1a80" stroke-width="0.6" />
<circle cx="122.88" cy="433.68" r="1.15" fill="#4a1a80"/>
<line x1="130.09" y1="434.19" x2="130.09" y2="446.99" stroke="#4a1a80" stroke-width="0.6" />
<line x1="128.99" y1="434.19" x2="131.19" y2="434.19" stroke="#4a1a80" stroke-width="0.6" />
<line x1="128.99" y1="446.99" x2="131.19" y2="446.99" stroke="#4a1a80" stroke-width="0.6" />
<circle cx="130.09" cy="440.59" r="1.15" fill="#4a1a80"/>
<line x1="137.29" y1="437.26" x2="137.29" y2="450.06" stroke="#4a1a80" stroke-width="0.6" />
<line x1="136.19" y1="437.26" x2="138.39" y2="437.26" stroke="#4a1a80" stroke-width="0.6" />
<line x1="136.19" y1="450.06" x2="138.39" y2="450.06" stroke="#4a1a80" stroke-width="0.6" />
<circle cx="137.29" cy="443.66" r="1.15" fill="#4a1a80"/>
<circle cx="144.5" cy="464.46" r="1.15" fill="#4a1a80"/>
<circle cx="151.7" cy="480.78" r="1.15" fill="#4a1a80"/>
<circle cx="72.45" cy="428.3" r="1.15" fill="#a80d3a"/>
<circle cx="79.65" cy="430.09" r="1.15" fill="#a80d3a"/>
<circle cx="86.86" cy="432.78" r="1.15" fill="#a80d3a"/>
<circle cx="94.06" cy="433.36" r="1.15" fill="#a80d3a"/>
<circle cx="101.27" cy="434.64" r="1.15" fill="#a80d3a"/>
<circle cx="108.47" cy="442.76" r="1.15" fill="#a80d3a"/>
<line x1="115.68" y1="447.18" x2="115.68" y2="451.02" stroke="#a80d3a" stroke-width="0.6" />
<line x1="114.58" y1="447.18" x2="116.78" y2="447.18" stroke="#a80d3a" stroke-width="0.6" />
<line x1="114.58" y1="451.02" x2="116.78" y2="451.02" stroke="#a80d3a" stroke-width="0.6" />
<circle cx="115.68" cy="449.1" r="1.15" fill="#a80d3a"/>
<circle cx="122.88" cy="445.45" r="1.15" fill="#a80d3a"/>
<circle cx="130.09" cy="447.24" r="1.15" fill="#a80d3a"/>
<circle cx="137.29" cy="446.35" r="1.15" fill="#a80d3a"/>
<line x1="144.5" y1="444.43" x2="144.5" y2="448.27" stroke="#a80d3a" stroke-width="0.6" />
<line x1="143.4" y1="444.43" x2="145.6" y2="444.43" stroke="#a80d3a" stroke-width="0.6" />
<line x1="143.4" y1="448.27" x2="145.6" y2="448.27" stroke="#a80d3a" stroke-width="0.6" />
<circle cx="144.5" cy="446.35" r="1.15" fill="#a80d3a"/>
<circle cx="151.7" cy="459.72" r="1.15" fill="#a80d3a"/>
<circle cx="72.45" cy="421.9" r="1.15" fill="#f0a020"/>
<circle cx="79.65" cy="421.9" r="1.15" fill="#f0a020"/>
<circle cx="86.86" cy="423.82" r="1.15" fill="#f0a020"/>
<line x1="94.06" y1="426.64" x2="94.06" y2="431.76" stroke="#f0a020" stroke-width="0.6" />
<line x1="92.96" y1="426.64" x2="95.16" y2="426.64" stroke="#f0a020" stroke-width="0.6" />
<line x1="92.96" y1="431.76" x2="95.16" y2="431.76" stroke="#f0a020" stroke-width="0.6" />
<circle cx="94.06" cy="429.2" r="1.15" fill="#f0a020"/>
<circle cx="101.27" cy="430.99" r="1.15" fill="#f0a020"/>
<line x1="108.47" y1="443.79" x2="108.47" y2="448.91" stroke="#f0a020" stroke-width="0.6" />
<line x1="107.37" y1="443.79" x2="109.57" y2="443.79" stroke="#f0a020" stroke-width="0.6" />
<line x1="107.37" y1="448.91" x2="109.57" y2="448.91" stroke="#f0a020" stroke-width="0.6" />
<circle cx="108.47" cy="446.35" r="1.15" fill="#f0a020"/>
<circle cx="115.68" cy="462.6" r="1.15" fill="#f0a020"/>
<circle cx="122.88" cy="464.46" r="1.15" fill="#f0a020"/>
<line x1="130.09" y1="463.44" x2="130.09" y2="467.28" stroke="#f0a020" stroke-width="0.6" />
<line x1="128.99" y1="463.44" x2="131.19" y2="463.44" stroke="#f0a020" stroke-width="0.6" />
<line x1="128.99" y1="467.28" x2="131.19" y2="467.28" stroke="#f0a020" stroke-width="0.6" />
<circle cx="130.09" cy="465.36" r="1.15" fill="#f0a020"/>
<line x1="137.29" y1="463.95" x2="137.29" y2="467.79" stroke="#f0a020" stroke-width="0.6" />
<line x1="136.19" y1="463.95" x2="138.39" y2="463.95" stroke="#f0a020" stroke-width="0.6" />
<line x1="136.19" y1="467.79" x2="138.39" y2="467.79" stroke="#f0a020" stroke-width="0.6" />
<circle cx="137.29" cy="465.87" r="1.15" fill="#f0a020"/>
<circle cx="144.5" cy="475.66" r="1.15" fill="#f0a020"/>
<circle cx="151.7" cy="480.72" r="1.15" fill="#f0a020"/>
<line x1="72.45" y1="434.96" x2="72.45" y2="454.16" stroke="#4aa830" stroke-width="0.6" />
<line x1="71.35" y1="434.96" x2="73.55" y2="434.96" stroke="#4aa830" stroke-width="0.6" />
<line x1="71.35" y1="454.16" x2="73.55" y2="454.16" stroke="#4aa830" stroke-width="0.6" />
<circle cx="72.45" cy="444.56" r="1.15" fill="#4aa830"/>
<line x1="79.65" y1="436.75" x2="79.65" y2="455.95" stroke="#4aa830" stroke-width="0.6" />
<line x1="78.55" y1="436.75" x2="80.75" y2="436.75" stroke="#4aa830" stroke-width="0.6" />
<line x1="78.55" y1="455.95" x2="80.75" y2="455.95" stroke="#4aa830" stroke-width="0.6" />
<circle cx="79.65" cy="446.35" r="1.15" fill="#4aa830"/>
<line x1="86.86" y1="462.67" x2="86.86" y2="469.07" stroke="#4aa830" stroke-width="0.6" />
<line x1="85.76" y1="462.67" x2="87.96" y2="462.67" stroke="#4aa830" stroke-width="0.6" />
<line x1="85.76" y1="469.07" x2="87.96" y2="469.07" stroke="#4aa830" stroke-width="0.6" />
<circle cx="86.86" cy="465.87" r="1.15" fill="#4aa830"/>
<line x1="94.06" y1="467.47" x2="94.06" y2="477.71" stroke="#4aa830" stroke-width="0.6" />
<line x1="92.96" y1="467.47" x2="95.16" y2="467.47" stroke="#4aa830" stroke-width="0.6" />
<line x1="92.96" y1="477.71" x2="95.16" y2="477.71" stroke="#4aa830" stroke-width="0.6" />
<circle cx="94.06" cy="472.59" r="1.15" fill="#4aa830"/>
<circle cx="101.27" cy="476.75" r="1.15" fill="#4aa830"/>
<circle cx="108.47" cy="479.82" r="1.15" fill="#4aa830"/>
<circle cx="115.68" cy="480.33" r="1.15" fill="#4aa830"/>
<circle cx="122.88" cy="478.03" r="1.15" fill="#4aa830"/>
<line x1="130.09" y1="470.03" x2="130.09" y2="475.15" stroke="#4aa830" stroke-width="0.6" />
<line x1="128.99" y1="470.03" x2="131.19" y2="470.03" stroke="#4aa830" stroke-width="0.6" />
<line x1="128.99" y1="475.15" x2="131.19" y2="475.15" stroke="#4aa830" stroke-width="0.6" />
<circle cx="130.09" cy="472.59" r="1.15" fill="#4aa830"/>
<line x1="137.29" y1="470.03" x2="137.29" y2="475.15" stroke="#4aa830" stroke-width="0.6" />
<line x1="136.19" y1="470.03" x2="138.39" y2="470.03" stroke="#4aa830" stroke-width="0.6" />
<line x1="136.19" y1="475.15" x2="138.39" y2="475.15" stroke="#4aa830" stroke-width="0.6" />
<circle cx="137.29" cy="472.59" r="1.15" fill="#4aa830"/>
<circle cx="144.5" cy="471.31" r="1.15" fill="#4aa830"/>
<circle cx="151.7" cy="460.49" r="1.15" fill="#4aa830"/>
<path d="M60.6,416.2 V485 H152.1" fill="none" stroke="#222" stroke-width="1.5"/>
<line x1="57.7" y1="482.7" x2="60.6" y2="482.7" stroke="#222" stroke-width="1.1" />
<text x="55.1" y="484.9" font-size="6.6" text-anchor="end" fill="#111" stroke="#111" stroke-width="0.2" >0</text>
<line x1="57.7" y1="466.7" x2="60.6" y2="466.7" stroke="#222" stroke-width="1.1" />
<text x="55.1" y="468.9" font-size="6.6" text-anchor="end" fill="#111" stroke="#111" stroke-width="0.2" >25</text>
<line x1="57.7" y1="450.7" x2="60.6" y2="450.7" stroke="#222" stroke-width="1.1" />
<text x="55.1" y="452.9" font-size="6.6" text-anchor="end" fill="#111" stroke="#111" stroke-width="0.2" >50</text>
<line x1="57.7" y1="434.7" x2="60.6" y2="434.7" stroke="#222" stroke-width="1.1" />
<text x="55.1" y="436.9" font-size="6.6" text-anchor="end" fill="#111" stroke="#111" stroke-width="0.2" >75</text>
<line x1="57.7" y1="418.7" x2="60.6" y2="418.7" stroke="#222" stroke-width="1.1" />
<text x="55.1" y="420.9" font-size="6.6" text-anchor="end" fill="#111" stroke="#111" stroke-width="0.2" >100</text>
<line x1="66.14" y1="485" x2="66.14" y2="487" stroke="#222" stroke-width="1" />
<line x1="71.18" y1="485" x2="71.18" y2="487" stroke="#222" stroke-width="1" />
<line x1="76.21" y1="485" x2="76.21" y2="487" stroke="#222" stroke-width="1" />
<line x1="81.24" y1="485" x2="81.24" y2="487" stroke="#222" stroke-width="1" />
<line x1="86.28" y1="485" x2="86.28" y2="487" stroke="#222" stroke-width="1" />
<line x1="91.31" y1="485" x2="91.31" y2="487" stroke="#222" stroke-width="1" />
<line x1="96.34" y1="485" x2="96.34" y2="487" stroke="#222" stroke-width="1" />
<line x1="101.38" y1="485" x2="101.38" y2="487" stroke="#222" stroke-width="1" />
<line x1="106.41" y1="485" x2="106.41" y2="487" stroke="#222" stroke-width="1" />
<line x1="111.44" y1="485" x2="111.44" y2="487" stroke="#222" stroke-width="1" />
<line x1="116.48" y1="485" x2="116.48" y2="487" stroke="#222" stroke-width="1" />
<line x1="121.51" y1="485" x2="121.51" y2="487" stroke="#222" stroke-width="1" />
<line x1="126.54" y1="485" x2="126.54" y2="487" stroke="#222" stroke-width="1" />
<line x1="131.58" y1="485" x2="131.58" y2="487" stroke="#222" stroke-width="1" />
<line x1="136.61" y1="485" x2="136.61" y2="487" stroke="#222" stroke-width="1" />
<line x1="141.64" y1="485" x2="141.64" y2="487" stroke="#222" stroke-width="1" />
<line x1="146.68" y1="485" x2="146.68" y2="487" stroke="#222" stroke-width="1" />
<text transform="translate(78.8,495.2) rotate(-45)" font-size="6.6" text-anchor="end" fill="#111" stroke="#111" stroke-width="0.2">0.001</text>
<text transform="translate(93.9,495.2) rotate(-45)" font-size="6.6" text-anchor="end" fill="#111" stroke="#111" stroke-width="0.2">0.01</text>
<text transform="translate(109,495.2) rotate(-45)" font-size="6.6" text-anchor="end" fill="#111" stroke="#111" stroke-width="0.2">0.1</text>
<text transform="translate(124.1,495.2) rotate(-45)" font-size="6.6" text-anchor="end" fill="#111" stroke="#111" stroke-width="0.2">1</text>
<text transform="translate(139.2,495.2) rotate(-45)" font-size="6.6" text-anchor="end" fill="#111" stroke="#111" stroke-width="0.2">10</text>
<text transform="translate(154.3,495.2) rotate(-45)" font-size="6.6" text-anchor="end" fill="#111" stroke="#111" stroke-width="0.2">100</text>
<text x="107.9" y="518.8" font-size="8.3" text-anchor="middle" textLength="43.4" lengthAdjust="spacingAndGlyphs" fill="#111" stroke="#111" stroke-width="0.32" >Ruxolitinib [μM]</text>
<text transform="translate(38.2,450.5) rotate(-90)" font-size="8" text-anchor="middle" fill="#111" stroke="#111" stroke-width="0.32" textLength="52.6" lengthAdjust="spacingAndGlyphs">Viability (% control)</text>
<text x="195.7" y="364" font-size="9" text-anchor="start" font-weight="bold" fill="#000" stroke="#000" stroke-width="0.25" letter-spacing="0.5">ii</text>
<text x="237.4" y="368.8" font-size="5.5" text-anchor="middle" font-weight="bold" fill="#000" stroke="#000" stroke-width="0.15" >Sample</text>
<text x="269.9" y="368.8" font-size="5.5" text-anchor="middle" font-weight="bold" fill="#000" stroke="#000" stroke-width="0.15" textLength="22" lengthAdjust="spacingAndGlyphs">IC<tspan font-size="3.3" dy="1">50</tspan><tspan dy="-1"> [μM]</tspan></text>
<text x="308.7" y="368.8" font-size="5.5" text-anchor="middle" font-weight="bold" fill="#000" stroke="#000" stroke-width="0.15" >Hill Slope</text>
<line x1="221" y1="376.1" x2="227.2" y2="376.1" stroke="#f0a020" stroke-width="0.7" />
<circle cx="224.1" cy="376.1" r="0.9" fill="#f0a020"/>
<text x="229.9" y="377.7" font-size="6" text-anchor="start" textLength="11.91" lengthAdjust="spacingAndGlyphs" fill="#222" >Sez4</text>
<text x="269.9" y="377.7" font-size="6" text-anchor="middle" textLength="39.72" lengthAdjust="spacingAndGlyphs" fill="#222" >0.0015 ± 0.0001</text>
<text x="308.7" y="377.7" font-size="6" text-anchor="middle" textLength="27.07" lengthAdjust="spacingAndGlyphs" fill="#222" >1.12 ± 0.11</text>
<line x1="221" y1="384.1" x2="227.2" y2="384.1" stroke="#5ab0f0" stroke-width="0.7" />
<circle cx="224.1" cy="384.1" r="0.9" fill="#5ab0f0"/>
<text x="229.9" y="385.7" font-size="6" text-anchor="start" textLength="7.55" lengthAdjust="spacingAndGlyphs" fill="#222" >HH</text>
<text x="269.9" y="385.7" font-size="6" text-anchor="middle" textLength="39.72" lengthAdjust="spacingAndGlyphs" fill="#222" >0.0016 ± 0.0008</text>
<text x="308.7" y="385.7" font-size="6" text-anchor="middle" textLength="27.48" lengthAdjust="spacingAndGlyphs" fill="#222" >0.63 ± 0.09</text>
<line x1="221" y1="391.7" x2="227.2" y2="391.7" stroke="#4a1a80" stroke-width="0.7" />
<circle cx="224.1" cy="391.7" r="0.9" fill="#4a1a80"/>
<text x="229.9" y="393.3" font-size="6" text-anchor="start" textLength="13.94" lengthAdjust="spacingAndGlyphs" fill="#222" >Hut78</text>
<text x="269.9" y="393.3" font-size="6" text-anchor="middle" textLength="27.48" lengthAdjust="spacingAndGlyphs" fill="#222" >0.78 ± 0.17</text>
<text x="308.7" y="393.3" font-size="6" text-anchor="middle" textLength="27.48" lengthAdjust="spacingAndGlyphs" fill="#222" >0.71 ± 0.10</text>
<line x1="221" y1="399.5" x2="227.2" y2="399.5" stroke="#a80d3a" stroke-width="0.7" />
<circle cx="224.1" cy="399.5" r="0.9" fill="#a80d3a"/>
<text x="229.9" y="401.1" font-size="6" text-anchor="start" textLength="12.78" lengthAdjust="spacingAndGlyphs" fill="#222" >MyLa</text>
<text x="269.9" y="401.1" font-size="6" text-anchor="middle" textLength="42.77" lengthAdjust="spacingAndGlyphs" fill="#222" >0.0005 ± 0.00005</text>
<text x="308.7" y="401.1" font-size="6" text-anchor="middle" textLength="27.48" lengthAdjust="spacingAndGlyphs" fill="#222" >0.82 ± 0.06</text>
<line x1="221" y1="407.1" x2="227.2" y2="407.1" stroke="#4aa830" stroke-width="0.7" />
<circle cx="224.1" cy="407.1" r="0.9" fill="#4aa830"/>
<text x="229.9" y="408.7" font-size="6" text-anchor="start" textLength="12.49" lengthAdjust="spacingAndGlyphs" fill="#222" >SeAx</text>
<text x="269.9" y="408.7" font-size="6" text-anchor="middle" textLength="33.6" lengthAdjust="spacingAndGlyphs" fill="#222" >0.012 ± 0.002</text>
<text x="308.7" y="408.7" font-size="6" text-anchor="middle" textLength="30.54" lengthAdjust="spacingAndGlyphs" fill="#222" >0.58 ± 0.062</text>
<line x1="241.55" y1="456.15" x2="334" y2="456.15" stroke="#000" stroke-width="1.2" stroke-dasharray="1.35 1.42"/>
<polyline points="251.37,429.34 252.71,429.36 254.06,429.39 255.4,429.42 256.74,429.46 258.09,429.51 259.43,429.56 260.78,429.62 262.12,429.7 263.46,429.79 264.81,429.89 266.15,430.01 267.5,430.14 268.84,430.31 270.18,430.5 271.53,430.72 272.87,430.98 274.21,431.28 275.56,431.62 276.9,432.03 278.25,432.49 279.59,433.03 280.93,433.65 282.28,434.35 283.62,435.16 284.97,436.07 286.31,437.1 287.65,438.26 289,439.54 290.34,440.96 291.68,442.52 293.03,444.2 294.37,446.02 295.72,447.94 297.06,449.97 298.4,452.07 299.75,454.22 301.09,456.39 302.44,458.57 303.78,460.71 305.12,462.79 306.47,464.8 307.81,466.7 309.15,468.49 310.5,470.14 311.84,471.67 313.19,473.06 314.53,474.31 315.87,475.44 317.22,476.44 318.56,477.33 319.91,478.11 321.25,478.8 322.59,479.4 323.94,479.92 325.28,480.37 326.62,480.76 327.97,481.1 329.31,481.39 330.66,481.63 332,481.85" fill="none" stroke="#a80d3a" stroke-width="1.05" stroke-dasharray="2.6 1.9" opacity="0.85"/>
<polyline points="251.37,435.36 252.71,436.18 254.06,437.09 255.4,438.09 256.74,439.19 258.09,440.39 259.43,441.7 260.78,443.11 262.12,444.62 263.46,446.22 264.81,447.92 266.15,449.68 267.5,451.51 268.84,453.38 270.18,455.27 271.53,457.18 272.87,459.08 274.21,460.95 275.56,462.77 276.9,464.53 278.25,466.21 279.59,467.81 280.93,469.31 282.28,470.71 283.62,472.01 284.97,473.2 286.31,474.3 287.65,475.29 289,476.19 290.34,477 291.68,477.72 293.03,478.37 294.37,478.95 295.72,479.46 297.06,479.91 298.4,480.31 299.75,480.66 301.09,480.97 302.44,481.24 303.78,481.48 305.12,481.69 306.47,481.87 307.81,482.03 309.15,482.17 310.5,482.29 311.84,482.4 313.19,482.49 314.53,482.57 315.87,482.64 317.22,482.7 318.56,482.75 319.91,482.8 321.25,482.84 322.59,482.87 323.94,482.9 325.28,482.93 326.62,482.95 327.97,482.97 329.31,482.99 330.66,483 332,483.01" fill="none" stroke="#4aa830" stroke-width="1.05" stroke-dasharray="2.6 1.9" opacity="0.85"/>
<polyline points="251.37,442.06 252.71,444.41 254.06,447 255.4,449.79 256.74,452.74 258.09,455.77 259.43,458.82 260.78,461.79 262.12,464.63 263.46,467.28 264.81,469.69 266.15,471.84 267.5,473.72 268.84,475.35 270.18,476.74 271.53,477.9 272.87,478.87 274.21,479.67 275.56,480.33 276.9,480.87 278.25,481.31 279.59,481.66 280.93,481.95 282.28,482.18 283.62,482.36 284.97,482.51 286.31,482.63 287.65,482.72 289,482.8 290.34,482.86 291.68,482.91 293.03,482.95 294.37,482.98 295.72,483 297.06,483.02 298.4,483.04 299.75,483.05 301.09,483.06 302.44,483.07 303.78,483.07 305.12,483.08 306.47,483.08 307.81,483.09 309.15,483.09 310.5,483.09 311.84,483.09 313.19,483.09 314.53,483.1 315.87,483.1 317.22,483.1 318.56,483.1 319.91,483.1 321.25,483.1 322.59,483.1 323.94,483.1 325.28,483.1 326.62,483.1 327.97,483.1 329.31,483.1 330.66,483.1 332,483.1" fill="none" stroke="#f0a020" stroke-width="1.05" stroke-dasharray="2.6 1.9" opacity="0.85"/>
<polyline points="251.37,457.27 252.71,460.5 254.06,463.61 255.4,466.52 256.74,469.17 258.09,471.52 259.43,473.58 260.78,475.33 262.12,476.81 263.46,478.04 264.81,479.05 266.15,479.87 267.5,480.53 268.84,481.06 270.18,481.49 271.53,481.83 272.87,482.1 274.21,482.31 275.56,482.48 276.9,482.61 278.25,482.72 279.59,482.8 280.93,482.86 282.28,482.91 283.62,482.95 284.97,482.99 286.31,483.01 287.65,483.03 289,483.04 290.34,483.06 291.68,483.07 293.03,483.07 294.37,483.08 295.72,483.08 297.06,483.09 298.4,483.09 299.75,483.09 301.09,483.09 302.44,483.1 303.78,483.1 305.12,483.1 306.47,483.1 307.81,483.1 309.15,483.1 310.5,483.1 311.84,483.1 313.19,483.1 314.53,483.1 315.87,483.1 317.22,483.1 318.56,483.1 319.91,483.1 321.25,483.1 322.59,483.1 323.94,483.1 325.28,483.1 326.62,483.1 327.97,483.1 329.31,483.1 330.66,483.1 332,483.1" fill="none" stroke="#4a1a80" stroke-width="1.05" stroke-dasharray="2.6 1.9" opacity="0.85"/>
<polyline points="251.37,451.84 258.56,457.23 266.21,461.54 278.45,465.31 293.75,468.55 309.05,472.32 319.76,475.55 332,478.25" fill="none" stroke="#5ab0f0" stroke-width="1.05" stroke-dasharray="2.6 1.9" opacity="0.85"/>
<line x1="251.7" y1="426.29" x2="251.7" y2="429.52" stroke="#a80d3a" stroke-width="0.6" />
<line x1="250.6" y1="426.29" x2="252.8" y2="426.29" stroke="#a80d3a" stroke-width="0.6" />
<line x1="250.6" y1="429.52" x2="252.8" y2="429.52" stroke="#a80d3a" stroke-width="0.6" />
<circle cx="251.7" cy="427.91" r="1.15" fill="#a80d3a"/>
<line x1="266.3" y1="421.92" x2="266.3" y2="429.47" stroke="#a80d3a" stroke-width="0.6" />
<line x1="265.2" y1="421.92" x2="267.4" y2="421.92" stroke="#a80d3a" stroke-width="0.6" />
<line x1="265.2" y1="429.47" x2="267.4" y2="429.47" stroke="#a80d3a" stroke-width="0.6" />
<circle cx="266.3" cy="425.7" r="1.15" fill="#a80d3a"/>
<line x1="273.6" y1="430.39" x2="273.6" y2="435.78" stroke="#a80d3a" stroke-width="0.6" />
<line x1="272.5" y1="430.39" x2="274.7" y2="430.39" stroke="#a80d3a" stroke-width="0.6" />
<line x1="272.5" y1="435.78" x2="274.7" y2="435.78" stroke="#a80d3a" stroke-width="0.6" />
<circle cx="273.6" cy="433.08" r="1.15" fill="#a80d3a"/>
<line x1="280.9" y1="438.85" x2="280.9" y2="442.08" stroke="#a80d3a" stroke-width="0.6" />
<line x1="279.8" y1="438.85" x2="282" y2="438.85" stroke="#a80d3a" stroke-width="0.6" />
<line x1="279.8" y1="442.08" x2="282" y2="442.08" stroke="#a80d3a" stroke-width="0.6" />
<circle cx="280.9" cy="440.47" r="1.15" fill="#a80d3a"/>
<line x1="288.2" y1="440.52" x2="288.2" y2="444.83" stroke="#a80d3a" stroke-width="0.6" />
<line x1="287.1" y1="440.52" x2="289.3" y2="440.52" stroke="#a80d3a" stroke-width="0.6" />
<line x1="287.1" y1="444.83" x2="289.3" y2="444.83" stroke="#a80d3a" stroke-width="0.6" />
<circle cx="288.2" cy="442.68" r="1.15" fill="#a80d3a"/>
<circle cx="295.5" cy="450.6" r="1.15" fill="#a80d3a"/>
<circle cx="302.8" cy="458.36" r="1.15" fill="#a80d3a"/>
<circle cx="310.1" cy="468.49" r="1.15" fill="#a80d3a"/>
<circle cx="317.4" cy="477.76" r="1.15" fill="#a80d3a"/>
<circle cx="324.7" cy="479.97" r="1.15" fill="#a80d3a"/>
<circle cx="332" cy="482.35" r="1.15" fill="#a80d3a"/>
<line x1="251.7" y1="423.27" x2="251.7" y2="434.05" stroke="#4aa830" stroke-width="0.6" />
<line x1="250.6" y1="423.27" x2="252.8" y2="423.27" stroke="#4aa830" stroke-width="0.6" />
<line x1="250.6" y1="434.05" x2="252.8" y2="434.05" stroke="#4aa830" stroke-width="0.6" />
<circle cx="251.7" cy="428.66" r="1.15" fill="#4aa830"/>
<line x1="259" y1="438.69" x2="259" y2="443" stroke="#4aa830" stroke-width="0.6" />
<line x1="257.9" y1="438.69" x2="260.1" y2="438.69" stroke="#4aa830" stroke-width="0.6" />
<line x1="257.9" y1="443" x2="260.1" y2="443" stroke="#4aa830" stroke-width="0.6" />
<circle cx="259" cy="440.84" r="1.15" fill="#4aa830"/>
<line x1="266.3" y1="450.11" x2="266.3" y2="455.5" stroke="#4aa830" stroke-width="0.6" />
<line x1="265.2" y1="450.11" x2="267.4" y2="450.11" stroke="#4aa830" stroke-width="0.6" />
<line x1="265.2" y1="455.5" x2="267.4" y2="455.5" stroke="#4aa830" stroke-width="0.6" />
<circle cx="266.3" cy="452.81" r="1.15" fill="#4aa830"/>
<circle cx="273.6" cy="463.53" r="1.15" fill="#4aa830"/>
<circle cx="280.9" cy="466.66" r="1.15" fill="#4aa830"/>
<circle cx="288.2" cy="471.3" r="1.15" fill="#4aa830"/>
<circle cx="295.5" cy="476.85" r="1.15" fill="#4aa830"/>
<circle cx="302.8" cy="479.22" r="1.15" fill="#4aa830"/>
<circle cx="310.1" cy="480.51" r="1.15" fill="#4aa830"/>
<circle cx="317.4" cy="481.05" r="1.15" fill="#4aa830"/>
<circle cx="324.7" cy="481.43" r="1.15" fill="#4aa830"/>
<circle cx="332" cy="482.35" r="1.15" fill="#4aa830"/>
<line x1="251.7" y1="435.94" x2="251.7" y2="441.33" stroke="#f0a020" stroke-width="0.6" />
<line x1="250.6" y1="435.94" x2="252.8" y2="435.94" stroke="#f0a020" stroke-width="0.6" />
<line x1="250.6" y1="441.33" x2="252.8" y2="441.33" stroke="#f0a020" stroke-width="0.6" />
<circle cx="251.7" cy="438.63" r="1.15" fill="#f0a020"/>
<circle cx="259" cy="461.32" r="1.15" fill="#f0a020"/>
<line x1="266.3" y1="469.52" x2="266.3" y2="474.91" stroke="#f0a020" stroke-width="0.6" />
<line x1="265.2" y1="469.52" x2="267.4" y2="469.52" stroke="#f0a020" stroke-width="0.6" />
<line x1="265.2" y1="474.91" x2="267.4" y2="474.91" stroke="#f0a020" stroke-width="0.6" />
<circle cx="266.3" cy="472.21" r="1.15" fill="#f0a020"/>
<circle cx="273.6" cy="476.85" r="1.15" fill="#f0a020"/>
<circle cx="280.9" cy="478.68" r="1.15" fill="#f0a020"/>
<circle cx="288.2" cy="480.51" r="1.15" fill="#f0a020"/>
<circle cx="295.5" cy="479.97" r="1.15" fill="#f0a020"/>
<circle cx="302.8" cy="479.97" r="1.15" fill="#f0a020"/>
<circle cx="310.1" cy="481.43" r="1.15" fill="#f0a020"/>
<circle cx="317.4" cy="481.43" r="1.15" fill="#f0a020"/>
<circle cx="324.7" cy="481.97" r="1.15" fill="#f0a020"/>
<circle cx="332" cy="482.35" r="1.15" fill="#f0a020"/>
<line x1="251.7" y1="442.94" x2="251.7" y2="450.49" stroke="#5ab0f0" stroke-width="0.6" />
<line x1="250.6" y1="442.94" x2="252.8" y2="442.94" stroke="#5ab0f0" stroke-width="0.6" />
<line x1="250.6" y1="450.49" x2="252.8" y2="450.49" stroke="#5ab0f0" stroke-width="0.6" />
<circle cx="251.7" cy="446.72" r="1.15" fill="#5ab0f0"/>
<circle cx="259" cy="457.07" r="1.15" fill="#5ab0f0"/>
<circle cx="266.3" cy="463" r="1.15" fill="#5ab0f0"/>
<circle cx="273.6" cy="463.37" r="1.15" fill="#5ab0f0"/>
<circle cx="280.9" cy="466.66" r="1.15" fill="#5ab0f0"/>
<circle cx="288.2" cy="467.04" r="1.15" fill="#5ab0f0"/>
<circle cx="295.5" cy="468.87" r="1.15" fill="#5ab0f0"/>
<circle cx="302.8" cy="470" r="1.15" fill="#5ab0f0"/>
<circle cx="310.1" cy="470.76" r="1.15" fill="#5ab0f0"/>
<circle cx="317.4" cy="474.96" r="1.15" fill="#5ab0f0"/>
<circle cx="324.7" cy="478.14" r="1.15" fill="#5ab0f0"/>
<circle cx="332" cy="478.68" r="1.15" fill="#5ab0f0"/>
<circle cx="251.7" cy="458.36" r="1.15" fill="#4a1a80"/>
<circle cx="259" cy="464.45" r="1.15" fill="#4a1a80"/>
<circle cx="266.3" cy="477.76" r="1.15" fill="#4a1a80"/>
<circle cx="273.6" cy="480.51" r="1.15" fill="#4a1a80"/>
<circle cx="280.9" cy="481.81" r="1.15" fill="#4a1a80"/>
<circle cx="288.2" cy="482.35" r="1.15" fill="#4a1a80"/>
<circle cx="295.5" cy="482.35" r="1.15" fill="#4a1a80"/>
<circle cx="302.8" cy="482.35" r="1.15" fill="#4a1a80"/>
<circle cx="310.1" cy="482.35" r="1.15" fill="#4a1a80"/>
<circle cx="317.4" cy="482.35" r="1.15" fill="#4a1a80"/>
<circle cx="324.7" cy="482.35" r="1.15" fill="#4a1a80"/>
<circle cx="332" cy="482.35" r="1.15" fill="#4a1a80"/>
<path d="M240.2,418.7 V486 H334" fill="none" stroke="#222" stroke-width="1.5"/>
<line x1="237.3" y1="483.1" x2="240.2" y2="483.1" stroke="#222" stroke-width="1.1" />
<text x="234.7" y="485.3" font-size="6.6" text-anchor="end" fill="#111" stroke="#111" stroke-width="0.2" >0</text>
<line x1="237.3" y1="469.62" x2="240.2" y2="469.62" stroke="#222" stroke-width="1.1" />
<text x="234.7" y="471.82" font-size="6.6" text-anchor="end" fill="#111" stroke="#111" stroke-width="0.2" >25</text>
<line x1="237.3" y1="456.15" x2="240.2" y2="456.15" stroke="#222" stroke-width="1.1" />
<text x="234.7" y="458.35" font-size="6.6" text-anchor="end" fill="#111" stroke="#111" stroke-width="0.2" >50</text>
<line x1="237.3" y1="442.68" x2="240.2" y2="442.68" stroke="#222" stroke-width="1.1" />
<text x="234.7" y="444.88" font-size="6.6" text-anchor="end" fill="#111" stroke="#111" stroke-width="0.2" >75</text>
<line x1="237.3" y1="429.2" x2="240.2" y2="429.2" stroke="#222" stroke-width="1.1" />
<text x="234.7" y="431.4" font-size="6.6" text-anchor="end" fill="#111" stroke="#111" stroke-width="0.2" >100</text>
<line x1="240.2" y1="486" x2="240.2" y2="489" stroke="#222" stroke-width="1" />
<line x1="245.3" y1="486" x2="245.3" y2="488" stroke="#222" stroke-width="1" />
<line x1="250.4" y1="486" x2="250.4" y2="488" stroke="#222" stroke-width="1" />
<line x1="255.5" y1="486" x2="255.5" y2="489" stroke="#222" stroke-width="1" />
<line x1="260.6" y1="486" x2="260.6" y2="488" stroke="#222" stroke-width="1" />
<line x1="265.7" y1="486" x2="265.7" y2="488" stroke="#222" stroke-width="1" />
<line x1="270.8" y1="486" x2="270.8" y2="489" stroke="#222" stroke-width="1" />
<line x1="275.9" y1="486" x2="275.9" y2="488" stroke="#222" stroke-width="1" />
<line x1="281" y1="486" x2="281" y2="488" stroke="#222" stroke-width="1" />
<line x1="286.1" y1="486" x2="286.1" y2="489" stroke="#222" stroke-width="1" />
<line x1="291.2" y1="486" x2="291.2" y2="488" stroke="#222" stroke-width="1" />
<line x1="296.3" y1="486" x2="296.3" y2="488" stroke="#222" stroke-width="1" />
<line x1="301.4" y1="486" x2="301.4" y2="489" stroke="#222" stroke-width="1" />
<line x1="306.5" y1="486" x2="306.5" y2="488" stroke="#222" stroke-width="1" />
<line x1="311.6" y1="486" x2="311.6" y2="488" stroke="#222" stroke-width="1" />
<line x1="316.7" y1="486" x2="316.7" y2="489" stroke="#222" stroke-width="1" />
<line x1="321.8" y1="486" x2="321.8" y2="488" stroke="#222" stroke-width="1" />
<line x1="326.9" y1="486" x2="326.9" y2="488" stroke="#222" stroke-width="1" />
<line x1="332" y1="486" x2="332" y2="489" stroke="#222" stroke-width="1" />
<text transform="translate(242.8,496.2) rotate(-45)" font-size="6.6" text-anchor="end" fill="#111" stroke="#111" stroke-width="0.2">0.0001</text>
<text transform="translate(258.1,496.2) rotate(-45)" font-size="6.6" text-anchor="end" fill="#111" stroke="#111" stroke-width="0.2">0.001</text>
<text transform="translate(273.4,496.2) rotate(-45)" font-size="6.6" text-anchor="end" fill="#111" stroke="#111" stroke-width="0.2">0.01</text>
<text transform="translate(288.7,496.2) rotate(-45)" font-size="6.6" text-anchor="end" fill="#111" stroke="#111" stroke-width="0.2">0.1</text>
<text transform="translate(304,496.2) rotate(-45)" font-size="6.6" text-anchor="end" fill="#111" stroke="#111" stroke-width="0.2">1</text>
<text transform="translate(319.3,496.2) rotate(-45)" font-size="6.6" text-anchor="end" fill="#111" stroke="#111" stroke-width="0.2">10</text>
<text transform="translate(334.6,496.2) rotate(-45)" font-size="6.6" text-anchor="end" fill="#111" stroke="#111" stroke-width="0.2">100</text>
<text x="286" y="519" font-size="8.3" text-anchor="middle" textLength="44.9" lengthAdjust="spacingAndGlyphs" fill="#111" stroke="#111" stroke-width="0.32" >Mivebresib [μM]</text>
<text transform="translate(217.6,452) rotate(-90)" font-size="8" text-anchor="middle" fill="#111" stroke="#111" stroke-width="0.32" textLength="52.6" lengthAdjust="spacingAndGlyphs">Viability (% control)</text>
<text x="374.9" y="364" font-size="9" text-anchor="start" font-weight="bold" fill="#000" stroke="#000" stroke-width="0.25" letter-spacing="0.5">iii</text>
<text x="407" y="369" font-size="5.5" text-anchor="middle" font-weight="bold" fill="#000" stroke="#000" stroke-width="0.15" >Sample</text>
<text x="442.8" y="369" font-size="5.5" text-anchor="middle" font-weight="bold" fill="#000" stroke="#000" stroke-width="0.15" textLength="22" lengthAdjust="spacingAndGlyphs">IC<tspan font-size="3.3" dy="1">50</tspan><tspan dy="-1"> [μM]</tspan></text>
<text x="487.6" y="369" font-size="5.5" text-anchor="middle" font-weight="bold" fill="#000" stroke="#000" stroke-width="0.15" >Hill Slope</text>
<line x1="391" y1="376.1" x2="396.4" y2="376.1" stroke="#f0a020" stroke-width="0.7" />
<circle cx="393.7" cy="376.1" r="0.9" fill="#f0a020"/>
<text x="399.6" y="377.7" font-size="6" text-anchor="start" textLength="11.91" lengthAdjust="spacingAndGlyphs" fill="#222" >Sez4</text>
<text x="442.8" y="377.7" font-size="6" text-anchor="middle" textLength="27.48" lengthAdjust="spacingAndGlyphs" fill="#222" >2.20 ± 0.26</text>
<text x="487.6" y="377.7" font-size="6" text-anchor="middle" textLength="27.48" lengthAdjust="spacingAndGlyphs" fill="#222" >1.16 ± 0.07</text>
<line x1="391" y1="384.1" x2="396.4" y2="384.1" stroke="#5ab0f0" stroke-width="0.7" />
<circle cx="393.7" cy="384.1" r="0.9" fill="#5ab0f0"/>
<text x="399.6" y="385.7" font-size="6" text-anchor="start" textLength="7.55" lengthAdjust="spacingAndGlyphs" fill="#222" >HH</text>
<text x="442.8" y="385.7" font-size="6" text-anchor="middle" textLength="27.48" lengthAdjust="spacingAndGlyphs" fill="#222" >6.80 ± 0.40</text>
<text x="487.6" y="385.7" font-size="6" text-anchor="middle" textLength="27.48" lengthAdjust="spacingAndGlyphs" fill="#222" >1.44 ± 0.21</text>
<line x1="391" y1="391.7" x2="396.4" y2="391.7" stroke="#4a1a80" stroke-width="0.7" />
<circle cx="393.7" cy="391.7" r="0.9" fill="#4a1a80"/>
<text x="399.6" y="393.3" font-size="6" text-anchor="start" textLength="13.94" lengthAdjust="spacingAndGlyphs" fill="#222" >Hut78</text>
<text x="442.8" y="393.3" font-size="6" text-anchor="middle" textLength="27.48" lengthAdjust="spacingAndGlyphs" fill="#222" >9.81 ± 1.50</text>
<text x="487.6" y="393.3" font-size="6" text-anchor="middle" textLength="27.07" lengthAdjust="spacingAndGlyphs" fill="#222" >1.11 ± 0.17</text>
<line x1="391" y1="399.5" x2="396.4" y2="399.5" stroke="#a80d3a" stroke-width="0.7" />
<circle cx="393.7" cy="399.5" r="0.9" fill="#a80d3a"/>
<text x="399.6" y="401.1" font-size="6" text-anchor="start" textLength="12.78" lengthAdjust="spacingAndGlyphs" fill="#222" >MyLa</text>
<text x="442.8" y="401.1" font-size="6" text-anchor="middle" textLength="27.48" lengthAdjust="spacingAndGlyphs" fill="#222" >0.15 ± 0.04</text>
<text x="487.6" y="401.1" font-size="6" text-anchor="middle" textLength="27.48" lengthAdjust="spacingAndGlyphs" fill="#222" >1.00 ± 0.23</text>
<line x1="391" y1="407.1" x2="396.4" y2="407.1" stroke="#4aa830" stroke-width="0.7" />
<circle cx="393.7" cy="407.1" r="0.9" fill="#4aa830"/>
<text x="399.6" y="408.7" font-size="6" text-anchor="start" textLength="12.49" lengthAdjust="spacingAndGlyphs" fill="#222" >SeAx</text>
<text x="442.8" y="408.7" font-size="6" text-anchor="middle" textLength="51.95" lengthAdjust="spacingAndGlyphs" fill="#222" >0.000013 ± 0.000005</text>
<text x="487.6" y="408.7" font-size="6" text-anchor="middle" textLength="27.07" lengthAdjust="spacingAndGlyphs" fill="#222" >0.63 ± 0.11</text>
<line x1="415.05" y1="450.7" x2="507.5" y2="450.7" stroke="#000" stroke-width="1.2" stroke-dasharray="1.35 1.42"/>
<polyline points="413.7,418.71 415.22,418.71 416.73,418.71 418.25,418.71 419.77,418.71 421.28,418.72 422.8,418.72 424.32,418.73 425.83,418.73 427.35,418.74 428.87,418.75 430.38,418.76 431.9,418.78 433.42,418.8 434.93,418.83 436.45,418.86 437.97,418.9 439.48,418.94 441,419 442.52,419.08 444.03,419.17 445.55,419.29 447.07,419.44 448.58,419.62 450.1,419.84 451.62,420.12 453.13,420.47 454.65,420.89 456.17,421.42 457.68,422.06 459.2,422.84 460.72,423.79 462.23,424.94 463.75,426.31 465.27,427.93 466.78,429.83 468.3,432.03 469.82,434.53 471.33,437.33 472.85,440.4 474.37,443.69 475.88,447.15 477.4,450.7 478.92,454.25 480.43,457.71 481.95,461 483.47,464.07 484.98,466.87 486.5,469.37 488.02,471.57 489.53,473.47 491.05,475.09 492.57,476.46 494.08,477.61 495.6,478.56 497.12,479.34 498.63,479.98 500.15,480.51 501.67,480.93 503.18,481.28 504.7,481.56" fill="none" stroke="#f0a020" stroke-width="1.05" stroke-dasharray="2.6 1.9" opacity="0.85"/>
<polyline points="413.7,418.7 415.22,418.7 416.73,418.7 418.25,418.7 419.77,418.7 421.28,418.7 422.8,418.7 424.32,418.7 425.83,418.7 427.35,418.7 428.87,418.7 430.38,418.7 431.9,418.7 433.42,418.7 434.93,418.7 436.45,418.71 437.97,418.71 439.48,418.71 441,418.71 442.52,418.72 444.03,418.72 445.55,418.73 447.07,418.73 448.58,418.75 450.1,418.76 451.62,418.78 453.13,418.81 454.65,418.84 456.17,418.88 457.68,418.94 459.2,419.02 460.72,419.12 462.23,419.25 463.75,419.42 465.27,419.65 466.78,419.94 468.3,420.33 469.82,420.83 471.33,421.47 472.85,422.31 474.37,423.37 475.88,424.72 477.4,426.4 478.92,428.48 480.43,430.99 481.95,433.97 483.47,437.41 484.98,441.26 486.5,445.44 488.02,449.82 489.53,454.22 491.05,458.5 492.57,462.5 494.08,466.11 495.6,469.27 497.12,471.97 498.63,474.22 500.15,476.05 501.67,477.53 503.18,478.7 504.7,479.62" fill="none" stroke="#5ab0f0" stroke-width="1.05" stroke-dasharray="2.6 1.9" opacity="0.85"/>
<polyline points="413.7,418.7 415.22,418.7 416.73,418.7 418.25,418.7 419.77,418.7 421.28,418.7 422.8,418.7 424.32,418.71 425.83,418.71 427.35,418.71 428.87,418.71 430.38,418.71 431.9,418.72 433.42,418.72 434.93,418.72 436.45,418.73 437.97,418.74 439.48,418.75 441,418.76 442.52,418.77 444.03,418.79 445.55,418.81 447.07,418.83 448.58,418.86 450.1,418.9 451.62,418.95 453.13,419.01 454.65,419.08 456.17,419.17 457.68,419.29 459.2,419.42 460.72,419.59 462.23,419.8 463.75,420.05 465.27,420.37 466.78,420.75 468.3,421.22 469.82,421.79 471.33,422.48 472.85,423.31 474.37,424.31 475.88,425.5 477.4,426.91 478.92,428.55 480.43,430.46 481.95,432.65 483.47,435.11 484.98,437.84 486.5,440.81 488.02,443.99 489.53,447.3 491.05,450.7 492.57,454.1 494.08,457.41 495.6,460.59 497.12,463.56 498.63,466.29 500.15,468.75 501.67,470.94 503.18,472.85 504.7,474.49" fill="none" stroke="#4a1a80" stroke-width="1.05" stroke-dasharray="2.6 1.9" opacity="0.85"/>
<polyline points="413.7,418.9 415.22,418.94 416.73,419 418.25,419.06 419.77,419.13 421.28,419.22 422.8,419.33 424.32,419.47 425.83,419.63 427.35,419.82 428.87,420.05 430.38,420.33 431.9,420.66 433.42,421.06 434.93,421.54 436.45,422.11 437.97,422.78 439.48,423.58 441,424.52 442.52,425.62 444.03,426.89 445.55,428.36 447.07,430.04 448.58,431.95 450.1,434.08 451.62,436.43 453.13,438.99 454.65,441.74 456.17,444.63 457.68,447.64 459.2,450.7 460.72,453.76 462.23,456.77 463.75,459.66 465.27,462.41 466.78,464.97 468.3,467.32 469.82,469.45 471.33,471.36 472.85,473.04 474.37,474.51 475.88,475.78 477.4,476.88 478.92,477.82 480.43,478.62 481.95,479.29 483.47,479.86 484.98,480.34 486.5,480.74 488.02,481.07 489.53,481.35 491.05,481.58 492.57,481.77 494.08,481.93 495.6,482.07 497.12,482.18 498.63,482.27 500.15,482.34 501.67,482.4 503.18,482.46 504.7,482.5" fill="none" stroke="#a80d3a" stroke-width="1.05" stroke-dasharray="2.6 1.9" opacity="0.85"/>
<polyline points="413.7,476.94 422.8,478.86 431.9,480.78 441,481.74 468.3,482.19 504.7,482.51" fill="none" stroke="#4aa830" stroke-width="1.05" stroke-dasharray="2.6 1.9" opacity="0.85"/>
<line x1="417.86" y1="433.16" x2="417.86" y2="438.03" stroke="#a80d3a" stroke-width="0.6" />
<line x1="416.76" y1="433.16" x2="418.96" y2="433.16" stroke="#a80d3a" stroke-width="0.6" />
<line x1="416.76" y1="438.03" x2="418.96" y2="438.03" stroke="#a80d3a" stroke-width="0.6" />
<circle cx="417.86" cy="435.6" r="1.15" fill="#a80d3a"/>
<line x1="426.55" y1="426" x2="426.55" y2="434.7" stroke="#a80d3a" stroke-width="0.6" />
<line x1="425.45" y1="426" x2="427.65" y2="426" stroke="#a80d3a" stroke-width="0.6" />
<line x1="425.45" y1="434.7" x2="427.65" y2="434.7" stroke="#a80d3a" stroke-width="0.6" />
<circle cx="426.55" cy="430.35" r="1.15" fill="#a80d3a"/>
<line x1="435.23" y1="422.99" x2="435.23" y2="435.79" stroke="#a80d3a" stroke-width="0.6" />
<line x1="434.13" y1="422.99" x2="436.33" y2="422.99" stroke="#a80d3a" stroke-width="0.6" />
<line x1="434.13" y1="435.79" x2="436.33" y2="435.79" stroke="#a80d3a" stroke-width="0.6" />
<circle cx="435.23" cy="429.39" r="1.15" fill="#a80d3a"/>
<circle cx="443.91" cy="431.76" r="1.15" fill="#a80d3a"/>
<circle cx="452.6" cy="431.76" r="1.15" fill="#a80d3a"/>
<circle cx="461.28" cy="450.44" r="1.15" fill="#a80d3a"/>
<circle cx="469.97" cy="477" r="1.15" fill="#a80d3a"/>
<circle cx="478.65" cy="482.12" r="1.15" fill="#a80d3a"/>
<circle cx="487.33" cy="482.7" r="1.15" fill="#a80d3a"/>
<circle cx="496.02" cy="482.51" r="1.15" fill="#a80d3a"/>
<circle cx="504.7" cy="482.51" r="1.15" fill="#a80d3a"/>
<line x1="417.86" y1="418.57" x2="417.86" y2="421.9" stroke="#f0a020" stroke-width="0.6" />
<line x1="416.76" y1="418.57" x2="418.96" y2="418.57" stroke="#f0a020" stroke-width="0.6" />
<line x1="416.76" y1="421.9" x2="418.96" y2="421.9" stroke="#f0a020" stroke-width="0.6" />
<circle cx="417.86" cy="420.24" r="1.15" fill="#f0a020"/>
<line x1="426.55" y1="423.37" x2="426.55" y2="427.72" stroke="#f0a020" stroke-width="0.6" />
<line x1="425.45" y1="423.37" x2="427.65" y2="423.37" stroke="#f0a020" stroke-width="0.6" />
<line x1="425.45" y1="427.72" x2="427.65" y2="427.72" stroke="#f0a020" stroke-width="0.6" />
<circle cx="426.55" cy="425.55" r="1.15" fill="#f0a020"/>
<line x1="435.23" y1="421.26" x2="435.23" y2="426" stroke="#f0a020" stroke-width="0.6" />
<line x1="434.13" y1="421.26" x2="436.33" y2="421.26" stroke="#f0a020" stroke-width="0.6" />
<line x1="434.13" y1="426" x2="436.33" y2="426" stroke="#f0a020" stroke-width="0.6" />
<circle cx="435.23" cy="423.63" r="1.15" fill="#f0a020"/>
<circle cx="443.91" cy="427.02" r="1.15" fill="#f0a020"/>
<line x1="452.6" y1="421.71" x2="452.6" y2="425.55" stroke="#f0a020" stroke-width="0.6" />
<line x1="451.5" y1="421.71" x2="453.7" y2="421.71" stroke="#f0a020" stroke-width="0.6" />
<line x1="451.5" y1="425.55" x2="453.7" y2="425.55" stroke="#f0a020" stroke-width="0.6" />
<circle cx="452.6" cy="423.63" r="1.15" fill="#f0a020"/>
<line x1="461.28" y1="422.99" x2="461.28" y2="428.11" stroke="#f0a020" stroke-width="0.6" />
<line x1="460.18" y1="422.99" x2="462.38" y2="422.99" stroke="#f0a020" stroke-width="0.6" />
<line x1="460.18" y1="428.11" x2="462.38" y2="428.11" stroke="#f0a020" stroke-width="0.6" />
<circle cx="461.28" cy="425.55" r="1.15" fill="#f0a020"/>
<circle cx="469.97" cy="425.8" r="1.15" fill="#f0a020"/>
<line x1="478.65" y1="442.32" x2="478.65" y2="450" stroke="#f0a020" stroke-width="0.6" />
<line x1="477.55" y1="442.32" x2="479.75" y2="442.32" stroke="#f0a020" stroke-width="0.6" />
<line x1="477.55" y1="450" x2="479.75" y2="450" stroke="#f0a020" stroke-width="0.6" />
<circle cx="478.65" cy="446.16" r="1.15" fill="#f0a020"/>
<line x1="487.33" y1="466.64" x2="487.33" y2="471.76" stroke="#f0a020" stroke-width="0.6" />
<line x1="486.23" y1="466.64" x2="488.43" y2="466.64" stroke="#f0a020" stroke-width="0.6" />
<line x1="486.23" y1="471.76" x2="488.43" y2="471.76" stroke="#f0a020" stroke-width="0.6" />
<circle cx="487.33" cy="469.2" r="1.15" fill="#f0a020"/>
<circle cx="496.02" cy="479.88" r="1.15" fill="#f0a020"/>
<circle cx="504.7" cy="481.74" r="1.15" fill="#f0a020"/>
<circle cx="417.86" cy="419.02" r="1.15" fill="#5ab0f0"/>
<circle cx="426.55" cy="418.7" r="1.15" fill="#5ab0f0"/>
<circle cx="435.23" cy="419.4" r="1.15" fill="#5ab0f0"/>
<circle cx="443.91" cy="421.26" r="1.15" fill="#5ab0f0"/>
<circle cx="452.6" cy="419.02" r="1.15" fill="#5ab0f0"/>
<circle cx="461.28" cy="419.4" r="1.15" fill="#5ab0f0"/>
<circle cx="469.97" cy="421.26" r="1.15" fill="#5ab0f0"/>
<circle cx="478.65" cy="429" r="1.15" fill="#5ab0f0"/>
<circle cx="487.33" cy="445.2" r="1.15" fill="#5ab0f0"/>
<circle cx="496.02" cy="465.48" r="1.15" fill="#5ab0f0"/>
<circle cx="504.7" cy="480.27" r="1.15" fill="#5ab0f0"/>
<circle cx="417.86" cy="422.16" r="1.15" fill="#4a1a80"/>
<circle cx="426.55" cy="422.67" r="1.15" fill="#4a1a80"/>
<circle cx="435.23" cy="422.67" r="1.15" fill="#4a1a80"/>
<circle cx="443.91" cy="424.08" r="1.15" fill="#4a1a80"/>
<line x1="452.6" y1="424.59" x2="452.6" y2="428.43" stroke="#4a1a80" stroke-width="0.6" />
<line x1="451.5" y1="424.59" x2="453.7" y2="424.59" stroke="#4a1a80" stroke-width="0.6" />
<line x1="451.5" y1="428.43" x2="453.7" y2="428.43" stroke="#4a1a80" stroke-width="0.6" />
<circle cx="452.6" cy="426.51" r="1.15" fill="#4a1a80"/>
<circle cx="461.28" cy="421.2" r="1.15" fill="#4a1a80"/>
<circle cx="469.97" cy="420.3" r="1.15" fill="#4a1a80"/>
<line x1="478.65" y1="427.6" x2="478.65" y2="431.44" stroke="#4a1a80" stroke-width="0.6" />
<line x1="477.55" y1="427.6" x2="479.75" y2="427.6" stroke="#4a1a80" stroke-width="0.6" />
<line x1="477.55" y1="431.44" x2="479.75" y2="431.44" stroke="#4a1a80" stroke-width="0.6" />
<circle cx="478.65" cy="429.52" r="1.15" fill="#4a1a80"/>
<line x1="487.33" y1="439.24" x2="487.33" y2="443.08" stroke="#4a1a80" stroke-width="0.6" />
<line x1="486.23" y1="439.24" x2="488.43" y2="439.24" stroke="#4a1a80" stroke-width="0.6" />
<line x1="486.23" y1="443.08" x2="488.43" y2="443.08" stroke="#4a1a80" stroke-width="0.6" />
<circle cx="487.33" cy="441.16" r="1.15" fill="#4a1a80"/>
<circle cx="496.02" cy="452.24" r="1.15" fill="#4a1a80"/>
<circle cx="504.7" cy="478.41" r="1.15" fill="#4a1a80"/>
<line x1="417.86" y1="475.08" x2="417.86" y2="478.92" stroke="#4aa830" stroke-width="0.6" />
<line x1="416.76" y1="475.08" x2="418.96" y2="475.08" stroke="#4aa830" stroke-width="0.6" />
<line x1="416.76" y1="478.92" x2="418.96" y2="478.92" stroke="#4aa830" stroke-width="0.6" />
<circle cx="417.86" cy="477" r="1.15" fill="#4aa830"/>
<line x1="426.55" y1="476.94" x2="426.55" y2="480.78" stroke="#4aa830" stroke-width="0.6" />
<line x1="425.45" y1="476.94" x2="427.65" y2="476.94" stroke="#4aa830" stroke-width="0.6" />
<line x1="425.45" y1="480.78" x2="427.65" y2="480.78" stroke="#4aa830" stroke-width="0.6" />
<circle cx="426.55" cy="478.86" r="1.15" fill="#4aa830"/>
<circle cx="435.23" cy="481.74" r="1.15" fill="#4aa830"/>
<circle cx="443.91" cy="482.51" r="1.15" fill="#4aa830"/>
<circle cx="452.6" cy="482.12" r="1.15" fill="#4aa830"/>
<circle cx="461.28" cy="481.16" r="1.15" fill="#4aa830"/>
<circle cx="469.97" cy="482.12" r="1.15" fill="#4aa830"/>
<circle cx="478.65" cy="482.12" r="1.15" fill="#4aa830"/>
<circle cx="487.33" cy="482.12" r="1.15" fill="#4aa830"/>
<circle cx="496.02" cy="482.12" r="1.15" fill="#4aa830"/>
<circle cx="504.7" cy="482.12" r="1.15" fill="#4aa830"/>
<path d="M413.7,415.8 V485.2 H507.5" fill="none" stroke="#222" stroke-width="1.5"/>
<line x1="410.8" y1="482.7" x2="413.7" y2="482.7" stroke="#222" stroke-width="1.1" />
<text x="408.2" y="484.9" font-size="6.6" text-anchor="end" fill="#111" stroke="#111" stroke-width="0.2" >0</text>
<line x1="410.8" y1="466.7" x2="413.7" y2="466.7" stroke="#222" stroke-width="1.1" />
<text x="408.2" y="468.9" font-size="6.6" text-anchor="end" fill="#111" stroke="#111" stroke-width="0.2" >25</text>
<line x1="410.8" y1="450.7" x2="413.7" y2="450.7" stroke="#222" stroke-width="1.1" />
<text x="408.2" y="452.9" font-size="6.6" text-anchor="end" fill="#111" stroke="#111" stroke-width="0.2" >50</text>
<line x1="410.8" y1="434.7" x2="413.7" y2="434.7" stroke="#222" stroke-width="1.1" />
<text x="408.2" y="436.9" font-size="6.6" text-anchor="end" fill="#111" stroke="#111" stroke-width="0.2" >75</text>
<line x1="410.8" y1="418.7" x2="413.7" y2="418.7" stroke="#222" stroke-width="1.1" />
<text x="408.2" y="420.9" font-size="6.6" text-anchor="end" fill="#111" stroke="#111" stroke-width="0.2" >100</text>
<line x1="413.7" y1="485.2" x2="413.7" y2="488.2" stroke="#222" stroke-width="1" />
<line x1="419.77" y1="485.2" x2="419.77" y2="487.2" stroke="#222" stroke-width="1" />
<line x1="425.83" y1="485.2" x2="425.83" y2="487.2" stroke="#222" stroke-width="1" />
<line x1="431.9" y1="485.2" x2="431.9" y2="488.2" stroke="#222" stroke-width="1" />
<line x1="437.97" y1="485.2" x2="437.97" y2="487.2" stroke="#222" stroke-width="1" />
<line x1="444.03" y1="485.2" x2="444.03" y2="487.2" stroke="#222" stroke-width="1" />
<line x1="450.1" y1="485.2" x2="450.1" y2="488.2" stroke="#222" stroke-width="1" />
<line x1="456.17" y1="485.2" x2="456.17" y2="487.2" stroke="#222" stroke-width="1" />
<line x1="462.23" y1="485.2" x2="462.23" y2="487.2" stroke="#222" stroke-width="1" />
<line x1="468.3" y1="485.2" x2="468.3" y2="488.2" stroke="#222" stroke-width="1" />
<line x1="474.37" y1="485.2" x2="474.37" y2="487.2" stroke="#222" stroke-width="1" />
<line x1="480.43" y1="485.2" x2="480.43" y2="487.2" stroke="#222" stroke-width="1" />
<line x1="486.5" y1="485.2" x2="486.5" y2="488.2" stroke="#222" stroke-width="1" />
<line x1="492.57" y1="485.2" x2="492.57" y2="487.2" stroke="#222" stroke-width="1" />
<line x1="498.63" y1="485.2" x2="498.63" y2="487.2" stroke="#222" stroke-width="1" />
<line x1="504.7" y1="485.2" x2="504.7" y2="488.2" stroke="#222" stroke-width="1" />
<text transform="translate(416.3,495.4) rotate(-45)" font-size="6.6" text-anchor="end" fill="#111" stroke="#111" stroke-width="0.2">0.001</text>
<text transform="translate(434.5,495.4) rotate(-45)" font-size="6.6" text-anchor="end" fill="#111" stroke="#111" stroke-width="0.2">0.01</text>
<text transform="translate(452.7,495.4) rotate(-45)" font-size="6.6" text-anchor="end" fill="#111" stroke="#111" stroke-width="0.2">0.1</text>
<text transform="translate(470.9,495.4) rotate(-45)" font-size="6.6" text-anchor="end" fill="#111" stroke="#111" stroke-width="0.2">1</text>
<text transform="translate(489.1,495.4) rotate(-45)" font-size="6.6" text-anchor="end" fill="#111" stroke="#111" stroke-width="0.2">10</text>
<text transform="translate(507.3,495.4) rotate(-45)" font-size="6.6" text-anchor="end" fill="#111" stroke="#111" stroke-width="0.2">100</text>
<text x="458.9" y="518.6" font-size="8.3" text-anchor="middle" textLength="44.4" lengthAdjust="spacingAndGlyphs" fill="#111" stroke="#111" stroke-width="0.32" >Venetoclax [μM]</text>
<text transform="translate(391.4,450.5) rotate(-90)" font-size="8" text-anchor="middle" fill="#111" stroke="#111" stroke-width="0.32" textLength="52.6" lengthAdjust="spacingAndGlyphs">Viability (% control)</text>
<text x="18.9" y="537.9" font-size="9" text-anchor="start" font-weight="bold" fill="#000" stroke="#000" stroke-width="0.25" letter-spacing="0.5">iv</text>
<text x="65.9" y="541.9" font-size="5.5" text-anchor="middle" font-weight="bold" fill="#000" stroke="#000" stroke-width="0.15" >Sample</text>
<text x="91.8" y="541.9" font-size="5.5" text-anchor="middle" font-weight="bold" fill="#000" stroke="#000" stroke-width="0.15" textLength="22" lengthAdjust="spacingAndGlyphs">IC<tspan font-size="3.3" dy="1">50</tspan><tspan dy="-1"> [μM]</tspan></text>
<text x="124.5" y="541.9" font-size="5.5" text-anchor="middle" font-weight="bold" fill="#000" stroke="#000" stroke-width="0.15" >Hill Slope</text>
<line x1="49.9" y1="549.6" x2="55.8" y2="549.6" stroke="#f0a020" stroke-width="0.7" />
<circle cx="52.85" cy="549.6" r="0.9" fill="#f0a020"/>
<text x="58" y="551.2" font-size="6" text-anchor="start" textLength="11.91" lengthAdjust="spacingAndGlyphs" fill="#222" >Sez4</text>
<text x="91.8" y="551.2" font-size="6" text-anchor="middle" textLength="27.48" lengthAdjust="spacingAndGlyphs" fill="#222" >0.18 ± 0.02</text>
<text x="124.5" y="551.2" font-size="6" text-anchor="middle" textLength="27.48" lengthAdjust="spacingAndGlyphs" fill="#222" >2.08 ± 0.55</text>
<line x1="49.9" y1="556.9" x2="55.8" y2="556.9" stroke="#5ab0f0" stroke-width="0.7" />
<circle cx="52.85" cy="556.9" r="0.9" fill="#5ab0f0"/>
<text x="58" y="558.5" font-size="6" text-anchor="start" textLength="7.55" lengthAdjust="spacingAndGlyphs" fill="#222" >HH</text>
<text x="91.8" y="558.5" font-size="6" text-anchor="middle" textLength="27.48" lengthAdjust="spacingAndGlyphs" fill="#222" >0.30 ± 0.02</text>
<text x="124.5" y="558.5" font-size="6" text-anchor="middle" textLength="27.48" lengthAdjust="spacingAndGlyphs" fill="#222" >2.74 ± 0.34</text>
<line x1="49.9" y1="564.4" x2="55.8" y2="564.4" stroke="#4a1a80" stroke-width="0.7" />
<circle cx="52.85" cy="564.4" r="0.9" fill="#4a1a80"/>
<text x="58" y="566" font-size="6" text-anchor="start" textLength="13.94" lengthAdjust="spacingAndGlyphs" fill="#222" >Hut78</text>
<text x="91.8" y="566" font-size="6" text-anchor="middle" textLength="27.48" lengthAdjust="spacingAndGlyphs" fill="#222" >0.36 ± 0.05</text>
<text x="124.5" y="566" font-size="6" text-anchor="middle" textLength="27.48" lengthAdjust="spacingAndGlyphs" fill="#222" >1.24 ± 0.18</text>
<line x1="49.9" y1="572" x2="55.8" y2="572" stroke="#a80d3a" stroke-width="0.7" />
<circle cx="52.85" cy="572" r="0.9" fill="#a80d3a"/>
<text x="58" y="573.6" font-size="6" text-anchor="start" textLength="12.78" lengthAdjust="spacingAndGlyphs" fill="#222" >MyLa</text>
<text x="91.8" y="573.6" font-size="6" text-anchor="middle" textLength="27.48" lengthAdjust="spacingAndGlyphs" fill="#222" >0.78 ± 0.26</text>
<text x="124.5" y="573.6" font-size="6" text-anchor="middle" textLength="27.48" lengthAdjust="spacingAndGlyphs" fill="#222" >1.28 ± 0.19</text>
<line x1="49.9" y1="579.8" x2="55.8" y2="579.8" stroke="#4aa830" stroke-width="0.7" />
<circle cx="52.85" cy="579.8" r="0.9" fill="#4aa830"/>
<text x="58" y="581.4" font-size="6" text-anchor="start" textLength="12.49" lengthAdjust="spacingAndGlyphs" fill="#222" >SeAx</text>
<text x="91.8" y="581.4" font-size="6" text-anchor="middle" textLength="27.48" lengthAdjust="spacingAndGlyphs" fill="#222" >1.13 ± 0.15</text>
<text x="124.5" y="581.4" font-size="6" text-anchor="middle" textLength="27.48" lengthAdjust="spacingAndGlyphs" fill="#222" >1.00 ± 0.29</text>
<line x1="61.95" y1="625.2" x2="155.6" y2="625.2" stroke="#000" stroke-width="1.2" stroke-dasharray="1.35 1.42"/>
<polyline points="60.6,592.7 62.14,592.7 63.68,592.7 65.22,592.7 66.77,592.7 68.31,592.7 69.85,592.7 71.39,592.71 72.93,592.71 74.47,592.71 76.02,592.72 77.56,592.73 79.1,592.75 80.64,592.77 82.18,592.81 83.72,592.86 85.27,592.94 86.81,593.06 88.35,593.24 89.89,593.5 91.43,593.88 92.97,594.44 94.52,595.26 96.06,596.45 97.6,598.13 99.14,600.48 100.68,603.65 102.22,607.78 103.77,612.88 105.31,618.8 106.85,625.2 108.39,631.6 109.93,637.52 111.47,642.62 113.02,646.75 114.56,649.92 116.1,652.27 117.64,653.95 119.18,655.14 120.72,655.96 122.27,656.52 123.81,656.9 125.35,657.16 126.89,657.34 128.43,657.46 129.97,657.54 131.52,657.59 133.06,657.63 134.6,657.65 136.14,657.67 137.68,657.68 139.22,657.69 140.77,657.69 142.31,657.69 143.85,657.7 145.39,657.7 146.93,657.7 148.47,657.7 150.02,657.7 151.56,657.7 153.1,657.7" fill="none" stroke="#f0a020" stroke-width="1.05" stroke-dasharray="2.6 1.9" opacity="0.85"/>
<polyline points="60.6,592.7 62.14,592.7 63.68,592.7 65.22,592.7 66.77,592.7 68.31,592.7 69.85,592.7 71.39,592.7 72.93,592.7 74.47,592.7 76.02,592.7 77.56,592.7 79.1,592.7 80.64,592.7 82.18,592.7 83.72,592.71 85.27,592.71 86.81,592.71 88.35,592.72 89.89,592.74 91.43,592.77 92.97,592.82 94.52,592.9 96.06,593.04 97.6,593.27 99.14,593.65 100.68,594.3 102.22,595.36 103.77,597.08 105.31,599.77 106.85,603.83 108.39,609.53 109.93,616.85 111.47,625.2 113.02,633.55 114.56,640.87 116.1,646.57 117.64,650.63 119.18,653.32 120.72,655.04 122.27,656.1 123.81,656.75 125.35,657.13 126.89,657.36 128.43,657.5 129.97,657.58 131.52,657.63 133.06,657.66 134.6,657.68 136.14,657.69 137.68,657.69 139.22,657.69 140.77,657.7 142.31,657.7 143.85,657.7 145.39,657.7 146.93,657.7 148.47,657.7 150.02,657.7 151.56,657.7 153.1,657.7" fill="none" stroke="#5ab0f0" stroke-width="1.05" stroke-dasharray="2.6 1.9" opacity="0.85"/>
<polyline points="60.6,592.71 62.14,592.72 63.68,592.72 65.22,592.73 66.77,592.74 68.31,592.75 69.85,592.76 71.39,592.78 72.93,592.8 74.47,592.82 76.02,592.85 77.56,592.9 79.1,592.95 80.64,593.01 82.18,593.1 83.72,593.2 85.27,593.34 86.81,593.51 88.35,593.72 89.89,593.99 91.43,594.32 92.97,594.75 94.52,595.27 96.06,595.93 97.6,596.75 99.14,597.75 100.68,598.97 102.22,600.46 103.77,602.24 105.31,604.34 106.85,606.79 108.39,609.59 109.93,612.73 111.47,616.16 113.02,619.84 114.56,623.65 116.1,627.52 117.64,631.31 119.18,634.94 120.72,638.33 122.27,641.4 123.81,644.13 125.35,646.51 126.89,648.55 128.43,650.26 129.97,651.69 131.52,652.87 133.06,653.83 134.6,654.61 136.14,655.24 137.68,655.75 139.22,656.15 140.77,656.47 142.31,656.73 143.85,656.93 145.39,657.09 146.93,657.22 148.47,657.32 150.02,657.4 151.56,657.46 153.1,657.51" fill="none" stroke="#4a1a80" stroke-width="1.05" stroke-dasharray="2.6 1.9" opacity="0.85"/>
<polyline points="60.6,592.72 62.14,592.73 63.68,592.73 65.22,592.74 66.77,592.75 68.31,592.76 69.85,592.77 71.39,592.79 72.93,592.81 74.47,592.83 76.02,592.86 77.56,592.89 79.1,592.93 80.64,592.98 82.18,593.04 83.72,593.11 85.27,593.19 86.81,593.3 88.35,593.42 89.89,593.57 91.43,593.75 92.97,593.97 94.52,594.23 96.06,594.55 97.6,594.93 99.14,595.38 100.68,595.92 102.22,596.56 103.77,597.32 105.31,598.21 106.85,599.26 108.39,600.48 109.93,601.89 111.47,603.51 113.02,605.35 114.56,607.42 116.1,609.72 117.64,612.24 119.18,614.96 120.72,617.85 122.27,620.86 123.81,623.95 125.35,627.07 126.89,630.15 128.43,633.14 129.97,636 131.52,638.68 133.06,641.15 134.6,643.41 136.14,645.43 137.68,647.23 139.22,648.81 140.77,650.18 142.31,651.37 143.85,652.38 145.39,653.25 146.93,653.98 148.47,654.6 150.02,655.12 151.56,655.55 153.1,655.92" fill="none" stroke="#4aa830" stroke-width="1.05" stroke-dasharray="2.6 1.9" opacity="0.85"/>
<polyline points="60.6,592.7 62.14,592.7 63.68,592.71 65.22,592.71 66.77,592.71 68.31,592.71 69.85,592.71 71.39,592.72 72.93,592.72 74.47,592.73 76.02,592.74 77.56,592.75 79.1,592.76 80.64,592.78 82.18,592.8 83.72,592.83 85.27,592.87 86.81,592.92 88.35,592.98 89.89,593.05 91.43,593.15 92.97,593.28 94.52,593.44 96.06,593.64 97.6,593.89 99.14,594.22 100.68,594.63 102.22,595.14 103.77,595.79 105.31,596.6 106.85,597.61 108.39,598.84 109.93,600.35 111.47,602.17 113.02,604.34 114.56,606.87 116.1,609.78 117.64,613.05 119.18,616.63 120.72,620.44 122.27,624.4 123.81,628.38 125.35,632.27 126.89,635.95 128.43,639.35 129.97,642.41 131.52,645.09 133.06,647.4 134.6,649.36 136.14,650.99 137.68,652.33 139.22,653.42 140.77,654.3 142.31,655.01 143.85,655.58 145.39,656.03 146.93,656.39 148.47,656.67 150.02,656.89 151.56,657.06 153.1,657.2" fill="none" stroke="#a80d3a" stroke-width="1.05" stroke-dasharray="2.6 1.9" opacity="0.85"/>
<line x1="64.83" y1="589.91" x2="64.83" y2="602" stroke="#4a1a80" stroke-width="0.6" />
<line x1="63.73" y1="589.91" x2="65.93" y2="589.91" stroke="#4a1a80" stroke-width="0.6" />
<line x1="63.73" y1="602" x2="65.93" y2="602" stroke="#4a1a80" stroke-width="0.6" />
<circle cx="64.83" cy="595.95" r="1.15" fill="#4a1a80"/>
<line x1="73.66" y1="592.7" x2="73.66" y2="601.8" stroke="#4a1a80" stroke-width="0.6" />
<line x1="72.56" y1="592.7" x2="74.76" y2="592.7" stroke="#4a1a80" stroke-width="0.6" />
<line x1="72.56" y1="601.8" x2="74.76" y2="601.8" stroke="#4a1a80" stroke-width="0.6" />
<circle cx="73.66" cy="597.25" r="1.15" fill="#4a1a80"/>
<line x1="82.49" y1="590.49" x2="82.49" y2="595.69" stroke="#4a1a80" stroke-width="0.6" />
<line x1="81.39" y1="590.49" x2="83.59" y2="590.49" stroke="#4a1a80" stroke-width="0.6" />
<line x1="81.39" y1="595.69" x2="83.59" y2="595.69" stroke="#4a1a80" stroke-width="0.6" />
<circle cx="82.49" cy="593.09" r="1.15" fill="#4a1a80"/>
<line x1="91.31" y1="589.45" x2="91.31" y2="598.55" stroke="#4a1a80" stroke-width="0.6" />
<line x1="90.21" y1="589.45" x2="92.41" y2="589.45" stroke="#4a1a80" stroke-width="0.6" />
<line x1="90.21" y1="598.55" x2="92.41" y2="598.55" stroke="#4a1a80" stroke-width="0.6" />
<circle cx="91.31" cy="594" r="1.15" fill="#4a1a80"/>
<line x1="100.14" y1="596.6" x2="100.14" y2="604.4" stroke="#4a1a80" stroke-width="0.6" />
<line x1="99.04" y1="596.6" x2="101.24" y2="596.6" stroke="#4a1a80" stroke-width="0.6" />
<line x1="99.04" y1="604.4" x2="101.24" y2="604.4" stroke="#4a1a80" stroke-width="0.6" />
<circle cx="100.14" cy="600.5" r="1.15" fill="#4a1a80"/>
<line x1="108.97" y1="610.97" x2="108.97" y2="623.97" stroke="#4a1a80" stroke-width="0.6" />
<line x1="107.87" y1="610.97" x2="110.07" y2="610.97" stroke="#4a1a80" stroke-width="0.6" />
<line x1="107.87" y1="623.97" x2="110.07" y2="623.97" stroke="#4a1a80" stroke-width="0.6" />
<circle cx="108.97" cy="617.47" r="1.15" fill="#4a1a80"/>
<line x1="117.79" y1="623.9" x2="117.79" y2="634.3" stroke="#4a1a80" stroke-width="0.6" />
<line x1="116.69" y1="623.9" x2="118.89" y2="623.9" stroke="#4a1a80" stroke-width="0.6" />
<line x1="116.69" y1="634.3" x2="118.89" y2="634.3" stroke="#4a1a80" stroke-width="0.6" />
<circle cx="117.79" cy="629.1" r="1.15" fill="#4a1a80"/>
<circle cx="135.45" cy="657.12" r="1.15" fill="#4a1a80"/>
<circle cx="144.27" cy="657.12" r="1.15" fill="#4a1a80"/>
<circle cx="153.1" cy="657.7" r="1.15" fill="#4a1a80"/>
<line x1="64.83" y1="595.95" x2="64.83" y2="603.75" stroke="#a80d3a" stroke-width="0.6" />
<line x1="63.73" y1="595.95" x2="65.93" y2="595.95" stroke="#a80d3a" stroke-width="0.6" />
<line x1="63.73" y1="603.75" x2="65.93" y2="603.75" stroke="#a80d3a" stroke-width="0.6" />
<circle cx="64.83" cy="599.85" r="1.15" fill="#a80d3a"/>
<circle cx="73.66" cy="597.71" r="1.15" fill="#a80d3a"/>
<circle cx="82.49" cy="593.42" r="1.15" fill="#a80d3a"/>
<circle cx="91.31" cy="594.33" r="1.15" fill="#a80d3a"/>
<line x1="100.14" y1="600.11" x2="100.14" y2="605.31" stroke="#a80d3a" stroke-width="0.6" />
<line x1="99.04" y1="600.11" x2="101.24" y2="600.11" stroke="#a80d3a" stroke-width="0.6" />
<line x1="99.04" y1="605.31" x2="101.24" y2="605.31" stroke="#a80d3a" stroke-width="0.6" />
<circle cx="100.14" cy="602.71" r="1.15" fill="#a80d3a"/>
<line x1="108.97" y1="596.93" x2="108.97" y2="604.73" stroke="#a80d3a" stroke-width="0.6" />
<line x1="107.87" y1="596.93" x2="110.07" y2="596.93" stroke="#a80d3a" stroke-width="0.6" />
<line x1="107.87" y1="604.73" x2="110.07" y2="604.73" stroke="#a80d3a" stroke-width="0.6" />
<circle cx="108.97" cy="600.83" r="1.15" fill="#a80d3a"/>
<line x1="117.79" y1="607" x2="117.79" y2="618.7" stroke="#a80d3a" stroke-width="0.6" />
<line x1="116.69" y1="607" x2="118.89" y2="607" stroke="#a80d3a" stroke-width="0.6" />
<line x1="116.69" y1="618.7" x2="118.89" y2="618.7" stroke="#a80d3a" stroke-width="0.6" />
<circle cx="117.79" cy="612.85" r="1.15" fill="#a80d3a"/>
<circle cx="126.62" cy="630.99" r="1.15" fill="#a80d3a"/>
<circle cx="135.45" cy="656.73" r="1.15" fill="#a80d3a"/>
<circle cx="144.27" cy="657.7" r="1.15" fill="#a80d3a"/>
<circle cx="153.1" cy="657.7" r="1.15" fill="#a80d3a"/>
<circle cx="100.14" cy="593.03" r="1.15" fill="#5ab0f0"/>
<circle cx="108.97" cy="608.75" r="1.15" fill="#5ab0f0"/>
<circle cx="117.79" cy="619.29" r="1.15" fill="#5ab0f0"/>
<circle cx="135.45" cy="655.62" r="1.15" fill="#5ab0f0"/>
<line x1="100.14" y1="597.38" x2="100.14" y2="601.28" stroke="#f0a020" stroke-width="0.6" />
<line x1="99.04" y1="597.38" x2="101.24" y2="597.38" stroke="#f0a020" stroke-width="0.6" />
<line x1="99.04" y1="601.28" x2="101.24" y2="601.28" stroke="#f0a020" stroke-width="0.6" />
<circle cx="100.14" cy="599.33" r="1.15" fill="#f0a020"/>
<line x1="108.97" y1="627.8" x2="108.97" y2="633" stroke="#f0a020" stroke-width="0.6" />
<line x1="107.87" y1="627.8" x2="110.07" y2="627.8" stroke="#f0a020" stroke-width="0.6" />
<line x1="107.87" y1="633" x2="110.07" y2="633" stroke="#f0a020" stroke-width="0.6" />
<circle cx="108.97" cy="630.4" r="1.15" fill="#f0a020"/>
<circle cx="117.79" cy="649.45" r="1.15" fill="#f0a020"/>
<circle cx="126.62" cy="656.21" r="1.15" fill="#f0a020"/>
<circle cx="135.45" cy="656.73" r="1.15" fill="#f0a020"/>
<circle cx="144.27" cy="657.12" r="1.15" fill="#f0a020"/>
<circle cx="153.1" cy="657.12" r="1.15" fill="#f0a020"/>
<circle cx="100.14" cy="594.72" r="1.15" fill="#4aa830"/>
<circle cx="108.97" cy="602.71" r="1.15" fill="#4aa830"/>
<circle cx="117.79" cy="640.48" r="1.15" fill="#4aa830"/>
<circle cx="126.62" cy="625.2" r="1.15" fill="#4aa830"/>
<circle cx="135.45" cy="646.98" r="1.15" fill="#4aa830"/>
<circle cx="144.27" cy="657.12" r="1.15" fill="#4aa830"/>
<circle cx="153.1" cy="657.12" r="1.15" fill="#4aa830"/>
<path d="M60.6,589.8 V660.5 H155.6" fill="none" stroke="#222" stroke-width="1.5"/>
<line x1="57.7" y1="657.7" x2="60.6" y2="657.7" stroke="#222" stroke-width="1.1" />
<text x="55.1" y="659.9" font-size="6.6" text-anchor="end" fill="#111" stroke="#111" stroke-width="0.2" >0</text>
<line x1="57.7" y1="641.45" x2="60.6" y2="641.45" stroke="#222" stroke-width="1.1" />
<text x="55.1" y="643.65" font-size="6.6" text-anchor="end" fill="#111" stroke="#111" stroke-width="0.2" >25</text>
<line x1="57.7" y1="625.2" x2="60.6" y2="625.2" stroke="#222" stroke-width="1.1" />
<text x="55.1" y="627.4" font-size="6.6" text-anchor="end" fill="#111" stroke="#111" stroke-width="0.2" >50</text>
<line x1="57.7" y1="608.95" x2="60.6" y2="608.95" stroke="#222" stroke-width="1.1" />
<text x="55.1" y="611.15" font-size="6.6" text-anchor="end" fill="#111" stroke="#111" stroke-width="0.2" >75</text>
<line x1="57.7" y1="592.7" x2="60.6" y2="592.7" stroke="#222" stroke-width="1.1" />
<text x="55.1" y="594.9" font-size="6.6" text-anchor="end" fill="#111" stroke="#111" stroke-width="0.2" >100</text>
<line x1="60.6" y1="660.5" x2="60.6" y2="663.5" stroke="#222" stroke-width="1" />
<line x1="66.77" y1="660.5" x2="66.77" y2="662.5" stroke="#222" stroke-width="1" />
<line x1="72.93" y1="660.5" x2="72.93" y2="662.5" stroke="#222" stroke-width="1" />
<line x1="79.1" y1="660.5" x2="79.1" y2="663.5" stroke="#222" stroke-width="1" />
<line x1="85.27" y1="660.5" x2="85.27" y2="662.5" stroke="#222" stroke-width="1" />
<line x1="91.43" y1="660.5" x2="91.43" y2="662.5" stroke="#222" stroke-width="1" />
<line x1="97.6" y1="660.5" x2="97.6" y2="663.5" stroke="#222" stroke-width="1" />
<line x1="103.77" y1="660.5" x2="103.77" y2="662.5" stroke="#222" stroke-width="1" />
<line x1="109.93" y1="660.5" x2="109.93" y2="662.5" stroke="#222" stroke-width="1" />
<line x1="116.1" y1="660.5" x2="116.1" y2="663.5" stroke="#222" stroke-width="1" />
<line x1="122.27" y1="660.5" x2="122.27" y2="662.5" stroke="#222" stroke-width="1" />
<line x1="128.43" y1="660.5" x2="128.43" y2="662.5" stroke="#222" stroke-width="1" />
<line x1="134.6" y1="660.5" x2="134.6" y2="663.5" stroke="#222" stroke-width="1" />
<line x1="140.77" y1="660.5" x2="140.77" y2="662.5" stroke="#222" stroke-width="1" />
<line x1="146.93" y1="660.5" x2="146.93" y2="662.5" stroke="#222" stroke-width="1" />
<line x1="153.1" y1="660.5" x2="153.1" y2="663.5" stroke="#222" stroke-width="1" />
<text transform="translate(63.2,670.7) rotate(-45)" font-size="6.6" text-anchor="end" fill="#111" stroke="#111" stroke-width="0.2">0.001</text>
<text transform="translate(81.7,670.7) rotate(-45)" font-size="6.6" text-anchor="end" fill="#111" stroke="#111" stroke-width="0.2">0.01</text>
<text transform="translate(100.2,670.7) rotate(-45)" font-size="6.6" text-anchor="end" fill="#111" stroke="#111" stroke-width="0.2">0.1</text>
<text transform="translate(118.7,670.7) rotate(-45)" font-size="6.6" text-anchor="end" fill="#111" stroke="#111" stroke-width="0.2">1</text>
<text transform="translate(137.2,670.7) rotate(-45)" font-size="6.6" text-anchor="end" fill="#111" stroke="#111" stroke-width="0.2">10</text>
<text transform="translate(155.7,670.7) rotate(-45)" font-size="6.6" text-anchor="end" fill="#111" stroke="#111" stroke-width="0.2">100</text>
<text x="108.6" y="694" font-size="8.3" text-anchor="middle" textLength="43.2" lengthAdjust="spacingAndGlyphs" fill="#111" stroke="#111" stroke-width="0.32" >Vorinostat [μM]</text>
<text transform="translate(38.2,625) rotate(-90)" font-size="8" text-anchor="middle" fill="#111" stroke="#111" stroke-width="0.32" textLength="52.6" lengthAdjust="spacingAndGlyphs">Viability (% control)</text>
<text x="196.7" y="537.7" font-size="9" text-anchor="start" font-weight="bold" fill="#000" stroke="#000" stroke-width="0.25" letter-spacing="0.5">v</text>
<text x="239.9" y="541.9" font-size="5.5" text-anchor="middle" font-weight="bold" fill="#000" stroke="#000" stroke-width="0.15" >Sample</text>
<text x="270.9" y="541.9" font-size="5.5" text-anchor="middle" font-weight="bold" fill="#000" stroke="#000" stroke-width="0.15" textLength="22" lengthAdjust="spacingAndGlyphs">IC<tspan font-size="3.3" dy="1">50</tspan><tspan dy="-1"> [μM]</tspan></text>
<text x="307.9" y="541.9" font-size="5.5" text-anchor="middle" font-weight="bold" fill="#000" stroke="#000" stroke-width="0.15" >Hill Slope</text>
<line x1="224.5" y1="549.6" x2="230.4" y2="549.6" stroke="#f0a020" stroke-width="0.7" />
<circle cx="227.45" cy="549.6" r="0.9" fill="#f0a020"/>
<text x="233.1" y="551.2" font-size="6" text-anchor="start" textLength="11.91" lengthAdjust="spacingAndGlyphs" fill="#222" >Sez4</text>
<text x="270.9" y="551.2" font-size="6" text-anchor="middle" textLength="39.72" lengthAdjust="spacingAndGlyphs" fill="#222" >0.0028 ± 0.0003</text>
<text x="307.9" y="551.2" font-size="6" text-anchor="middle" textLength="27.48" lengthAdjust="spacingAndGlyphs" fill="#222" >3.39 ± 1.05</text>
<line x1="224.5" y1="556.9" x2="230.4" y2="556.9" stroke="#5ab0f0" stroke-width="0.7" />
<circle cx="227.45" cy="556.9" r="0.9" fill="#5ab0f0"/>
<text x="233.1" y="558.5" font-size="6" text-anchor="start" textLength="7.55" lengthAdjust="spacingAndGlyphs" fill="#222" >HH</text>
<text x="270.9" y="558.5" font-size="6" text-anchor="middle" textLength="36.66" lengthAdjust="spacingAndGlyphs" fill="#222" >0.003 ± 0.0002</text>
<text x="307.9" y="558.5" font-size="6" text-anchor="middle" textLength="27.48" lengthAdjust="spacingAndGlyphs" fill="#222" >2.10 ± 0.29</text>
<line x1="224.5" y1="564.4" x2="230.4" y2="564.4" stroke="#4a1a80" stroke-width="0.7" />
<circle cx="227.45" cy="564.4" r="0.9" fill="#4a1a80"/>
<text x="233.1" y="566" font-size="6" text-anchor="start" textLength="13.94" lengthAdjust="spacingAndGlyphs" fill="#222" >Hut78</text>
<text x="270.9" y="566" font-size="6" text-anchor="middle" textLength="39.72" lengthAdjust="spacingAndGlyphs" fill="#222" >0.0008 ± 0.0001</text>
<text x="307.9" y="566" font-size="6" text-anchor="middle" textLength="27.48" lengthAdjust="spacingAndGlyphs" fill="#222" >2.22 ± 0.70</text>
<line x1="224.5" y1="572" x2="230.4" y2="572" stroke="#a80d3a" stroke-width="0.7" />
<circle cx="227.45" cy="572" r="0.9" fill="#a80d3a"/>
<text x="233.1" y="573.6" font-size="6" text-anchor="start" textLength="12.78" lengthAdjust="spacingAndGlyphs" fill="#222" >MyLa</text>
<text x="270.9" y="573.6" font-size="6" text-anchor="middle" textLength="33.6" lengthAdjust="spacingAndGlyphs" fill="#222" >0.012 ± 0.002</text>
<text x="307.9" y="573.6" font-size="6" text-anchor="middle" textLength="27.48" lengthAdjust="spacingAndGlyphs" fill="#222" >5.93 ± 1.61</text>
<line x1="224.5" y1="579.8" x2="230.4" y2="579.8" stroke="#4aa830" stroke-width="0.7" />
<circle cx="227.45" cy="579.8" r="0.9" fill="#4aa830"/>
<text x="233.1" y="581.4" font-size="6" text-anchor="start" textLength="12.49" lengthAdjust="spacingAndGlyphs" fill="#222" >SeAx</text>
<text x="270.9" y="581.4" font-size="6" text-anchor="middle" textLength="39.72" lengthAdjust="spacingAndGlyphs" fill="#222" >0.0023 ± 0.0003</text>
<text x="307.9" y="581.4" font-size="6" text-anchor="middle" textLength="27.48" lengthAdjust="spacingAndGlyphs" fill="#222" >2.28 ± 0.52</text>
<line x1="240.95" y1="625.4" x2="335.1" y2="625.4" stroke="#000" stroke-width="1.2" stroke-dasharray="1.35 1.42"/>
<polyline points="251.49,593.1 252.83,593.1 254.18,593.1 255.52,593.1 256.87,593.1 258.21,593.1 259.56,593.1 260.9,593.1 262.25,593.1 263.59,593.1 264.94,593.1 266.28,593.1 267.63,593.1 268.97,593.1 270.32,593.1 271.66,593.1 273.01,593.11 274.35,593.13 275.7,593.17 277.04,593.3 278.39,593.65 279.73,594.58 281.08,596.99 282.42,602.73 283.77,614.01 285.11,629.71 286.46,643.58 287.8,651.7 289.15,655.37 290.49,656.83 291.84,657.38 293.18,657.58 294.53,657.66 295.87,657.68 297.22,657.69 298.56,657.7 299.91,657.7 301.25,657.7 302.6,657.7 303.94,657.7 305.29,657.7 306.63,657.7 307.98,657.7 309.32,657.7 310.67,657.7 312.01,657.7 313.35,657.7 314.7,657.7 316.04,657.7 317.39,657.7 318.73,657.7 320.08,657.7 321.42,657.7 322.77,657.7 324.11,657.7 325.46,657.7 326.8,657.7 328.15,657.7 329.49,657.7 330.84,657.7 332.18,657.7" fill="none" stroke="#4a1a80" stroke-width="1.05" stroke-dasharray="2.6 1.9" opacity="0.85"/>
<polyline points="251.49,593.1 252.83,593.1 254.18,593.1 255.52,593.1 256.87,593.1 258.21,593.1 259.56,593.1 260.9,593.1 262.25,593.1 263.59,593.1 264.94,593.1 266.28,593.1 267.63,593.1 268.97,593.1 270.32,593.1 271.66,593.1 273.01,593.1 274.35,593.1 275.7,593.1 277.04,593.11 278.39,593.11 279.73,593.13 281.08,593.17 282.42,593.26 283.77,593.46 285.11,593.89 286.46,594.84 287.8,596.87 289.15,600.96 290.49,608.37 291.84,619.52 293.18,632.33 294.53,643.21 295.87,650.3 297.22,654.16 298.56,656.07 299.91,656.96 301.25,657.37 302.6,657.55 303.94,657.63 305.29,657.67 306.63,657.69 307.98,657.69 309.32,657.7 310.67,657.7 312.01,657.7 313.35,657.7 314.7,657.7 316.04,657.7 317.39,657.7 318.73,657.7 320.08,657.7 321.42,657.7 322.77,657.7 324.11,657.7 325.46,657.7 326.8,657.7 328.15,657.7 329.49,657.7 330.84,657.7 332.18,657.7" fill="none" stroke="#f0a020" stroke-width="1.05" stroke-dasharray="2.6 1.9" opacity="0.85"/>
<polyline points="251.49,593.1 252.83,593.1 254.18,593.1 255.52,593.1 256.87,593.1 258.21,593.1 259.56,593.1 260.9,593.1 262.25,593.1 263.59,593.1 264.94,593.1 266.28,593.1 267.63,593.1 268.97,593.1 270.32,593.1 271.66,593.1 273.01,593.11 274.35,593.11 275.7,593.13 277.04,593.15 278.39,593.19 279.73,593.26 281.08,593.4 282.42,593.64 283.77,594.08 285.11,594.87 286.46,596.27 287.8,598.66 289.15,602.59 290.49,608.57 291.84,616.7 293.18,626.22 294.53,635.6 295.87,643.39 297.22,649 298.56,652.63 299.91,654.83 301.25,656.1 302.6,656.81 303.94,657.21 305.29,657.43 306.63,657.55 307.98,657.62 309.32,657.66 310.67,657.68 312.01,657.69 313.35,657.69 314.7,657.7 316.04,657.7 317.39,657.7 318.73,657.7 320.08,657.7 321.42,657.7 322.77,657.7 324.11,657.7 325.46,657.7 326.8,657.7 328.15,657.7 329.49,657.7 330.84,657.7 332.18,657.7" fill="none" stroke="#5ab0f0" stroke-width="1.05" stroke-dasharray="2.6 1.9" opacity="0.85"/>
<polyline points="251.49,593.1 252.83,593.1 254.18,593.1 255.52,593.1 256.87,593.1 258.21,593.1 259.56,593.1 260.9,593.1 262.25,593.1 263.59,593.1 264.94,593.1 266.28,593.1 267.63,593.1 268.97,593.1 270.32,593.1 271.66,593.11 273.01,593.11 274.35,593.12 275.7,593.14 277.04,593.16 278.39,593.22 279.73,593.31 281.08,593.49 282.42,593.81 283.77,594.39 285.11,595.41 286.46,597.21 287.8,600.24 289.15,605.05 290.49,612.04 291.84,620.97 293.18,630.63 294.53,639.43 295.87,646.23 297.22,650.88 298.56,653.78 299.91,655.5 301.25,656.48 302.6,657.02 303.94,657.33 305.29,657.5 306.63,657.59 307.98,657.64 309.32,657.67 310.67,657.68 312.01,657.69 313.35,657.69 314.7,657.7 316.04,657.7 317.39,657.7 318.73,657.7 320.08,657.7 321.42,657.7 322.77,657.7 324.11,657.7 325.46,657.7 326.8,657.7 328.15,657.7 329.49,657.7 330.84,657.7 332.18,657.7" fill="none" stroke="#4aa830" stroke-width="1.05" stroke-dasharray="2.6 1.9" opacity="0.85"/>
<polyline points="251.49,593.1 252.83,593.1 254.18,593.1 255.52,593.1 256.87,593.1 258.21,593.1 259.56,593.1 260.9,593.1 262.25,593.1 263.59,593.1 264.94,593.1 266.28,593.1 267.63,593.1 268.97,593.1 270.32,593.1 271.66,593.1 273.01,593.1 274.35,593.1 275.7,593.1 277.04,593.1 278.39,593.1 279.73,593.1 281.08,593.1 282.42,593.1 283.77,593.11 285.11,593.11 286.46,593.12 287.8,593.13 289.15,593.17 290.49,593.23 291.84,593.34 293.18,593.55 294.53,593.95 295.87,594.71 297.22,596.09 298.56,598.56 299.91,602.75 301.25,609.29 302.6,618.22 303.94,628.48 305.29,638.15 306.63,645.71 307.98,650.79 309.32,653.87 310.67,655.63 312.01,656.6 313.35,657.12 314.7,657.39 316.04,657.54 317.39,657.61 318.73,657.66 320.08,657.68 321.42,657.69 322.77,657.69 324.11,657.7 325.46,657.7 326.8,657.7 328.15,657.7 329.49,657.7 330.84,657.7 332.18,657.7" fill="none" stroke="#a80d3a" stroke-width="1.05" stroke-dasharray="2.6 1.9" opacity="0.85"/>
<circle cx="251.36" cy="594.39" r="1.15" fill="#4a1a80"/>
<circle cx="251.36" cy="601.82" r="1.15" fill="#4a1a80"/>
<circle cx="258.71" cy="597.69" r="1.15" fill="#4a1a80"/>
<circle cx="258.71" cy="602.73" r="1.15" fill="#4a1a80"/>
<circle cx="266.05" cy="602.73" r="1.15" fill="#4a1a80"/>
<circle cx="280.75" cy="594.72" r="1.15" fill="#4a1a80"/>
<circle cx="288.1" cy="654.92" r="1.15" fill="#4a1a80"/>
<circle cx="295.45" cy="657.12" r="1.15" fill="#4a1a80"/>
<circle cx="251.36" cy="596.98" r="1.15" fill="#a80d3a"/>
<circle cx="251.36" cy="600.21" r="1.15" fill="#a80d3a"/>
<circle cx="251.36" cy="605.44" r="1.15" fill="#a80d3a"/>
<circle cx="258.71" cy="600.85" r="1.15" fill="#a80d3a"/>
<circle cx="258.71" cy="605.44" r="1.15" fill="#a80d3a"/>
<circle cx="258.71" cy="608.22" r="1.15" fill="#a80d3a"/>
<circle cx="266.05" cy="598.98" r="1.15" fill="#a80d3a"/>
<line x1="273.4" y1="596.39" x2="273.4" y2="601.56" stroke="#a80d3a" stroke-width="0.6" />
<line x1="272.3" y1="596.39" x2="274.5" y2="596.39" stroke="#a80d3a" stroke-width="0.6" />
<line x1="272.3" y1="601.56" x2="274.5" y2="601.56" stroke="#a80d3a" stroke-width="0.6" />
<circle cx="273.4" cy="598.98" r="1.15" fill="#a80d3a"/>
<circle cx="280.75" cy="599.88" r="1.15" fill="#a80d3a"/>
<circle cx="280.75" cy="601.37" r="1.15" fill="#a80d3a"/>
<circle cx="295.45" cy="605.44" r="1.15" fill="#a80d3a"/>
<line x1="302.79" y1="616.61" x2="302.79" y2="623.07" stroke="#a80d3a" stroke-width="0.6" />
<line x1="301.69" y1="616.61" x2="303.89" y2="616.61" stroke="#a80d3a" stroke-width="0.6" />
<line x1="301.69" y1="623.07" x2="303.89" y2="623.07" stroke="#a80d3a" stroke-width="0.6" />
<circle cx="302.79" cy="619.84" r="1.15" fill="#a80d3a"/>
<circle cx="310.14" cy="657.12" r="1.15" fill="#a80d3a"/>
<circle cx="317.49" cy="657.12" r="1.15" fill="#a80d3a"/>
<circle cx="324.84" cy="657.12" r="1.15" fill="#a80d3a"/>
<circle cx="332.18" cy="657.12" r="1.15" fill="#a80d3a"/>
<circle cx="251.36" cy="603.63" r="1.15" fill="#5ab0f0"/>
<circle cx="258.71" cy="594.39" r="1.15" fill="#5ab0f0"/>
<circle cx="266.05" cy="595.3" r="1.15" fill="#5ab0f0"/>
<circle cx="288.1" cy="602.14" r="1.15" fill="#5ab0f0"/>
<circle cx="295.45" cy="637.74" r="1.15" fill="#5ab0f0"/>
<circle cx="302.79" cy="656.21" r="1.15" fill="#5ab0f0"/>
<circle cx="251.36" cy="608.8" r="1.15" fill="#4aa830"/>
<circle cx="258.71" cy="611.9" r="1.15" fill="#4aa830"/>
<circle cx="266.05" cy="597.17" r="1.15" fill="#4aa830"/>
<circle cx="288.1" cy="604.53" r="1.15" fill="#4aa830"/>
<circle cx="288.1" cy="608.22" r="1.15" fill="#4aa830"/>
<circle cx="295.45" cy="640.52" r="1.15" fill="#4aa830"/>
<line x1="288.1" y1="594.59" x2="288.1" y2="599.75" stroke="#f0a020" stroke-width="0.6" />
<line x1="287" y1="594.59" x2="289.2" y2="594.59" stroke="#f0a020" stroke-width="0.6" />
<line x1="287" y1="599.75" x2="289.2" y2="599.75" stroke="#f0a020" stroke-width="0.6" />
<circle cx="288.1" cy="597.17" r="1.15" fill="#f0a020"/>
<circle cx="295.45" cy="643.29" r="1.15" fill="#f0a020"/>
<circle cx="302.79" cy="656.73" r="1.15" fill="#f0a020"/>
<circle cx="310.14" cy="657.12" r="1.15" fill="#f0a020"/>
<circle cx="317.49" cy="657.12" r="1.15" fill="#f0a020"/>
<circle cx="324.84" cy="657.12" r="1.15" fill="#f0a020"/>
<circle cx="332.18" cy="657.12" r="1.15" fill="#f0a020"/>
<path d="M239.6,589.8 V660.5 H335.1" fill="none" stroke="#222" stroke-width="1.5"/>
<line x1="236.7" y1="657.7" x2="239.6" y2="657.7" stroke="#222" stroke-width="1.1" />
<text x="234.1" y="659.9" font-size="6.6" text-anchor="end" fill="#111" stroke="#111" stroke-width="0.2" >0</text>
<line x1="236.7" y1="641.55" x2="239.6" y2="641.55" stroke="#222" stroke-width="1.1" />
<text x="234.1" y="643.75" font-size="6.6" text-anchor="end" fill="#111" stroke="#111" stroke-width="0.2" >25</text>
<line x1="236.7" y1="625.4" x2="239.6" y2="625.4" stroke="#222" stroke-width="1.1" />
<text x="234.1" y="627.6" font-size="6.6" text-anchor="end" fill="#111" stroke="#111" stroke-width="0.2" >50</text>
<line x1="236.7" y1="609.25" x2="239.6" y2="609.25" stroke="#222" stroke-width="1.1" />
<text x="234.1" y="611.45" font-size="6.6" text-anchor="end" fill="#111" stroke="#111" stroke-width="0.2" >75</text>
<line x1="236.7" y1="593.1" x2="239.6" y2="593.1" stroke="#222" stroke-width="1.1" />
<text x="234.1" y="595.3" font-size="6.6" text-anchor="end" fill="#111" stroke="#111" stroke-width="0.2" >100</text>
<line x1="240.4" y1="660.5" x2="240.4" y2="663.5" stroke="#222" stroke-width="1" />
<line x1="245.53" y1="660.5" x2="245.53" y2="662.5" stroke="#222" stroke-width="1" />
<line x1="250.67" y1="660.5" x2="250.67" y2="662.5" stroke="#222" stroke-width="1" />
<line x1="255.8" y1="660.5" x2="255.8" y2="663.5" stroke="#222" stroke-width="1" />
<line x1="260.93" y1="660.5" x2="260.93" y2="662.5" stroke="#222" stroke-width="1" />
<line x1="266.07" y1="660.5" x2="266.07" y2="662.5" stroke="#222" stroke-width="1" />
<line x1="271.2" y1="660.5" x2="271.2" y2="663.5" stroke="#222" stroke-width="1" />
<line x1="276.33" y1="660.5" x2="276.33" y2="662.5" stroke="#222" stroke-width="1" />
<line x1="281.47" y1="660.5" x2="281.47" y2="662.5" stroke="#222" stroke-width="1" />
<line x1="286.6" y1="660.5" x2="286.6" y2="663.5" stroke="#222" stroke-width="1" />
<line x1="291.73" y1="660.5" x2="291.73" y2="662.5" stroke="#222" stroke-width="1" />
<line x1="296.87" y1="660.5" x2="296.87" y2="662.5" stroke="#222" stroke-width="1" />
<line x1="302" y1="660.5" x2="302" y2="663.5" stroke="#222" stroke-width="1" />
<line x1="307.13" y1="660.5" x2="307.13" y2="662.5" stroke="#222" stroke-width="1" />
<line x1="312.27" y1="660.5" x2="312.27" y2="662.5" stroke="#222" stroke-width="1" />
<line x1="317.4" y1="660.5" x2="317.4" y2="663.5" stroke="#222" stroke-width="1" />
<line x1="322.53" y1="660.5" x2="322.53" y2="662.5" stroke="#222" stroke-width="1" />
<line x1="327.67" y1="660.5" x2="327.67" y2="662.5" stroke="#222" stroke-width="1" />
<line x1="332.8" y1="660.5" x2="332.8" y2="663.5" stroke="#222" stroke-width="1" />
<text transform="translate(243,670.7) rotate(-45)" font-size="6.6" text-anchor="end" fill="#111" stroke="#111" stroke-width="0.2">10<tspan font-size="3.6" dy="-2.2">-4</tspan></text>
<text transform="translate(258.4,670.7) rotate(-45)" font-size="6.6" text-anchor="end" fill="#111" stroke="#111" stroke-width="0.2">10<tspan font-size="3.6" dy="-2.2">-3</tspan></text>
<text transform="translate(273.8,670.7) rotate(-45)" font-size="6.6" text-anchor="end" fill="#111" stroke="#111" stroke-width="0.2">10<tspan font-size="3.6" dy="-2.2">-2</tspan></text>
<text transform="translate(289.2,670.7) rotate(-45)" font-size="6.6" text-anchor="end" fill="#111" stroke="#111" stroke-width="0.2">10<tspan font-size="3.6" dy="-2.2">-1</tspan></text>
<text transform="translate(304.6,670.7) rotate(-45)" font-size="6.6" text-anchor="end" fill="#111" stroke="#111" stroke-width="0.2">10<tspan font-size="3.6" dy="-2.2">0</tspan></text>
<text transform="translate(320,670.7) rotate(-45)" font-size="6.6" text-anchor="end" fill="#111" stroke="#111" stroke-width="0.2">10</text>
<text transform="translate(327.35,670.7) rotate(-45)" font-size="6.6" text-anchor="end" fill="#111" stroke="#111" stroke-width="0.2">30</text>
<text transform="translate(335.4,670.7) rotate(-45)" font-size="6.6" text-anchor="end" fill="#111" stroke="#111" stroke-width="0.2">10<tspan font-size="3.6" dy="-2.2">2</tspan></text>
<text x="288" y="694" font-size="8.3" text-anchor="middle" textLength="46" lengthAdjust="spacingAndGlyphs" fill="#111" stroke="#111" stroke-width="0.32" >Bortezomib [μM]</text>
<text transform="translate(217.6,625) rotate(-90)" font-size="8" text-anchor="middle" fill="#111" stroke="#111" stroke-width="0.32" textLength="52.6" lengthAdjust="spacingAndGlyphs">Viability (% control)</text>
<g shape-rendering="crispEdges"><rect x="0" y="0" width="520" height="1" fill="#000"/><rect x="0" y="702" width="520" height="1" fill="#000"/><rect x="0" y="0" width="1" height="703" fill="#000"/><rect x="519" y="0" width="1" height="703" fill="#000"/>
<rect x="1" y="1" width="518" height="1" fill="#c4c4c4"/><rect x="1" y="701" width="518" height="1" fill="#c4c4c4"/><rect x="1" y="1" width="1" height="701" fill="#c4c4c4"/><rect x="518" y="1" width="1" height="701" fill="#b0b0b0"/></g>
</svg>
</body></html>
